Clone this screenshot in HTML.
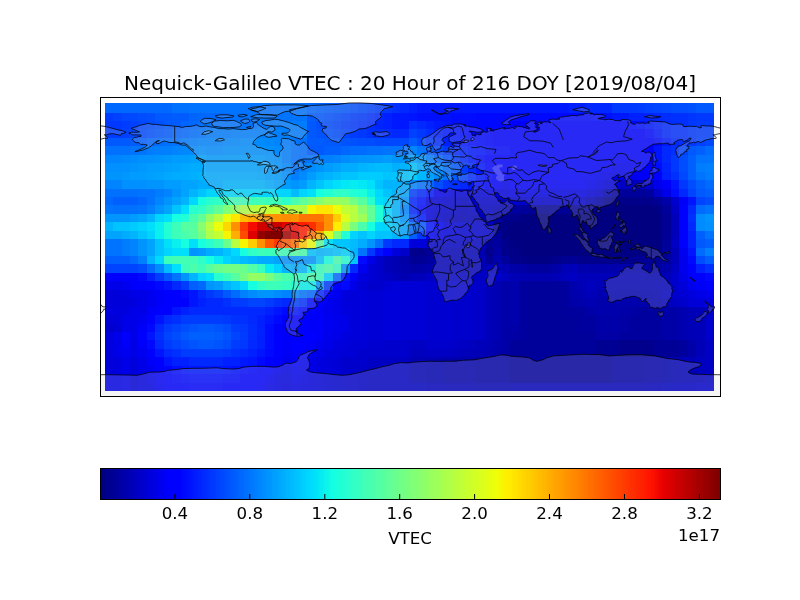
<!DOCTYPE html>
<html><head><meta charset="utf-8"><title>Nequick-Galileo VTEC</title><style>html,body{margin:0;padding:0;background:#fff;}body{width:800px;height:600px;position:relative;overflow:hidden;}</style></head><body>
<svg width="800" height="600" viewBox="0 0 800 600" style="position:absolute;left:0;top:0;will-change:transform">
<defs><clipPath id="ax"><rect x="100" y="97" width="620" height="299"/></clipPath></defs>
<g shape-rendering="crispEdges"><rect x="104.60" y="103.00" width="67.60" height="9.54" fill="#0068ff"/><rect x="172.20" y="103.00" width="16.90" height="9.54" fill="#0070ff"/><rect x="189.10" y="103.00" width="118.30" height="9.54" fill="#0074ff"/><rect x="307.40" y="103.00" width="8.45" height="9.54" fill="#0068ff"/><rect x="315.85" y="103.00" width="8.45" height="9.54" fill="#0064ff"/><rect x="324.30" y="103.00" width="8.45" height="9.54" fill="#0060ff"/><rect x="332.75" y="103.00" width="8.45" height="9.54" fill="#005cff"/><rect x="341.20" y="103.00" width="8.45" height="9.54" fill="#0058ff"/><rect x="349.65" y="103.00" width="8.45" height="9.54" fill="#0050ff"/><rect x="358.10" y="103.00" width="8.45" height="9.54" fill="#004cff"/><rect x="366.55" y="103.00" width="8.45" height="9.54" fill="#0044ff"/><rect x="375.00" y="103.00" width="8.45" height="9.54" fill="#003cff"/><rect x="383.45" y="103.00" width="8.45" height="9.54" fill="#0038ff"/><rect x="391.90" y="103.00" width="8.45" height="9.54" fill="#0030ff"/><rect x="400.35" y="103.00" width="8.45" height="9.54" fill="#0028ff"/><rect x="408.80" y="103.00" width="8.45" height="9.54" fill="#0020ff"/><rect x="417.25" y="103.00" width="152.10" height="9.54" fill="#0018ff"/><rect x="569.35" y="103.00" width="16.90" height="9.54" fill="#0020ff"/><rect x="586.25" y="103.00" width="25.35" height="9.54" fill="#0028ff"/><rect x="611.60" y="103.00" width="25.35" height="9.54" fill="#0038ff"/><rect x="636.95" y="103.00" width="8.45" height="9.54" fill="#003cff"/><rect x="645.40" y="103.00" width="8.45" height="9.54" fill="#0040ff"/><rect x="653.85" y="103.00" width="8.45" height="9.54" fill="#0044ff"/><rect x="662.30" y="103.00" width="8.45" height="9.54" fill="#0048ff"/><rect x="670.75" y="103.00" width="16.90" height="9.54" fill="#004cff"/><rect x="687.65" y="103.00" width="8.45" height="9.54" fill="#0050ff"/><rect x="696.10" y="103.00" width="17.90" height="9.54" fill="#0058ff"/><rect x="104.60" y="112.54" width="8.45" height="8.44" fill="#003cff"/><rect x="113.05" y="112.54" width="8.45" height="8.44" fill="#0040ff"/><rect x="121.50" y="112.54" width="16.90" height="8.44" fill="#0048ff"/><rect x="138.40" y="112.54" width="8.45" height="8.44" fill="#004cff"/><rect x="146.85" y="112.54" width="8.45" height="8.44" fill="#0050ff"/><rect x="155.30" y="112.54" width="16.90" height="8.44" fill="#0058ff"/><rect x="172.20" y="112.54" width="16.90" height="8.44" fill="#005cff"/><rect x="189.10" y="112.54" width="8.45" height="8.44" fill="#0064ff"/><rect x="197.55" y="112.54" width="25.35" height="8.44" fill="#0068ff"/><rect x="222.90" y="112.54" width="8.45" height="8.44" fill="#006cff"/><rect x="231.35" y="112.54" width="16.90" height="8.44" fill="#0070ff"/><rect x="248.25" y="112.54" width="59.15" height="8.44" fill="#0074ff"/><rect x="307.40" y="112.54" width="8.45" height="8.44" fill="#005cff"/><rect x="315.85" y="112.54" width="8.45" height="8.44" fill="#0058ff"/><rect x="324.30" y="112.54" width="8.45" height="8.44" fill="#0050ff"/><rect x="332.75" y="112.54" width="8.45" height="8.44" fill="#004cff"/><rect x="341.20" y="112.54" width="8.45" height="8.44" fill="#0044ff"/><rect x="349.65" y="112.54" width="8.45" height="8.44" fill="#003cff"/><rect x="358.10" y="112.54" width="8.45" height="8.44" fill="#0038ff"/><rect x="366.55" y="112.54" width="8.45" height="8.44" fill="#0030ff"/><rect x="375.00" y="112.54" width="8.45" height="8.44" fill="#0028ff"/><rect x="383.45" y="112.54" width="8.45" height="8.44" fill="#0020ff"/><rect x="391.90" y="112.54" width="16.90" height="8.44" fill="#0018ff"/><rect x="408.80" y="112.54" width="8.45" height="8.44" fill="#0014ff"/><rect x="417.25" y="112.54" width="33.80" height="8.44" fill="#0010ff"/><rect x="451.05" y="112.54" width="25.35" height="8.44" fill="#000cff"/><rect x="476.40" y="112.54" width="118.30" height="8.44" fill="#0008ff"/><rect x="594.70" y="112.54" width="8.45" height="8.44" fill="#000cff"/><rect x="603.15" y="112.54" width="8.45" height="8.44" fill="#0010ff"/><rect x="611.60" y="112.54" width="16.90" height="8.44" fill="#0018ff"/><rect x="628.50" y="112.54" width="16.90" height="8.44" fill="#0020ff"/><rect x="645.40" y="112.54" width="8.45" height="8.44" fill="#0024ff"/><rect x="653.85" y="112.54" width="8.45" height="8.44" fill="#0028ff"/><rect x="662.30" y="112.54" width="8.45" height="8.44" fill="#002cff"/><rect x="670.75" y="112.54" width="16.90" height="8.44" fill="#0030ff"/><rect x="687.65" y="112.54" width="8.45" height="8.44" fill="#0034ff"/><rect x="696.10" y="112.54" width="17.90" height="8.44" fill="#0038ff"/><rect x="104.60" y="120.98" width="16.90" height="8.44" fill="#0038ff"/><rect x="121.50" y="120.98" width="8.45" height="8.44" fill="#003cff"/><rect x="129.95" y="120.98" width="8.45" height="8.44" fill="#0040ff"/><rect x="138.40" y="120.98" width="8.45" height="8.44" fill="#0048ff"/><rect x="146.85" y="120.98" width="8.45" height="8.44" fill="#004cff"/><rect x="155.30" y="120.98" width="8.45" height="8.44" fill="#0050ff"/><rect x="163.75" y="120.98" width="8.45" height="8.44" fill="#0058ff"/><rect x="172.20" y="120.98" width="8.45" height="8.44" fill="#005cff"/><rect x="180.65" y="120.98" width="8.45" height="8.44" fill="#0064ff"/><rect x="189.10" y="120.98" width="8.45" height="8.44" fill="#0068ff"/><rect x="197.55" y="120.98" width="8.45" height="8.44" fill="#0070ff"/><rect x="206.00" y="120.98" width="50.70" height="8.44" fill="#0074ff"/><rect x="256.70" y="120.98" width="16.90" height="8.44" fill="#0078ff"/><rect x="273.60" y="120.98" width="33.80" height="8.44" fill="#007cff"/><rect x="307.40" y="120.98" width="8.45" height="8.44" fill="#0058ff"/><rect x="315.85" y="120.98" width="8.45" height="8.44" fill="#0050ff"/><rect x="324.30" y="120.98" width="8.45" height="8.44" fill="#004cff"/><rect x="332.75" y="120.98" width="8.45" height="8.44" fill="#0044ff"/><rect x="341.20" y="120.98" width="8.45" height="8.44" fill="#003cff"/><rect x="349.65" y="120.98" width="8.45" height="8.44" fill="#0038ff"/><rect x="358.10" y="120.98" width="8.45" height="8.44" fill="#0030ff"/><rect x="366.55" y="120.98" width="8.45" height="8.44" fill="#002cff"/><rect x="375.00" y="120.98" width="8.45" height="8.44" fill="#0024ff"/><rect x="383.45" y="120.98" width="8.45" height="8.44" fill="#0020ff"/><rect x="391.90" y="120.98" width="16.90" height="8.44" fill="#0018ff"/><rect x="408.80" y="120.98" width="8.45" height="8.44" fill="#0030ff"/><rect x="417.25" y="120.98" width="8.45" height="8.44" fill="#0028ff"/><rect x="425.70" y="120.98" width="8.45" height="8.44" fill="#0020ff"/><rect x="434.15" y="120.98" width="8.45" height="8.44" fill="#0018ff"/><rect x="442.60" y="120.98" width="8.45" height="8.44" fill="#0014ff"/><rect x="451.05" y="120.98" width="8.45" height="8.44" fill="#0010ff"/><rect x="459.50" y="120.98" width="8.45" height="8.44" fill="#000cff"/><rect x="467.95" y="120.98" width="42.25" height="8.44" fill="#0008ff"/><rect x="510.20" y="120.98" width="109.85" height="8.44" fill="#0000ff"/><rect x="620.05" y="120.98" width="8.45" height="8.44" fill="#0004ff"/><rect x="628.50" y="120.98" width="8.45" height="8.44" fill="#0008ff"/><rect x="636.95" y="120.98" width="8.45" height="8.44" fill="#0010ff"/><rect x="645.40" y="120.98" width="8.45" height="8.44" fill="#0018ff"/><rect x="653.85" y="120.98" width="8.45" height="8.44" fill="#0020ff"/><rect x="662.30" y="120.98" width="8.45" height="8.44" fill="#0028ff"/><rect x="670.75" y="120.98" width="16.90" height="8.44" fill="#0030ff"/><rect x="687.65" y="120.98" width="8.45" height="8.44" fill="#0038ff"/><rect x="696.10" y="120.98" width="17.90" height="8.44" fill="#003cff"/><rect x="104.60" y="129.42" width="16.90" height="8.44" fill="#003cff"/><rect x="121.50" y="129.42" width="8.45" height="8.44" fill="#0040ff"/><rect x="129.95" y="129.42" width="8.45" height="8.44" fill="#0048ff"/><rect x="138.40" y="129.42" width="8.45" height="8.44" fill="#004cff"/><rect x="146.85" y="129.42" width="8.45" height="8.44" fill="#0050ff"/><rect x="155.30" y="129.42" width="8.45" height="8.44" fill="#0058ff"/><rect x="163.75" y="129.42" width="8.45" height="8.44" fill="#005cff"/><rect x="172.20" y="129.42" width="8.45" height="8.44" fill="#0064ff"/><rect x="180.65" y="129.42" width="8.45" height="8.44" fill="#0068ff"/><rect x="189.10" y="129.42" width="8.45" height="8.44" fill="#0070ff"/><rect x="197.55" y="129.42" width="8.45" height="8.44" fill="#0074ff"/><rect x="206.00" y="129.42" width="25.35" height="8.44" fill="#007cff"/><rect x="231.35" y="129.42" width="59.15" height="8.44" fill="#0080ff"/><rect x="290.50" y="129.42" width="16.90" height="8.44" fill="#007cff"/><rect x="307.40" y="129.42" width="8.45" height="8.44" fill="#0058ff"/><rect x="315.85" y="129.42" width="8.45" height="8.44" fill="#0054ff"/><rect x="324.30" y="129.42" width="8.45" height="8.44" fill="#0050ff"/><rect x="332.75" y="129.42" width="8.45" height="8.44" fill="#004cff"/><rect x="341.20" y="129.42" width="8.45" height="8.44" fill="#0044ff"/><rect x="349.65" y="129.42" width="8.45" height="8.44" fill="#003cff"/><rect x="358.10" y="129.42" width="8.45" height="8.44" fill="#0038ff"/><rect x="366.55" y="129.42" width="16.90" height="8.44" fill="#0030ff"/><rect x="383.45" y="129.42" width="8.45" height="8.44" fill="#002cff"/><rect x="391.90" y="129.42" width="16.90" height="8.44" fill="#0028ff"/><rect x="408.80" y="129.42" width="8.45" height="8.44" fill="#0040ff"/><rect x="417.25" y="129.42" width="8.45" height="8.44" fill="#0038ff"/><rect x="425.70" y="129.42" width="8.45" height="8.44" fill="#002cff"/><rect x="434.15" y="129.42" width="8.45" height="8.44" fill="#0020ff"/><rect x="442.60" y="129.42" width="8.45" height="8.44" fill="#0018ff"/><rect x="451.05" y="129.42" width="8.45" height="8.44" fill="#0014ff"/><rect x="459.50" y="129.42" width="8.45" height="8.44" fill="#000cff"/><rect x="467.95" y="129.42" width="16.90" height="8.44" fill="#0008ff"/><rect x="484.85" y="129.42" width="8.45" height="8.44" fill="#0004ff"/><rect x="493.30" y="129.42" width="152.10" height="8.44" fill="#0000ff"/><rect x="645.40" y="129.42" width="8.45" height="8.44" fill="#0008ff"/><rect x="653.85" y="129.42" width="8.45" height="8.44" fill="#0018ff"/><rect x="662.30" y="129.42" width="8.45" height="8.44" fill="#0028ff"/><rect x="670.75" y="129.42" width="16.90" height="8.44" fill="#0030ff"/><rect x="687.65" y="129.42" width="8.45" height="8.44" fill="#0038ff"/><rect x="696.10" y="129.42" width="17.90" height="8.44" fill="#003cff"/><rect x="104.60" y="137.86" width="25.35" height="8.44" fill="#0058ff"/><rect x="129.95" y="137.86" width="8.45" height="8.44" fill="#005cff"/><rect x="138.40" y="137.86" width="8.45" height="8.44" fill="#0060ff"/><rect x="146.85" y="137.86" width="8.45" height="8.44" fill="#0068ff"/><rect x="155.30" y="137.86" width="8.45" height="8.44" fill="#006cff"/><rect x="163.75" y="137.86" width="8.45" height="8.44" fill="#0070ff"/><rect x="172.20" y="137.86" width="8.45" height="8.44" fill="#0074ff"/><rect x="180.65" y="137.86" width="8.45" height="8.44" fill="#007cff"/><rect x="189.10" y="137.86" width="8.45" height="8.44" fill="#0080ff"/><rect x="197.55" y="137.86" width="25.35" height="8.44" fill="#0084ff"/><rect x="222.90" y="137.86" width="16.90" height="8.44" fill="#0088ff"/><rect x="239.80" y="137.86" width="25.35" height="8.44" fill="#008cff"/><rect x="265.15" y="137.86" width="8.45" height="8.44" fill="#0088ff"/><rect x="273.60" y="137.86" width="8.45" height="8.44" fill="#0084ff"/><rect x="282.05" y="137.86" width="8.45" height="8.44" fill="#007cff"/><rect x="290.50" y="137.86" width="8.45" height="8.44" fill="#0074ff"/><rect x="298.95" y="137.86" width="8.45" height="8.44" fill="#0070ff"/><rect x="307.40" y="137.86" width="16.90" height="8.44" fill="#005cff"/><rect x="324.30" y="137.86" width="16.90" height="8.44" fill="#0058ff"/><rect x="341.20" y="137.86" width="8.45" height="8.44" fill="#0054ff"/><rect x="349.65" y="137.86" width="8.45" height="8.44" fill="#0050ff"/><rect x="358.10" y="137.86" width="16.90" height="8.44" fill="#004cff"/><rect x="375.00" y="137.86" width="33.80" height="8.44" fill="#0048ff"/><rect x="408.80" y="137.86" width="8.45" height="8.44" fill="#0058ff"/><rect x="417.25" y="137.86" width="8.45" height="8.44" fill="#0048ff"/><rect x="425.70" y="137.86" width="8.45" height="8.44" fill="#0038ff"/><rect x="434.15" y="137.86" width="8.45" height="8.44" fill="#002cff"/><rect x="442.60" y="137.86" width="8.45" height="8.44" fill="#0020ff"/><rect x="451.05" y="137.86" width="8.45" height="8.44" fill="#0018ff"/><rect x="459.50" y="137.86" width="8.45" height="8.44" fill="#0014ff"/><rect x="467.95" y="137.86" width="8.45" height="8.44" fill="#000cff"/><rect x="476.40" y="137.86" width="8.45" height="8.44" fill="#0008ff"/><rect x="484.85" y="137.86" width="8.45" height="8.44" fill="#0004ff"/><rect x="493.30" y="137.86" width="160.55" height="8.44" fill="#0000ff"/><rect x="653.85" y="137.86" width="8.45" height="8.44" fill="#0008ff"/><rect x="662.30" y="137.86" width="8.45" height="8.44" fill="#0018ff"/><rect x="670.75" y="137.86" width="8.45" height="8.44" fill="#0028ff"/><rect x="679.20" y="137.86" width="8.45" height="8.44" fill="#0030ff"/><rect x="687.65" y="137.86" width="8.45" height="8.44" fill="#0038ff"/><rect x="696.10" y="137.86" width="8.45" height="8.44" fill="#0040ff"/><rect x="704.55" y="137.86" width="9.45" height="8.44" fill="#0048ff"/><rect x="104.60" y="146.30" width="25.35" height="8.44" fill="#0070ff"/><rect x="129.95" y="146.30" width="16.90" height="8.44" fill="#0074ff"/><rect x="146.85" y="146.30" width="8.45" height="8.44" fill="#007cff"/><rect x="155.30" y="146.30" width="16.90" height="8.44" fill="#0080ff"/><rect x="172.20" y="146.30" width="8.45" height="8.44" fill="#0084ff"/><rect x="180.65" y="146.30" width="8.45" height="8.44" fill="#0088ff"/><rect x="189.10" y="146.30" width="8.45" height="8.44" fill="#008cff"/><rect x="197.55" y="146.30" width="8.45" height="8.44" fill="#0090ff"/><rect x="206.00" y="146.30" width="16.90" height="8.44" fill="#008cff"/><rect x="222.90" y="146.30" width="50.70" height="8.44" fill="#0090ff"/><rect x="273.60" y="146.30" width="8.45" height="8.44" fill="#008cff"/><rect x="282.05" y="146.30" width="8.45" height="8.44" fill="#0080ff"/><rect x="290.50" y="146.30" width="8.45" height="8.44" fill="#0074ff"/><rect x="298.95" y="146.30" width="8.45" height="8.44" fill="#0070ff"/><rect x="307.40" y="146.30" width="16.90" height="8.44" fill="#0058ff"/><rect x="324.30" y="146.30" width="16.90" height="8.44" fill="#0060ff"/><rect x="341.20" y="146.30" width="8.45" height="8.44" fill="#0068ff"/><rect x="349.65" y="146.30" width="16.90" height="8.44" fill="#006cff"/><rect x="366.55" y="146.30" width="16.90" height="8.44" fill="#0070ff"/><rect x="383.45" y="146.30" width="25.35" height="8.44" fill="#0074ff"/><rect x="408.80" y="146.30" width="8.45" height="8.44" fill="#0084ff"/><rect x="417.25" y="146.30" width="8.45" height="8.44" fill="#0074ff"/><rect x="425.70" y="146.30" width="8.45" height="8.44" fill="#005cff"/><rect x="434.15" y="146.30" width="8.45" height="8.44" fill="#0048ff"/><rect x="442.60" y="146.30" width="8.45" height="8.44" fill="#0038ff"/><rect x="451.05" y="146.30" width="8.45" height="8.44" fill="#0028ff"/><rect x="459.50" y="146.30" width="8.45" height="8.44" fill="#0020ff"/><rect x="467.95" y="146.30" width="8.45" height="8.44" fill="#0018ff"/><rect x="476.40" y="146.30" width="8.45" height="8.44" fill="#0014ff"/><rect x="484.85" y="146.30" width="8.45" height="8.44" fill="#000cff"/><rect x="493.30" y="146.30" width="16.90" height="8.44" fill="#0008ff"/><rect x="510.20" y="146.30" width="143.65" height="8.44" fill="#0000ff"/><rect x="653.85" y="146.30" width="8.45" height="8.44" fill="#0014ff"/><rect x="662.30" y="146.30" width="8.45" height="8.44" fill="#0028ff"/><rect x="670.75" y="146.30" width="8.45" height="8.44" fill="#0030ff"/><rect x="679.20" y="146.30" width="8.45" height="8.44" fill="#0044ff"/><rect x="687.65" y="146.30" width="8.45" height="8.44" fill="#0058ff"/><rect x="696.10" y="146.30" width="8.45" height="8.44" fill="#0060ff"/><rect x="704.55" y="146.30" width="9.45" height="8.44" fill="#006cff"/><rect x="104.60" y="154.74" width="16.90" height="8.44" fill="#0084ff"/><rect x="121.50" y="154.74" width="8.45" height="8.44" fill="#0088ff"/><rect x="129.95" y="154.74" width="8.45" height="8.44" fill="#008cff"/><rect x="138.40" y="154.74" width="16.90" height="8.44" fill="#0090ff"/><rect x="155.30" y="154.74" width="8.45" height="8.44" fill="#0094ff"/><rect x="163.75" y="154.74" width="8.45" height="8.44" fill="#0098ff"/><rect x="172.20" y="154.74" width="16.90" height="8.44" fill="#009cff"/><rect x="189.10" y="154.74" width="8.45" height="8.44" fill="#00a0ff"/><rect x="197.55" y="154.74" width="8.45" height="8.44" fill="#00a4ff"/><rect x="206.00" y="154.74" width="59.15" height="8.44" fill="#009cff"/><rect x="265.15" y="154.74" width="8.45" height="8.44" fill="#0094ff"/><rect x="273.60" y="154.74" width="8.45" height="8.44" fill="#0090ff"/><rect x="282.05" y="154.74" width="8.45" height="8.44" fill="#0080ff"/><rect x="290.50" y="154.74" width="8.45" height="8.44" fill="#0074ff"/><rect x="298.95" y="154.74" width="8.45" height="8.44" fill="#0070ff"/><rect x="307.40" y="154.74" width="8.45" height="8.44" fill="#0074ff"/><rect x="315.85" y="154.74" width="8.45" height="8.44" fill="#007cff"/><rect x="324.30" y="154.74" width="8.45" height="8.44" fill="#0080ff"/><rect x="332.75" y="154.74" width="8.45" height="8.44" fill="#0084ff"/><rect x="341.20" y="154.74" width="8.45" height="8.44" fill="#008cff"/><rect x="349.65" y="154.74" width="8.45" height="8.44" fill="#0090ff"/><rect x="358.10" y="154.74" width="16.90" height="8.44" fill="#0094ff"/><rect x="375.00" y="154.74" width="8.45" height="8.44" fill="#0098ff"/><rect x="383.45" y="154.74" width="8.45" height="8.44" fill="#009cff"/><rect x="391.90" y="154.74" width="16.90" height="8.44" fill="#0094ff"/><rect x="408.80" y="154.74" width="8.45" height="8.44" fill="#00a4ff"/><rect x="417.25" y="154.74" width="8.45" height="8.44" fill="#0094ff"/><rect x="425.70" y="154.74" width="8.45" height="8.44" fill="#007cff"/><rect x="434.15" y="154.74" width="8.45" height="8.44" fill="#0064ff"/><rect x="442.60" y="154.74" width="8.45" height="8.44" fill="#0050ff"/><rect x="451.05" y="154.74" width="8.45" height="8.44" fill="#003cff"/><rect x="459.50" y="154.74" width="8.45" height="8.44" fill="#0028ff"/><rect x="467.95" y="154.74" width="8.45" height="8.44" fill="#0018ff"/><rect x="476.40" y="154.74" width="8.45" height="8.44" fill="#0008ff"/><rect x="484.85" y="154.74" width="126.75" height="8.44" fill="#0000ff"/><rect x="611.60" y="154.74" width="25.35" height="8.44" fill="#0000fa"/><rect x="636.95" y="154.74" width="16.90" height="8.44" fill="#0000ff"/><rect x="653.85" y="154.74" width="8.45" height="8.44" fill="#0014ff"/><rect x="662.30" y="154.74" width="8.45" height="8.44" fill="#0028ff"/><rect x="670.75" y="154.74" width="8.45" height="8.44" fill="#0038ff"/><rect x="679.20" y="154.74" width="8.45" height="8.44" fill="#004cff"/><rect x="687.65" y="154.74" width="8.45" height="8.44" fill="#0060ff"/><rect x="696.10" y="154.74" width="17.90" height="8.44" fill="#0074ff"/><rect x="104.60" y="163.18" width="25.35" height="8.44" fill="#0090ff"/><rect x="129.95" y="163.18" width="8.45" height="8.44" fill="#0094ff"/><rect x="138.40" y="163.18" width="8.45" height="8.44" fill="#0098ff"/><rect x="146.85" y="163.18" width="16.90" height="8.44" fill="#009cff"/><rect x="163.75" y="163.18" width="8.45" height="8.44" fill="#00a0ff"/><rect x="172.20" y="163.18" width="8.45" height="8.44" fill="#00a4ff"/><rect x="180.65" y="163.18" width="8.45" height="8.44" fill="#00a8ff"/><rect x="189.10" y="163.18" width="16.90" height="8.44" fill="#00acff"/><rect x="206.00" y="163.18" width="50.70" height="8.44" fill="#00a4ff"/><rect x="256.70" y="163.18" width="8.45" height="8.44" fill="#00a0ff"/><rect x="265.15" y="163.18" width="8.45" height="8.44" fill="#009cff"/><rect x="273.60" y="163.18" width="8.45" height="8.44" fill="#0094ff"/><rect x="282.05" y="163.18" width="8.45" height="8.44" fill="#0088ff"/><rect x="290.50" y="163.18" width="8.45" height="8.44" fill="#0074ff"/><rect x="298.95" y="163.18" width="8.45" height="8.44" fill="#0080ff"/><rect x="307.40" y="163.18" width="8.45" height="8.44" fill="#008cff"/><rect x="315.85" y="163.18" width="8.45" height="8.44" fill="#0094ff"/><rect x="324.30" y="163.18" width="8.45" height="8.44" fill="#009cff"/><rect x="332.75" y="163.18" width="8.45" height="8.44" fill="#00a4ff"/><rect x="341.20" y="163.18" width="16.90" height="8.44" fill="#00acff"/><rect x="358.10" y="163.18" width="8.45" height="8.44" fill="#00b4ff"/><rect x="366.55" y="163.18" width="8.45" height="8.44" fill="#00b8ff"/><rect x="375.00" y="163.18" width="16.90" height="8.44" fill="#00bcff"/><rect x="391.90" y="163.18" width="8.45" height="8.44" fill="#00b0ff"/><rect x="400.35" y="163.18" width="8.45" height="8.44" fill="#00b4ff"/><rect x="408.80" y="163.18" width="8.45" height="8.44" fill="#00c4ff"/><rect x="417.25" y="163.18" width="8.45" height="8.44" fill="#00acff"/><rect x="425.70" y="163.18" width="8.45" height="8.44" fill="#0094ff"/><rect x="434.15" y="163.18" width="8.45" height="8.44" fill="#0084ff"/><rect x="442.60" y="163.18" width="8.45" height="8.44" fill="#0070ff"/><rect x="451.05" y="163.18" width="8.45" height="8.44" fill="#0058ff"/><rect x="459.50" y="163.18" width="8.45" height="8.44" fill="#003cff"/><rect x="467.95" y="163.18" width="8.45" height="8.44" fill="#0028ff"/><rect x="476.40" y="163.18" width="8.45" height="8.44" fill="#0014ff"/><rect x="484.85" y="163.18" width="8.45" height="8.44" fill="#0004ff"/><rect x="493.30" y="163.18" width="101.40" height="8.44" fill="#0000ff"/><rect x="594.70" y="163.18" width="16.90" height="8.44" fill="#0000fa"/><rect x="611.60" y="163.18" width="16.90" height="8.44" fill="#0000f1"/><rect x="628.50" y="163.18" width="8.45" height="8.44" fill="#0000f6"/><rect x="636.95" y="163.18" width="8.45" height="8.44" fill="#0000fa"/><rect x="645.40" y="163.18" width="8.45" height="8.44" fill="#0000ff"/><rect x="653.85" y="163.18" width="8.45" height="8.44" fill="#000cff"/><rect x="662.30" y="163.18" width="8.45" height="8.44" fill="#0024ff"/><rect x="670.75" y="163.18" width="8.45" height="8.44" fill="#0038ff"/><rect x="679.20" y="163.18" width="8.45" height="8.44" fill="#004cff"/><rect x="687.65" y="163.18" width="8.45" height="8.44" fill="#0060ff"/><rect x="696.10" y="163.18" width="8.45" height="8.44" fill="#007cff"/><rect x="704.55" y="163.18" width="9.45" height="8.44" fill="#0080ff"/><rect x="104.60" y="171.62" width="16.90" height="8.44" fill="#0094ff"/><rect x="121.50" y="171.62" width="8.45" height="8.44" fill="#0098ff"/><rect x="129.95" y="171.62" width="16.90" height="8.44" fill="#009cff"/><rect x="146.85" y="171.62" width="8.45" height="8.44" fill="#00a0ff"/><rect x="155.30" y="171.62" width="8.45" height="8.44" fill="#00a4ff"/><rect x="163.75" y="171.62" width="8.45" height="8.44" fill="#00a8ff"/><rect x="172.20" y="171.62" width="16.90" height="8.44" fill="#00acff"/><rect x="189.10" y="171.62" width="8.45" height="8.44" fill="#00b0ff"/><rect x="197.55" y="171.62" width="8.45" height="8.44" fill="#00b4ff"/><rect x="206.00" y="171.62" width="50.70" height="8.44" fill="#00acff"/><rect x="256.70" y="171.62" width="8.45" height="8.44" fill="#00a8ff"/><rect x="265.15" y="171.62" width="8.45" height="8.44" fill="#00a0ff"/><rect x="273.60" y="171.62" width="8.45" height="8.44" fill="#009cff"/><rect x="282.05" y="171.62" width="8.45" height="8.44" fill="#0090ff"/><rect x="290.50" y="171.62" width="8.45" height="8.44" fill="#0080ff"/><rect x="298.95" y="171.62" width="8.45" height="8.44" fill="#008cff"/><rect x="307.40" y="171.62" width="8.45" height="8.44" fill="#009cff"/><rect x="315.85" y="171.62" width="8.45" height="8.44" fill="#00acff"/><rect x="324.30" y="171.62" width="8.45" height="8.44" fill="#00b4ff"/><rect x="332.75" y="171.62" width="8.45" height="8.44" fill="#00bcff"/><rect x="341.20" y="171.62" width="16.90" height="8.44" fill="#00c4ff"/><rect x="358.10" y="171.62" width="25.35" height="8.44" fill="#00ccff"/><rect x="383.45" y="171.62" width="25.35" height="8.44" fill="#00c4ff"/><rect x="408.80" y="171.62" width="8.45" height="8.44" fill="#00ccff"/><rect x="417.25" y="171.62" width="8.45" height="8.44" fill="#00b8ff"/><rect x="425.70" y="171.62" width="8.45" height="8.44" fill="#00a4ff"/><rect x="434.15" y="171.62" width="8.45" height="8.44" fill="#0090ff"/><rect x="442.60" y="171.62" width="8.45" height="8.44" fill="#0074ff"/><rect x="451.05" y="171.62" width="8.45" height="8.44" fill="#005cff"/><rect x="459.50" y="171.62" width="8.45" height="8.44" fill="#0044ff"/><rect x="467.95" y="171.62" width="8.45" height="8.44" fill="#002cff"/><rect x="476.40" y="171.62" width="8.45" height="8.44" fill="#0018ff"/><rect x="484.85" y="171.62" width="8.45" height="8.44" fill="#0008ff"/><rect x="493.30" y="171.62" width="84.50" height="8.44" fill="#0000ff"/><rect x="577.80" y="171.62" width="16.90" height="8.44" fill="#0000fa"/><rect x="594.70" y="171.62" width="8.45" height="8.44" fill="#0000f1"/><rect x="603.15" y="171.62" width="8.45" height="8.44" fill="#0000ed"/><rect x="611.60" y="171.62" width="16.90" height="8.44" fill="#0000e8"/><rect x="628.50" y="171.62" width="8.45" height="8.44" fill="#0000ed"/><rect x="636.95" y="171.62" width="8.45" height="8.44" fill="#0000f6"/><rect x="645.40" y="171.62" width="8.45" height="8.44" fill="#0000fa"/><rect x="653.85" y="171.62" width="8.45" height="8.44" fill="#0000ff"/><rect x="662.30" y="171.62" width="8.45" height="8.44" fill="#0020ff"/><rect x="670.75" y="171.62" width="8.45" height="8.44" fill="#0030ff"/><rect x="679.20" y="171.62" width="8.45" height="8.44" fill="#0048ff"/><rect x="687.65" y="171.62" width="8.45" height="8.44" fill="#0060ff"/><rect x="696.10" y="171.62" width="8.45" height="8.44" fill="#0074ff"/><rect x="704.55" y="171.62" width="9.45" height="8.44" fill="#007cff"/><rect x="104.60" y="180.06" width="16.90" height="8.44" fill="#0084ff"/><rect x="121.50" y="180.06" width="25.35" height="8.44" fill="#0090ff"/><rect x="146.85" y="180.06" width="16.90" height="8.44" fill="#0094ff"/><rect x="163.75" y="180.06" width="16.90" height="8.44" fill="#009cff"/><rect x="180.65" y="180.06" width="16.90" height="8.44" fill="#00a4ff"/><rect x="197.55" y="180.06" width="25.35" height="8.44" fill="#00acff"/><rect x="222.90" y="180.06" width="42.25" height="8.44" fill="#00b4ff"/><rect x="265.15" y="180.06" width="8.45" height="8.44" fill="#00acff"/><rect x="273.60" y="180.06" width="8.45" height="8.44" fill="#00a4ff"/><rect x="282.05" y="180.06" width="8.45" height="8.44" fill="#009cff"/><rect x="290.50" y="180.06" width="8.45" height="8.44" fill="#0094ff"/><rect x="298.95" y="180.06" width="8.45" height="8.44" fill="#009cff"/><rect x="307.40" y="180.06" width="8.45" height="8.44" fill="#00b4ff"/><rect x="315.85" y="180.06" width="8.45" height="8.44" fill="#00c4ff"/><rect x="324.30" y="180.06" width="8.45" height="8.44" fill="#00d4ff"/><rect x="332.75" y="180.06" width="8.45" height="8.44" fill="#00e0fb"/><rect x="341.20" y="180.06" width="8.45" height="8.44" fill="#02e8f4"/><rect x="349.65" y="180.06" width="8.45" height="8.44" fill="#06ecf1"/><rect x="358.10" y="180.06" width="8.45" height="8.44" fill="#02e8f4"/><rect x="366.55" y="180.06" width="8.45" height="8.44" fill="#00e0fb"/><rect x="375.00" y="180.06" width="8.45" height="8.44" fill="#00c4ff"/><rect x="383.45" y="180.06" width="16.90" height="8.44" fill="#00b4ff"/><rect x="400.35" y="180.06" width="8.45" height="8.44" fill="#00acff"/><rect x="408.80" y="180.06" width="8.45" height="8.44" fill="#0084ff"/><rect x="417.25" y="180.06" width="8.45" height="8.44" fill="#0074ff"/><rect x="425.70" y="180.06" width="8.45" height="8.44" fill="#0068ff"/><rect x="434.15" y="180.06" width="8.45" height="8.44" fill="#004cff"/><rect x="442.60" y="180.06" width="8.45" height="8.44" fill="#0038ff"/><rect x="451.05" y="180.06" width="8.45" height="8.44" fill="#0030ff"/><rect x="459.50" y="180.06" width="8.45" height="8.44" fill="#0028ff"/><rect x="467.95" y="180.06" width="8.45" height="8.44" fill="#0018ff"/><rect x="476.40" y="180.06" width="8.45" height="8.44" fill="#0008ff"/><rect x="484.85" y="180.06" width="8.45" height="8.44" fill="#0000ff"/><rect x="493.30" y="180.06" width="8.45" height="8.44" fill="#0000fa"/><rect x="501.75" y="180.06" width="8.45" height="8.44" fill="#0000ed"/><rect x="510.20" y="180.06" width="76.05" height="8.44" fill="#0000fa"/><rect x="586.25" y="180.06" width="8.45" height="8.44" fill="#0000f1"/><rect x="594.70" y="180.06" width="8.45" height="8.44" fill="#0000e8"/><rect x="603.15" y="180.06" width="8.45" height="8.44" fill="#0000da"/><rect x="611.60" y="180.06" width="8.45" height="8.44" fill="#0000d6"/><rect x="620.05" y="180.06" width="25.35" height="8.44" fill="#0000c4"/><rect x="645.40" y="180.06" width="8.45" height="8.44" fill="#0000cd"/><rect x="653.85" y="180.06" width="8.45" height="8.44" fill="#0000e8"/><rect x="662.30" y="180.06" width="8.45" height="8.44" fill="#0000fa"/><rect x="670.75" y="180.06" width="8.45" height="8.44" fill="#0014ff"/><rect x="679.20" y="180.06" width="8.45" height="8.44" fill="#0038ff"/><rect x="687.65" y="180.06" width="8.45" height="8.44" fill="#004cff"/><rect x="696.10" y="180.06" width="8.45" height="8.44" fill="#0060ff"/><rect x="704.55" y="180.06" width="9.45" height="8.44" fill="#006cff"/><rect x="104.60" y="188.50" width="33.80" height="8.44" fill="#0070ff"/><rect x="138.40" y="188.50" width="16.90" height="8.44" fill="#0074ff"/><rect x="155.30" y="188.50" width="8.45" height="8.44" fill="#007cff"/><rect x="163.75" y="188.50" width="8.45" height="8.44" fill="#0084ff"/><rect x="172.20" y="188.50" width="8.45" height="8.44" fill="#0094ff"/><rect x="180.65" y="188.50" width="8.45" height="8.44" fill="#00a4ff"/><rect x="189.10" y="188.50" width="8.45" height="8.44" fill="#00b4ff"/><rect x="197.55" y="188.50" width="8.45" height="8.44" fill="#00c4ff"/><rect x="206.00" y="188.50" width="16.90" height="8.44" fill="#00d4ff"/><rect x="222.90" y="188.50" width="16.90" height="8.44" fill="#00d8ff"/><rect x="239.80" y="188.50" width="50.70" height="8.44" fill="#00d4ff"/><rect x="290.50" y="188.50" width="8.45" height="8.44" fill="#00bcff"/><rect x="298.95" y="188.50" width="8.45" height="8.44" fill="#00d4ff"/><rect x="307.40" y="188.50" width="8.45" height="8.44" fill="#00e0fb"/><rect x="315.85" y="188.50" width="8.45" height="8.44" fill="#16ffe1"/><rect x="324.30" y="188.50" width="8.45" height="8.44" fill="#23ffd4"/><rect x="332.75" y="188.50" width="16.90" height="8.44" fill="#30ffc7"/><rect x="349.65" y="188.50" width="8.45" height="8.44" fill="#23ffd4"/><rect x="358.10" y="188.50" width="8.45" height="8.44" fill="#1cffdb"/><rect x="366.55" y="188.50" width="8.45" height="8.44" fill="#09f0ee"/><rect x="375.00" y="188.50" width="8.45" height="8.44" fill="#00d8ff"/><rect x="383.45" y="188.50" width="8.45" height="8.44" fill="#00c4ff"/><rect x="391.90" y="188.50" width="8.45" height="8.44" fill="#00b4ff"/><rect x="400.35" y="188.50" width="8.45" height="8.44" fill="#00a4ff"/><rect x="408.80" y="188.50" width="8.45" height="8.44" fill="#003cff"/><rect x="417.25" y="188.50" width="8.45" height="8.44" fill="#0028ff"/><rect x="425.70" y="188.50" width="8.45" height="8.44" fill="#0018ff"/><rect x="434.15" y="188.50" width="8.45" height="8.44" fill="#0000ed"/><rect x="442.60" y="188.50" width="8.45" height="8.44" fill="#0000e8"/><rect x="451.05" y="188.50" width="8.45" height="8.44" fill="#0000df"/><rect x="459.50" y="188.50" width="25.35" height="8.44" fill="#0000da"/><rect x="484.85" y="188.50" width="25.35" height="8.44" fill="#0000df"/><rect x="510.20" y="188.50" width="76.05" height="8.44" fill="#0000e8"/><rect x="586.25" y="188.50" width="8.45" height="8.44" fill="#0000da"/><rect x="594.70" y="188.50" width="8.45" height="8.44" fill="#0000cd"/><rect x="603.15" y="188.50" width="8.45" height="8.44" fill="#0000b2"/><rect x="611.60" y="188.50" width="8.45" height="8.44" fill="#00009f"/><rect x="620.05" y="188.50" width="25.35" height="8.44" fill="#00009b"/><rect x="645.40" y="188.50" width="8.45" height="8.44" fill="#00009f"/><rect x="653.85" y="188.50" width="8.45" height="8.44" fill="#0000c8"/><rect x="662.30" y="188.50" width="8.45" height="8.44" fill="#0000e8"/><rect x="670.75" y="188.50" width="8.45" height="8.44" fill="#000cff"/><rect x="679.20" y="188.50" width="8.45" height="8.44" fill="#0028ff"/><rect x="687.65" y="188.50" width="8.45" height="8.44" fill="#0044ff"/><rect x="696.10" y="188.50" width="8.45" height="8.44" fill="#0058ff"/><rect x="704.55" y="188.50" width="9.45" height="8.44" fill="#0060ff"/><rect x="104.60" y="196.94" width="8.45" height="8.44" fill="#0068ff"/><rect x="113.05" y="196.94" width="25.35" height="8.44" fill="#0060ff"/><rect x="138.40" y="196.94" width="8.45" height="8.44" fill="#0068ff"/><rect x="146.85" y="196.94" width="8.45" height="8.44" fill="#0074ff"/><rect x="155.30" y="196.94" width="8.45" height="8.44" fill="#0084ff"/><rect x="163.75" y="196.94" width="8.45" height="8.44" fill="#0094ff"/><rect x="172.20" y="196.94" width="8.45" height="8.44" fill="#00a4ff"/><rect x="180.65" y="196.94" width="8.45" height="8.44" fill="#00b4ff"/><rect x="189.10" y="196.94" width="8.45" height="8.44" fill="#00d8ff"/><rect x="197.55" y="196.94" width="8.45" height="8.44" fill="#16ffe1"/><rect x="206.00" y="196.94" width="8.45" height="8.44" fill="#29ffce"/><rect x="214.45" y="196.94" width="8.45" height="8.44" fill="#30ffc7"/><rect x="222.90" y="196.94" width="8.45" height="8.44" fill="#3cffba"/><rect x="231.35" y="196.94" width="33.80" height="8.44" fill="#40ffb7"/><rect x="265.15" y="196.94" width="16.90" height="8.44" fill="#3cffba"/><rect x="282.05" y="196.94" width="8.45" height="8.44" fill="#30ffc7"/><rect x="290.50" y="196.94" width="8.45" height="8.44" fill="#49ffad"/><rect x="298.95" y="196.94" width="8.45" height="8.44" fill="#60ff97"/><rect x="307.40" y="196.94" width="8.45" height="8.44" fill="#73ff83"/><rect x="315.85" y="196.94" width="8.45" height="8.44" fill="#87ff70"/><rect x="324.30" y="196.94" width="16.90" height="8.44" fill="#9aff5d"/><rect x="341.20" y="196.94" width="8.45" height="8.44" fill="#94ff63"/><rect x="349.65" y="196.94" width="8.45" height="8.44" fill="#73ff83"/><rect x="358.10" y="196.94" width="8.45" height="8.44" fill="#56ffa0"/><rect x="366.55" y="196.94" width="8.45" height="8.44" fill="#29ffce"/><rect x="375.00" y="196.94" width="8.45" height="8.44" fill="#00e0fb"/><rect x="383.45" y="196.94" width="8.45" height="8.44" fill="#00d4ff"/><rect x="391.90" y="196.94" width="8.45" height="8.44" fill="#00b4ff"/><rect x="400.35" y="196.94" width="8.45" height="8.44" fill="#0094ff"/><rect x="408.80" y="196.94" width="8.45" height="8.44" fill="#0024ff"/><rect x="417.25" y="196.94" width="8.45" height="8.44" fill="#0010ff"/><rect x="425.70" y="196.94" width="8.45" height="8.44" fill="#0000df"/><rect x="434.15" y="196.94" width="8.45" height="8.44" fill="#0000da"/><rect x="442.60" y="196.94" width="8.45" height="8.44" fill="#0000d1"/><rect x="451.05" y="196.94" width="8.45" height="8.44" fill="#0000cd"/><rect x="459.50" y="196.94" width="8.45" height="8.44" fill="#0000c4"/><rect x="467.95" y="196.94" width="33.80" height="8.44" fill="#0000cd"/><rect x="501.75" y="196.94" width="8.45" height="8.44" fill="#0000c4"/><rect x="510.20" y="196.94" width="76.05" height="8.44" fill="#0000cd"/><rect x="586.25" y="196.94" width="8.45" height="8.44" fill="#0000bb"/><rect x="594.70" y="196.94" width="8.45" height="8.44" fill="#0000a8"/><rect x="603.15" y="196.94" width="8.45" height="8.44" fill="#000092"/><rect x="611.60" y="196.94" width="25.35" height="8.44" fill="#000089"/><rect x="636.95" y="196.94" width="16.90" height="8.44" fill="#00008d"/><rect x="653.85" y="196.94" width="8.45" height="8.44" fill="#000096"/><rect x="662.30" y="196.94" width="8.45" height="8.44" fill="#0000a8"/><rect x="670.75" y="196.94" width="8.45" height="8.44" fill="#0000cd"/><rect x="679.20" y="196.94" width="8.45" height="8.44" fill="#0000fa"/><rect x="687.65" y="196.94" width="8.45" height="8.44" fill="#0014ff"/><rect x="696.10" y="196.94" width="8.45" height="8.44" fill="#0044ff"/><rect x="704.55" y="196.94" width="9.45" height="8.44" fill="#004cff"/><rect x="104.60" y="205.38" width="8.45" height="8.44" fill="#0074ff"/><rect x="113.05" y="205.38" width="25.35" height="8.44" fill="#0070ff"/><rect x="138.40" y="205.38" width="8.45" height="8.44" fill="#0074ff"/><rect x="146.85" y="205.38" width="8.45" height="8.44" fill="#0080ff"/><rect x="155.30" y="205.38" width="8.45" height="8.44" fill="#0094ff"/><rect x="163.75" y="205.38" width="8.45" height="8.44" fill="#00a4ff"/><rect x="172.20" y="205.38" width="8.45" height="8.44" fill="#00c4ff"/><rect x="180.65" y="205.38" width="8.45" height="8.44" fill="#00e0fb"/><rect x="189.10" y="205.38" width="8.45" height="8.44" fill="#29ffce"/><rect x="197.55" y="205.38" width="8.45" height="8.44" fill="#30ffc7"/><rect x="206.00" y="205.38" width="8.45" height="8.44" fill="#49ffad"/><rect x="214.45" y="205.38" width="8.45" height="8.44" fill="#60ff97"/><rect x="222.90" y="205.38" width="8.45" height="8.44" fill="#80ff77"/><rect x="231.35" y="205.38" width="8.45" height="8.44" fill="#94ff63"/><rect x="239.80" y="205.38" width="8.45" height="8.44" fill="#adff49"/><rect x="248.25" y="205.38" width="8.45" height="8.44" fill="#b7ff40"/><rect x="256.70" y="205.38" width="25.35" height="8.44" fill="#c4ff33"/><rect x="282.05" y="205.38" width="16.90" height="8.44" fill="#b7ff40"/><rect x="298.95" y="205.38" width="8.45" height="8.44" fill="#adff49"/><rect x="307.40" y="205.38" width="8.45" height="8.44" fill="#f8f500"/><rect x="315.85" y="205.38" width="16.90" height="8.44" fill="#ffe600"/><rect x="332.75" y="205.38" width="8.45" height="8.44" fill="#ebff0c"/><rect x="341.20" y="205.38" width="8.45" height="8.44" fill="#c4ff33"/><rect x="349.65" y="205.38" width="8.45" height="8.44" fill="#b7ff40"/><rect x="358.10" y="205.38" width="8.45" height="8.44" fill="#87ff70"/><rect x="366.55" y="205.38" width="8.45" height="8.44" fill="#60ff97"/><rect x="375.00" y="205.38" width="8.45" height="8.44" fill="#23ffd4"/><rect x="383.45" y="205.38" width="8.45" height="8.44" fill="#00d8ff"/><rect x="391.90" y="205.38" width="8.45" height="8.44" fill="#00b4ff"/><rect x="400.35" y="205.38" width="8.45" height="8.44" fill="#0084ff"/><rect x="408.80" y="205.38" width="8.45" height="8.44" fill="#0024ff"/><rect x="417.25" y="205.38" width="8.45" height="8.44" fill="#0008ff"/><rect x="425.70" y="205.38" width="8.45" height="8.44" fill="#0000df"/><rect x="434.15" y="205.38" width="8.45" height="8.44" fill="#0000d1"/><rect x="442.60" y="205.38" width="8.45" height="8.44" fill="#0000cd"/><rect x="451.05" y="205.38" width="8.45" height="8.44" fill="#0000c4"/><rect x="459.50" y="205.38" width="8.45" height="8.44" fill="#0000bf"/><rect x="467.95" y="205.38" width="25.35" height="8.44" fill="#0000c4"/><rect x="493.30" y="205.38" width="8.45" height="8.44" fill="#0000bb"/><rect x="501.75" y="205.38" width="8.45" height="8.44" fill="#0000b2"/><rect x="510.20" y="205.38" width="8.45" height="8.44" fill="#00009f"/><rect x="518.65" y="205.38" width="8.45" height="8.44" fill="#00009b"/><rect x="527.10" y="205.38" width="59.15" height="8.44" fill="#000096"/><rect x="586.25" y="205.38" width="8.45" height="8.44" fill="#00008d"/><rect x="594.70" y="205.38" width="8.45" height="8.44" fill="#000089"/><rect x="603.15" y="205.38" width="8.45" height="8.44" fill="#000084"/><rect x="611.60" y="205.38" width="42.25" height="8.44" fill="#000080"/><rect x="653.85" y="205.38" width="8.45" height="8.44" fill="#000084"/><rect x="662.30" y="205.38" width="8.45" height="8.44" fill="#00009b"/><rect x="670.75" y="205.38" width="8.45" height="8.44" fill="#0000c4"/><rect x="679.20" y="205.38" width="8.45" height="8.44" fill="#0000ff"/><rect x="687.65" y="205.38" width="8.45" height="8.44" fill="#0028ff"/><rect x="696.10" y="205.38" width="8.45" height="8.44" fill="#006cff"/><rect x="704.55" y="205.38" width="9.45" height="8.44" fill="#0074ff"/><rect x="104.60" y="213.82" width="25.35" height="8.44" fill="#0094ff"/><rect x="129.95" y="213.82" width="8.45" height="8.44" fill="#009cff"/><rect x="138.40" y="213.82" width="8.45" height="8.44" fill="#00a4ff"/><rect x="146.85" y="213.82" width="8.45" height="8.44" fill="#00b4ff"/><rect x="155.30" y="213.82" width="8.45" height="8.44" fill="#00d4ff"/><rect x="163.75" y="213.82" width="8.45" height="8.44" fill="#00e0fb"/><rect x="172.20" y="213.82" width="8.45" height="8.44" fill="#16ffe1"/><rect x="180.65" y="213.82" width="8.45" height="8.44" fill="#23ffd4"/><rect x="189.10" y="213.82" width="8.45" height="8.44" fill="#49ffad"/><rect x="197.55" y="213.82" width="8.45" height="8.44" fill="#60ff97"/><rect x="206.00" y="213.82" width="8.45" height="8.44" fill="#94ff63"/><rect x="214.45" y="213.82" width="8.45" height="8.44" fill="#b7ff40"/><rect x="222.90" y="213.82" width="8.45" height="8.44" fill="#ebff0c"/><rect x="231.35" y="213.82" width="8.45" height="8.44" fill="#ffe600"/><rect x="239.80" y="213.82" width="8.45" height="8.44" fill="#ffbd00"/><rect x="248.25" y="213.82" width="8.45" height="8.44" fill="#ffae00"/><rect x="256.70" y="213.82" width="8.45" height="8.44" fill="#ff9f00"/><rect x="265.15" y="213.82" width="16.90" height="8.44" fill="#ff9100"/><rect x="282.05" y="213.82" width="8.45" height="8.44" fill="#ff8d00"/><rect x="290.50" y="213.82" width="8.45" height="8.44" fill="#ff9100"/><rect x="298.95" y="213.82" width="25.35" height="8.44" fill="#ff7300"/><rect x="324.30" y="213.82" width="8.45" height="8.44" fill="#ff9100"/><rect x="332.75" y="213.82" width="8.45" height="8.44" fill="#ffcc00"/><rect x="341.20" y="213.82" width="8.45" height="8.44" fill="#deff19"/><rect x="349.65" y="213.82" width="8.45" height="8.44" fill="#b7ff40"/><rect x="358.10" y="213.82" width="8.45" height="8.44" fill="#a0ff56"/><rect x="366.55" y="213.82" width="8.45" height="8.44" fill="#60ff97"/><rect x="375.00" y="213.82" width="8.45" height="8.44" fill="#23ffd4"/><rect x="383.45" y="213.82" width="8.45" height="8.44" fill="#00d8ff"/><rect x="391.90" y="213.82" width="8.45" height="8.44" fill="#00b4ff"/><rect x="400.35" y="213.82" width="8.45" height="8.44" fill="#0094ff"/><rect x="408.80" y="213.82" width="8.45" height="8.44" fill="#003cff"/><rect x="417.25" y="213.82" width="8.45" height="8.44" fill="#0018ff"/><rect x="425.70" y="213.82" width="8.45" height="8.44" fill="#0000df"/><rect x="434.15" y="213.82" width="8.45" height="8.44" fill="#0000d1"/><rect x="442.60" y="213.82" width="8.45" height="8.44" fill="#0000c4"/><rect x="451.05" y="213.82" width="8.45" height="8.44" fill="#0000bf"/><rect x="459.50" y="213.82" width="25.35" height="8.44" fill="#0000bb"/><rect x="484.85" y="213.82" width="8.45" height="8.44" fill="#0000b2"/><rect x="493.30" y="213.82" width="8.45" height="8.44" fill="#00009f"/><rect x="501.75" y="213.82" width="16.90" height="8.44" fill="#00008d"/><rect x="518.65" y="213.82" width="8.45" height="8.44" fill="#000084"/><rect x="527.10" y="213.82" width="135.20" height="8.44" fill="#000080"/><rect x="662.30" y="213.82" width="8.45" height="8.44" fill="#000096"/><rect x="670.75" y="213.82" width="8.45" height="8.44" fill="#0000bb"/><rect x="679.20" y="213.82" width="8.45" height="8.44" fill="#0000ff"/><rect x="687.65" y="213.82" width="8.45" height="8.44" fill="#0030ff"/><rect x="696.10" y="213.82" width="8.45" height="8.44" fill="#008cff"/><rect x="704.55" y="213.82" width="9.45" height="8.44" fill="#0094ff"/><rect x="104.60" y="222.26" width="8.45" height="8.44" fill="#00b4ff"/><rect x="113.05" y="222.26" width="16.90" height="8.44" fill="#00c4ff"/><rect x="129.95" y="222.26" width="8.45" height="8.44" fill="#00ccff"/><rect x="138.40" y="222.26" width="8.45" height="8.44" fill="#00d4ff"/><rect x="146.85" y="222.26" width="8.45" height="8.44" fill="#00e0fb"/><rect x="155.30" y="222.26" width="8.45" height="8.44" fill="#09f0ee"/><rect x="163.75" y="222.26" width="8.45" height="8.44" fill="#23ffd4"/><rect x="172.20" y="222.26" width="8.45" height="8.44" fill="#3cffba"/><rect x="180.65" y="222.26" width="16.90" height="8.44" fill="#56ffa0"/><rect x="197.55" y="222.26" width="8.45" height="8.44" fill="#87ff70"/><rect x="206.00" y="222.26" width="8.45" height="8.44" fill="#b7ff40"/><rect x="214.45" y="222.26" width="8.45" height="8.44" fill="#ebff0c"/><rect x="222.90" y="222.26" width="8.45" height="8.44" fill="#ffd700"/><rect x="231.35" y="222.26" width="8.45" height="8.44" fill="#ff9100"/><rect x="239.80" y="222.26" width="8.45" height="8.44" fill="#ff3b00"/><rect x="248.25" y="222.26" width="8.45" height="8.44" fill="#f60b00"/><rect x="256.70" y="222.26" width="8.45" height="8.44" fill="#d10000"/><rect x="265.15" y="222.26" width="16.90" height="8.44" fill="#c80000"/><rect x="282.05" y="222.26" width="8.45" height="8.44" fill="#e40000"/><rect x="290.50" y="222.26" width="8.45" height="8.44" fill="#fa0f00"/><rect x="298.95" y="222.26" width="8.45" height="8.44" fill="#ff1e00"/><rect x="307.40" y="222.26" width="8.45" height="8.44" fill="#ff2d00"/><rect x="315.85" y="222.26" width="8.45" height="8.44" fill="#ff5900"/><rect x="324.30" y="222.26" width="8.45" height="8.44" fill="#ff9100"/><rect x="332.75" y="222.26" width="8.45" height="8.44" fill="#feed00"/><rect x="341.20" y="222.26" width="8.45" height="8.44" fill="#b7ff40"/><rect x="349.65" y="222.26" width="8.45" height="8.44" fill="#7aff7d"/><rect x="358.10" y="222.26" width="8.45" height="8.44" fill="#49ffad"/><rect x="366.55" y="222.26" width="8.45" height="8.44" fill="#16ffe1"/><rect x="375.00" y="222.26" width="8.45" height="8.44" fill="#00d8ff"/><rect x="383.45" y="222.26" width="8.45" height="8.44" fill="#00d4ff"/><rect x="391.90" y="222.26" width="8.45" height="8.44" fill="#00c4ff"/><rect x="400.35" y="222.26" width="8.45" height="8.44" fill="#00a4ff"/><rect x="408.80" y="222.26" width="8.45" height="8.44" fill="#006cff"/><rect x="417.25" y="222.26" width="8.45" height="8.44" fill="#0058ff"/><rect x="425.70" y="222.26" width="8.45" height="8.44" fill="#0014ff"/><rect x="434.15" y="222.26" width="8.45" height="8.44" fill="#0000ff"/><rect x="442.60" y="222.26" width="8.45" height="8.44" fill="#0000df"/><rect x="451.05" y="222.26" width="8.45" height="8.44" fill="#0000da"/><rect x="459.50" y="222.26" width="8.45" height="8.44" fill="#0000d6"/><rect x="467.95" y="222.26" width="8.45" height="8.44" fill="#0000d1"/><rect x="476.40" y="222.26" width="16.90" height="8.44" fill="#0000cd"/><rect x="493.30" y="222.26" width="8.45" height="8.44" fill="#00008d"/><rect x="501.75" y="222.26" width="8.45" height="8.44" fill="#000084"/><rect x="510.20" y="222.26" width="152.10" height="8.44" fill="#000080"/><rect x="662.30" y="222.26" width="8.45" height="8.44" fill="#000096"/><rect x="670.75" y="222.26" width="8.45" height="8.44" fill="#0000bb"/><rect x="679.20" y="222.26" width="8.45" height="8.44" fill="#0000ff"/><rect x="687.65" y="222.26" width="8.45" height="8.44" fill="#0028ff"/><rect x="696.10" y="222.26" width="8.45" height="8.44" fill="#008cff"/><rect x="704.55" y="222.26" width="9.45" height="8.44" fill="#0090ff"/><rect x="104.60" y="230.70" width="16.90" height="8.44" fill="#00a4ff"/><rect x="121.50" y="230.70" width="8.45" height="8.44" fill="#00acff"/><rect x="129.95" y="230.70" width="8.45" height="8.44" fill="#00b4ff"/><rect x="138.40" y="230.70" width="8.45" height="8.44" fill="#00c4ff"/><rect x="146.85" y="230.70" width="8.45" height="8.44" fill="#00d4ff"/><rect x="155.30" y="230.70" width="8.45" height="8.44" fill="#09f0ee"/><rect x="163.75" y="230.70" width="8.45" height="8.44" fill="#23ffd4"/><rect x="172.20" y="230.70" width="8.45" height="8.44" fill="#3cffba"/><rect x="180.65" y="230.70" width="8.45" height="8.44" fill="#49ffad"/><rect x="189.10" y="230.70" width="8.45" height="8.44" fill="#56ffa0"/><rect x="197.55" y="230.70" width="8.45" height="8.44" fill="#73ff83"/><rect x="206.00" y="230.70" width="8.45" height="8.44" fill="#adff49"/><rect x="214.45" y="230.70" width="8.45" height="8.44" fill="#c4ff33"/><rect x="222.90" y="230.70" width="8.45" height="8.44" fill="#f8f500"/><rect x="231.35" y="230.70" width="8.45" height="8.44" fill="#ffae00"/><rect x="239.80" y="230.70" width="8.45" height="8.44" fill="#ff4a00"/><rect x="248.25" y="230.70" width="8.45" height="8.44" fill="#df0000"/><rect x="256.70" y="230.70" width="8.45" height="8.44" fill="#920000"/><rect x="265.15" y="230.70" width="16.90" height="8.44" fill="#800000"/><rect x="282.05" y="230.70" width="8.45" height="8.44" fill="#a40000"/><rect x="290.50" y="230.70" width="8.45" height="8.44" fill="#da0000"/><rect x="298.95" y="230.70" width="8.45" height="8.44" fill="#ff1e00"/><rect x="307.40" y="230.70" width="8.45" height="8.44" fill="#ff7300"/><rect x="315.85" y="230.70" width="8.45" height="8.44" fill="#ffae00"/><rect x="324.30" y="230.70" width="8.45" height="8.44" fill="#deff19"/><rect x="332.75" y="230.70" width="8.45" height="8.44" fill="#7aff7d"/><rect x="341.20" y="230.70" width="8.45" height="8.44" fill="#23ffd4"/><rect x="349.65" y="230.70" width="8.45" height="8.44" fill="#00d4ff"/><rect x="358.10" y="230.70" width="8.45" height="8.44" fill="#00c4ff"/><rect x="366.55" y="230.70" width="8.45" height="8.44" fill="#00d4ff"/><rect x="375.00" y="230.70" width="16.90" height="8.44" fill="#00c4ff"/><rect x="391.90" y="230.70" width="8.45" height="8.44" fill="#00b4ff"/><rect x="400.35" y="230.70" width="8.45" height="8.44" fill="#00a4ff"/><rect x="408.80" y="230.70" width="8.45" height="8.44" fill="#0060ff"/><rect x="417.25" y="230.70" width="8.45" height="8.44" fill="#0038ff"/><rect x="425.70" y="230.70" width="8.45" height="8.44" fill="#0000ff"/><rect x="434.15" y="230.70" width="8.45" height="8.44" fill="#0000e8"/><rect x="442.60" y="230.70" width="8.45" height="8.44" fill="#0000df"/><rect x="451.05" y="230.70" width="8.45" height="8.44" fill="#0000da"/><rect x="459.50" y="230.70" width="16.90" height="8.44" fill="#0000d6"/><rect x="476.40" y="230.70" width="8.45" height="8.44" fill="#0000d1"/><rect x="484.85" y="230.70" width="8.45" height="8.44" fill="#0000cd"/><rect x="493.30" y="230.70" width="8.45" height="8.44" fill="#000096"/><rect x="501.75" y="230.70" width="8.45" height="8.44" fill="#000084"/><rect x="510.20" y="230.70" width="152.10" height="8.44" fill="#000080"/><rect x="662.30" y="230.70" width="8.45" height="8.44" fill="#000096"/><rect x="670.75" y="230.70" width="8.45" height="8.44" fill="#0000bb"/><rect x="679.20" y="230.70" width="8.45" height="8.44" fill="#0000ff"/><rect x="687.65" y="230.70" width="8.45" height="8.44" fill="#0020ff"/><rect x="696.10" y="230.70" width="8.45" height="8.44" fill="#0060ff"/><rect x="704.55" y="230.70" width="9.45" height="8.44" fill="#0074ff"/><rect x="104.60" y="239.14" width="16.90" height="8.44" fill="#0074ff"/><rect x="121.50" y="239.14" width="8.45" height="8.44" fill="#007cff"/><rect x="129.95" y="239.14" width="8.45" height="8.44" fill="#0084ff"/><rect x="138.40" y="239.14" width="8.45" height="8.44" fill="#0094ff"/><rect x="146.85" y="239.14" width="8.45" height="8.44" fill="#00a4ff"/><rect x="155.30" y="239.14" width="8.45" height="8.44" fill="#00c4ff"/><rect x="163.75" y="239.14" width="8.45" height="8.44" fill="#00e0fb"/><rect x="172.20" y="239.14" width="8.45" height="8.44" fill="#09f0ee"/><rect x="180.65" y="239.14" width="8.45" height="8.44" fill="#16ffe1"/><rect x="189.10" y="239.14" width="8.45" height="8.44" fill="#00e0fb"/><rect x="197.55" y="239.14" width="8.45" height="8.44" fill="#16ffe1"/><rect x="206.00" y="239.14" width="8.45" height="8.44" fill="#29ffce"/><rect x="214.45" y="239.14" width="8.45" height="8.44" fill="#3cffba"/><rect x="222.90" y="239.14" width="8.45" height="8.44" fill="#6aff8d"/><rect x="231.35" y="239.14" width="8.45" height="8.44" fill="#b7ff40"/><rect x="239.80" y="239.14" width="8.45" height="8.44" fill="#f8f500"/><rect x="248.25" y="239.14" width="8.45" height="8.44" fill="#ffcc00"/><rect x="256.70" y="239.14" width="8.45" height="8.44" fill="#ff9100"/><rect x="265.15" y="239.14" width="8.45" height="8.44" fill="#ff5900"/><rect x="273.60" y="239.14" width="8.45" height="8.44" fill="#ff3b00"/><rect x="282.05" y="239.14" width="8.45" height="8.44" fill="#ff5900"/><rect x="290.50" y="239.14" width="8.45" height="8.44" fill="#ff7300"/><rect x="298.95" y="239.14" width="8.45" height="8.44" fill="#ffcc00"/><rect x="307.40" y="239.14" width="8.45" height="8.44" fill="#ebff0c"/><rect x="315.85" y="239.14" width="8.45" height="8.44" fill="#60ff97"/><rect x="324.30" y="239.14" width="8.45" height="8.44" fill="#00e0fb"/><rect x="332.75" y="239.14" width="16.90" height="8.44" fill="#00c4ff"/><rect x="349.65" y="239.14" width="8.45" height="8.44" fill="#00bcff"/><rect x="358.10" y="239.14" width="8.45" height="8.44" fill="#00acff"/><rect x="366.55" y="239.14" width="8.45" height="8.44" fill="#0094ff"/><rect x="375.00" y="239.14" width="8.45" height="8.44" fill="#0070ff"/><rect x="383.45" y="239.14" width="8.45" height="8.44" fill="#0038ff"/><rect x="391.90" y="239.14" width="16.90" height="8.44" fill="#0028ff"/><rect x="408.80" y="239.14" width="16.90" height="8.44" fill="#0000da"/><rect x="425.70" y="239.14" width="8.45" height="8.44" fill="#0000cd"/><rect x="434.15" y="239.14" width="50.70" height="8.44" fill="#0000c4"/><rect x="484.85" y="239.14" width="8.45" height="8.44" fill="#000096"/><rect x="493.30" y="239.14" width="8.45" height="8.44" fill="#00009f"/><rect x="501.75" y="239.14" width="8.45" height="8.44" fill="#00008d"/><rect x="510.20" y="239.14" width="8.45" height="8.44" fill="#000084"/><rect x="518.65" y="239.14" width="143.65" height="8.44" fill="#000080"/><rect x="662.30" y="239.14" width="8.45" height="8.44" fill="#00009b"/><rect x="670.75" y="239.14" width="8.45" height="8.44" fill="#0000c4"/><rect x="679.20" y="239.14" width="8.45" height="8.44" fill="#0000ff"/><rect x="687.65" y="239.14" width="8.45" height="8.44" fill="#0020ff"/><rect x="696.10" y="239.14" width="8.45" height="8.44" fill="#0058ff"/><rect x="704.55" y="239.14" width="9.45" height="8.44" fill="#0060ff"/><rect x="104.60" y="247.58" width="16.90" height="8.44" fill="#0074ff"/><rect x="121.50" y="247.58" width="8.45" height="8.44" fill="#007cff"/><rect x="129.95" y="247.58" width="8.45" height="8.44" fill="#0084ff"/><rect x="138.40" y="247.58" width="8.45" height="8.44" fill="#0094ff"/><rect x="146.85" y="247.58" width="8.45" height="8.44" fill="#00a4ff"/><rect x="155.30" y="247.58" width="8.45" height="8.44" fill="#00c4ff"/><rect x="163.75" y="247.58" width="8.45" height="8.44" fill="#00d4ff"/><rect x="172.20" y="247.58" width="16.90" height="8.44" fill="#00e0fb"/><rect x="189.10" y="247.58" width="8.45" height="8.44" fill="#0094ff"/><rect x="197.55" y="247.58" width="8.45" height="8.44" fill="#009cff"/><rect x="206.00" y="247.58" width="8.45" height="8.44" fill="#00acff"/><rect x="214.45" y="247.58" width="8.45" height="8.44" fill="#00b4ff"/><rect x="222.90" y="247.58" width="8.45" height="8.44" fill="#00c4ff"/><rect x="231.35" y="247.58" width="8.45" height="8.44" fill="#00d8ff"/><rect x="239.80" y="247.58" width="8.45" height="8.44" fill="#16ffe1"/><rect x="248.25" y="247.58" width="8.45" height="8.44" fill="#30ffc7"/><rect x="256.70" y="247.58" width="16.90" height="8.44" fill="#3cffba"/><rect x="273.60" y="247.58" width="8.45" height="8.44" fill="#40ffb7"/><rect x="282.05" y="247.58" width="8.45" height="8.44" fill="#3cffba"/><rect x="290.50" y="247.58" width="8.45" height="8.44" fill="#56ffa0"/><rect x="298.95" y="247.58" width="8.45" height="8.44" fill="#49ffad"/><rect x="307.40" y="247.58" width="8.45" height="8.44" fill="#00c4ff"/><rect x="315.85" y="247.58" width="8.45" height="8.44" fill="#00b4ff"/><rect x="324.30" y="247.58" width="8.45" height="8.44" fill="#00bcff"/><rect x="332.75" y="247.58" width="8.45" height="8.44" fill="#00c4ff"/><rect x="341.20" y="247.58" width="8.45" height="8.44" fill="#00d4ff"/><rect x="349.65" y="247.58" width="8.45" height="8.44" fill="#00b4ff"/><rect x="358.10" y="247.58" width="8.45" height="8.44" fill="#0074ff"/><rect x="366.55" y="247.58" width="8.45" height="8.44" fill="#0038ff"/><rect x="375.00" y="247.58" width="8.45" height="8.44" fill="#0010ff"/><rect x="383.45" y="247.58" width="8.45" height="8.44" fill="#0000ff"/><rect x="391.90" y="247.58" width="8.45" height="8.44" fill="#0000df"/><rect x="400.35" y="247.58" width="8.45" height="8.44" fill="#0000cd"/><rect x="408.80" y="247.58" width="16.90" height="8.44" fill="#00008d"/><rect x="425.70" y="247.58" width="8.45" height="8.44" fill="#000096"/><rect x="434.15" y="247.58" width="42.25" height="8.44" fill="#0000bb"/><rect x="476.40" y="247.58" width="8.45" height="8.44" fill="#0000b2"/><rect x="484.85" y="247.58" width="8.45" height="8.44" fill="#00008d"/><rect x="493.30" y="247.58" width="8.45" height="8.44" fill="#0000a4"/><rect x="501.75" y="247.58" width="8.45" height="8.44" fill="#00008d"/><rect x="510.20" y="247.58" width="8.45" height="8.44" fill="#000089"/><rect x="518.65" y="247.58" width="92.95" height="8.44" fill="#000080"/><rect x="611.60" y="247.58" width="50.70" height="8.44" fill="#000084"/><rect x="662.30" y="247.58" width="8.45" height="8.44" fill="#00009f"/><rect x="670.75" y="247.58" width="8.45" height="8.44" fill="#0000bb"/><rect x="679.20" y="247.58" width="8.45" height="8.44" fill="#0000f1"/><rect x="687.65" y="247.58" width="8.45" height="8.44" fill="#0014ff"/><rect x="696.10" y="247.58" width="8.45" height="8.44" fill="#006cff"/><rect x="704.55" y="247.58" width="9.45" height="8.44" fill="#0080ff"/><rect x="104.60" y="256.02" width="25.35" height="8.44" fill="#0060ff"/><rect x="129.95" y="256.02" width="8.45" height="8.44" fill="#006cff"/><rect x="138.40" y="256.02" width="8.45" height="8.44" fill="#0080ff"/><rect x="146.85" y="256.02" width="8.45" height="8.44" fill="#00b4ff"/><rect x="155.30" y="256.02" width="8.45" height="8.44" fill="#00d8ff"/><rect x="163.75" y="256.02" width="8.45" height="8.44" fill="#3cffba"/><rect x="172.20" y="256.02" width="16.90" height="8.44" fill="#43ffb4"/><rect x="189.10" y="256.02" width="8.45" height="8.44" fill="#40ffb7"/><rect x="197.55" y="256.02" width="8.45" height="8.44" fill="#30ffc7"/><rect x="206.00" y="256.02" width="8.45" height="8.44" fill="#16ffe1"/><rect x="214.45" y="256.02" width="8.45" height="8.44" fill="#06ecf1"/><rect x="222.90" y="256.02" width="8.45" height="8.44" fill="#00d4ff"/><rect x="231.35" y="256.02" width="8.45" height="8.44" fill="#00c8ff"/><rect x="239.80" y="256.02" width="8.45" height="8.44" fill="#00bcff"/><rect x="248.25" y="256.02" width="8.45" height="8.44" fill="#00b4ff"/><rect x="256.70" y="256.02" width="16.90" height="8.44" fill="#00acff"/><rect x="273.60" y="256.02" width="8.45" height="8.44" fill="#00a4ff"/><rect x="282.05" y="256.02" width="8.45" height="8.44" fill="#0094ff"/><rect x="290.50" y="256.02" width="8.45" height="8.44" fill="#0090ff"/><rect x="298.95" y="256.02" width="16.90" height="8.44" fill="#0094ff"/><rect x="315.85" y="256.02" width="8.45" height="8.44" fill="#00c4ff"/><rect x="324.30" y="256.02" width="8.45" height="8.44" fill="#16ffe1"/><rect x="332.75" y="256.02" width="8.45" height="8.44" fill="#49ffad"/><rect x="341.20" y="256.02" width="8.45" height="8.44" fill="#23ffd4"/><rect x="349.65" y="256.02" width="8.45" height="8.44" fill="#00c4ff"/><rect x="358.10" y="256.02" width="8.45" height="8.44" fill="#0008ff"/><rect x="366.55" y="256.02" width="8.45" height="8.44" fill="#0000e8"/><rect x="375.00" y="256.02" width="8.45" height="8.44" fill="#0000cd"/><rect x="383.45" y="256.02" width="8.45" height="8.44" fill="#0000bb"/><rect x="391.90" y="256.02" width="8.45" height="8.44" fill="#0000b2"/><rect x="400.35" y="256.02" width="8.45" height="8.44" fill="#0000a8"/><rect x="408.80" y="256.02" width="16.90" height="8.44" fill="#000096"/><rect x="425.70" y="256.02" width="8.45" height="8.44" fill="#00009f"/><rect x="434.15" y="256.02" width="50.70" height="8.44" fill="#0000bb"/><rect x="484.85" y="256.02" width="8.45" height="8.44" fill="#000096"/><rect x="493.30" y="256.02" width="8.45" height="8.44" fill="#0000ad"/><rect x="501.75" y="256.02" width="8.45" height="8.44" fill="#00009b"/><rect x="510.20" y="256.02" width="8.45" height="8.44" fill="#00008d"/><rect x="518.65" y="256.02" width="8.45" height="8.44" fill="#000089"/><rect x="527.10" y="256.02" width="25.35" height="8.44" fill="#000084"/><rect x="552.45" y="256.02" width="8.45" height="8.44" fill="#00008d"/><rect x="560.90" y="256.02" width="8.45" height="8.44" fill="#000092"/><rect x="569.35" y="256.02" width="8.45" height="8.44" fill="#000096"/><rect x="577.80" y="256.02" width="59.15" height="8.44" fill="#00008d"/><rect x="636.95" y="256.02" width="25.35" height="8.44" fill="#000096"/><rect x="662.30" y="256.02" width="8.45" height="8.44" fill="#00009f"/><rect x="670.75" y="256.02" width="8.45" height="8.44" fill="#0000bb"/><rect x="679.20" y="256.02" width="8.45" height="8.44" fill="#0000ed"/><rect x="687.65" y="256.02" width="8.45" height="8.44" fill="#0008ff"/><rect x="696.10" y="256.02" width="8.45" height="8.44" fill="#004cff"/><rect x="704.55" y="256.02" width="9.45" height="8.44" fill="#0060ff"/><rect x="104.60" y="264.46" width="33.80" height="8.44" fill="#0044ff"/><rect x="138.40" y="264.46" width="8.45" height="8.44" fill="#004cff"/><rect x="146.85" y="264.46" width="8.45" height="8.44" fill="#006cff"/><rect x="155.30" y="264.46" width="8.45" height="8.44" fill="#008cff"/><rect x="163.75" y="264.46" width="8.45" height="8.44" fill="#00bcff"/><rect x="172.20" y="264.46" width="8.45" height="8.44" fill="#00e0fb"/><rect x="180.65" y="264.46" width="8.45" height="8.44" fill="#3cffba"/><rect x="189.10" y="264.46" width="8.45" height="8.44" fill="#49ffad"/><rect x="197.55" y="264.46" width="8.45" height="8.44" fill="#3cffba"/><rect x="206.00" y="264.46" width="8.45" height="8.44" fill="#56ffa0"/><rect x="214.45" y="264.46" width="8.45" height="8.44" fill="#6aff8d"/><rect x="222.90" y="264.46" width="16.90" height="8.44" fill="#73ff83"/><rect x="239.80" y="264.46" width="8.45" height="8.44" fill="#6aff8d"/><rect x="248.25" y="264.46" width="8.45" height="8.44" fill="#50ffa7"/><rect x="256.70" y="264.46" width="8.45" height="8.44" fill="#36ffc1"/><rect x="265.15" y="264.46" width="8.45" height="8.44" fill="#06ecf1"/><rect x="273.60" y="264.46" width="8.45" height="8.44" fill="#00d4ff"/><rect x="282.05" y="264.46" width="8.45" height="8.44" fill="#00b4ff"/><rect x="290.50" y="264.46" width="8.45" height="8.44" fill="#00acff"/><rect x="298.95" y="264.46" width="8.45" height="8.44" fill="#00b4ff"/><rect x="307.40" y="264.46" width="8.45" height="8.44" fill="#09f0ee"/><rect x="315.85" y="264.46" width="8.45" height="8.44" fill="#36ffc1"/><rect x="324.30" y="264.46" width="8.45" height="8.44" fill="#49ffad"/><rect x="332.75" y="264.46" width="8.45" height="8.44" fill="#30ffc7"/><rect x="341.20" y="264.46" width="8.45" height="8.44" fill="#0094ff"/><rect x="349.65" y="264.46" width="8.45" height="8.44" fill="#0028ff"/><rect x="358.10" y="264.46" width="8.45" height="8.44" fill="#0000f1"/><rect x="366.55" y="264.46" width="8.45" height="8.44" fill="#0000d6"/><rect x="375.00" y="264.46" width="8.45" height="8.44" fill="#0000cd"/><rect x="383.45" y="264.46" width="8.45" height="8.44" fill="#0000bb"/><rect x="391.90" y="264.46" width="8.45" height="8.44" fill="#0000b2"/><rect x="400.35" y="264.46" width="8.45" height="8.44" fill="#0000ad"/><rect x="408.80" y="264.46" width="8.45" height="8.44" fill="#0000a4"/><rect x="417.25" y="264.46" width="8.45" height="8.44" fill="#0000a8"/><rect x="425.70" y="264.46" width="8.45" height="8.44" fill="#0000ad"/><rect x="434.15" y="264.46" width="59.15" height="8.44" fill="#0000bb"/><rect x="493.30" y="264.46" width="8.45" height="8.44" fill="#0000bf"/><rect x="501.75" y="264.46" width="8.45" height="8.44" fill="#0000b2"/><rect x="510.20" y="264.46" width="8.45" height="8.44" fill="#0000a8"/><rect x="518.65" y="264.46" width="8.45" height="8.44" fill="#0000a4"/><rect x="527.10" y="264.46" width="25.35" height="8.44" fill="#00009f"/><rect x="552.45" y="264.46" width="8.45" height="8.44" fill="#0000a8"/><rect x="560.90" y="264.46" width="8.45" height="8.44" fill="#0000b6"/><rect x="569.35" y="264.46" width="8.45" height="8.44" fill="#0000bb"/><rect x="577.80" y="264.46" width="59.15" height="8.44" fill="#0000ad"/><rect x="636.95" y="264.46" width="8.45" height="8.44" fill="#0000b2"/><rect x="645.40" y="264.46" width="8.45" height="8.44" fill="#00009f"/><rect x="653.85" y="264.46" width="8.45" height="8.44" fill="#0000a4"/><rect x="662.30" y="264.46" width="8.45" height="8.44" fill="#0000ad"/><rect x="670.75" y="264.46" width="8.45" height="8.44" fill="#0000c4"/><rect x="679.20" y="264.46" width="8.45" height="8.44" fill="#0000ed"/><rect x="687.65" y="264.46" width="8.45" height="8.44" fill="#0000ff"/><rect x="696.10" y="264.46" width="8.45" height="8.44" fill="#0020ff"/><rect x="704.55" y="264.46" width="9.45" height="8.44" fill="#0030ff"/><rect x="104.60" y="272.90" width="33.80" height="8.44" fill="#0000ff"/><rect x="138.40" y="272.90" width="8.45" height="8.44" fill="#0008ff"/><rect x="146.85" y="272.90" width="8.45" height="8.44" fill="#0020ff"/><rect x="155.30" y="272.90" width="8.45" height="8.44" fill="#003cff"/><rect x="163.75" y="272.90" width="8.45" height="8.44" fill="#0058ff"/><rect x="172.20" y="272.90" width="8.45" height="8.44" fill="#0074ff"/><rect x="180.65" y="272.90" width="8.45" height="8.44" fill="#0094ff"/><rect x="189.10" y="272.90" width="8.45" height="8.44" fill="#00b4ff"/><rect x="197.55" y="272.90" width="8.45" height="8.44" fill="#00d4ff"/><rect x="206.00" y="272.90" width="8.45" height="8.44" fill="#00e0fb"/><rect x="214.45" y="272.90" width="8.45" height="8.44" fill="#29ffce"/><rect x="222.90" y="272.90" width="8.45" height="8.44" fill="#3cffba"/><rect x="231.35" y="272.90" width="8.45" height="8.44" fill="#56ffa0"/><rect x="239.80" y="272.90" width="8.45" height="8.44" fill="#73ff83"/><rect x="248.25" y="272.90" width="16.90" height="8.44" fill="#94ff63"/><rect x="265.15" y="272.90" width="8.45" height="8.44" fill="#7aff7d"/><rect x="273.60" y="272.90" width="8.45" height="8.44" fill="#5aff9d"/><rect x="282.05" y="272.90" width="8.45" height="8.44" fill="#49ffad"/><rect x="290.50" y="272.90" width="8.45" height="8.44" fill="#3cffba"/><rect x="298.95" y="272.90" width="8.45" height="8.44" fill="#30ffc7"/><rect x="307.40" y="272.90" width="8.45" height="8.44" fill="#49ffad"/><rect x="315.85" y="272.90" width="8.45" height="8.44" fill="#3cffba"/><rect x="324.30" y="272.90" width="8.45" height="8.44" fill="#00d4ff"/><rect x="332.75" y="272.90" width="8.45" height="8.44" fill="#0068ff"/><rect x="341.20" y="272.90" width="8.45" height="8.44" fill="#0014ff"/><rect x="349.65" y="272.90" width="8.45" height="8.44" fill="#0000fa"/><rect x="358.10" y="272.90" width="8.45" height="8.44" fill="#0000df"/><rect x="366.55" y="272.90" width="8.45" height="8.44" fill="#0000d6"/><rect x="375.00" y="272.90" width="8.45" height="8.44" fill="#0000cd"/><rect x="383.45" y="272.90" width="8.45" height="8.44" fill="#0000c4"/><rect x="391.90" y="272.90" width="8.45" height="8.44" fill="#0000bb"/><rect x="400.35" y="272.90" width="8.45" height="8.44" fill="#0000b2"/><rect x="408.80" y="272.90" width="16.90" height="8.44" fill="#0000bb"/><rect x="425.70" y="272.90" width="59.15" height="8.44" fill="#0000c4"/><rect x="484.85" y="272.90" width="16.90" height="8.44" fill="#0000cd"/><rect x="501.75" y="272.90" width="8.45" height="8.44" fill="#0000bf"/><rect x="510.20" y="272.90" width="8.45" height="8.44" fill="#0000b6"/><rect x="518.65" y="272.90" width="33.80" height="8.44" fill="#0000b2"/><rect x="552.45" y="272.90" width="8.45" height="8.44" fill="#0000b6"/><rect x="560.90" y="272.90" width="8.45" height="8.44" fill="#0000bf"/><rect x="569.35" y="272.90" width="8.45" height="8.44" fill="#0000c4"/><rect x="577.80" y="272.90" width="67.60" height="8.44" fill="#0000bb"/><rect x="645.40" y="272.90" width="16.90" height="8.44" fill="#0000b2"/><rect x="662.30" y="272.90" width="8.45" height="8.44" fill="#0000bb"/><rect x="670.75" y="272.90" width="8.45" height="8.44" fill="#0000cd"/><rect x="679.20" y="272.90" width="8.45" height="8.44" fill="#0000e8"/><rect x="687.65" y="272.90" width="16.90" height="8.44" fill="#0000ff"/><rect x="704.55" y="272.90" width="9.45" height="8.44" fill="#0008ff"/><rect x="104.60" y="281.34" width="16.90" height="8.44" fill="#0000e8"/><rect x="121.50" y="281.34" width="8.45" height="8.44" fill="#0000f1"/><rect x="129.95" y="281.34" width="8.45" height="8.44" fill="#0000fa"/><rect x="138.40" y="281.34" width="16.90" height="8.44" fill="#0000ff"/><rect x="155.30" y="281.34" width="8.45" height="8.44" fill="#0008ff"/><rect x="163.75" y="281.34" width="8.45" height="8.44" fill="#0014ff"/><rect x="172.20" y="281.34" width="8.45" height="8.44" fill="#0028ff"/><rect x="180.65" y="281.34" width="8.45" height="8.44" fill="#003cff"/><rect x="189.10" y="281.34" width="8.45" height="8.44" fill="#0060ff"/><rect x="197.55" y="281.34" width="8.45" height="8.44" fill="#0068ff"/><rect x="206.00" y="281.34" width="8.45" height="8.44" fill="#0094ff"/><rect x="214.45" y="281.34" width="8.45" height="8.44" fill="#009cff"/><rect x="222.90" y="281.34" width="8.45" height="8.44" fill="#00b4ff"/><rect x="231.35" y="281.34" width="8.45" height="8.44" fill="#00c4ff"/><rect x="239.80" y="281.34" width="8.45" height="8.44" fill="#00d8ff"/><rect x="248.25" y="281.34" width="8.45" height="8.44" fill="#16ffe1"/><rect x="256.70" y="281.34" width="8.45" height="8.44" fill="#30ffc7"/><rect x="265.15" y="281.34" width="16.90" height="8.44" fill="#3cffba"/><rect x="282.05" y="281.34" width="8.45" height="8.44" fill="#36ffc1"/><rect x="290.50" y="281.34" width="8.45" height="8.44" fill="#23ffd4"/><rect x="298.95" y="281.34" width="16.90" height="8.44" fill="#09f0ee"/><rect x="315.85" y="281.34" width="8.45" height="8.44" fill="#0094ff"/><rect x="324.30" y="281.34" width="8.45" height="8.44" fill="#0038ff"/><rect x="332.75" y="281.34" width="8.45" height="8.44" fill="#0000ff"/><rect x="341.20" y="281.34" width="8.45" height="8.44" fill="#0008ff"/><rect x="349.65" y="281.34" width="8.45" height="8.44" fill="#0000e8"/><rect x="358.10" y="281.34" width="8.45" height="8.44" fill="#0000d6"/><rect x="366.55" y="281.34" width="16.90" height="8.44" fill="#0000cd"/><rect x="383.45" y="281.34" width="8.45" height="8.44" fill="#0000d6"/><rect x="391.90" y="281.34" width="8.45" height="8.44" fill="#0000da"/><rect x="400.35" y="281.34" width="25.35" height="8.44" fill="#0000d6"/><rect x="425.70" y="281.34" width="25.35" height="8.44" fill="#0000d1"/><rect x="451.05" y="281.34" width="25.35" height="8.44" fill="#0000cd"/><rect x="476.40" y="281.34" width="8.45" height="8.44" fill="#0000c8"/><rect x="484.85" y="281.34" width="8.45" height="8.44" fill="#0000bb"/><rect x="493.30" y="281.34" width="8.45" height="8.44" fill="#0000b2"/><rect x="501.75" y="281.34" width="8.45" height="8.44" fill="#0000a8"/><rect x="510.20" y="281.34" width="8.45" height="8.44" fill="#0000ad"/><rect x="518.65" y="281.34" width="8.45" height="8.44" fill="#00009f"/><rect x="527.10" y="281.34" width="33.80" height="8.44" fill="#00009b"/><rect x="560.90" y="281.34" width="8.45" height="8.44" fill="#00009f"/><rect x="569.35" y="281.34" width="8.45" height="8.44" fill="#0000ad"/><rect x="577.80" y="281.34" width="8.45" height="8.44" fill="#0000b6"/><rect x="586.25" y="281.34" width="8.45" height="8.44" fill="#0000bf"/><rect x="594.70" y="281.34" width="59.15" height="8.44" fill="#0000b6"/><rect x="653.85" y="281.34" width="16.90" height="8.44" fill="#0000bb"/><rect x="670.75" y="281.34" width="8.45" height="8.44" fill="#0000cd"/><rect x="679.20" y="281.34" width="8.45" height="8.44" fill="#0000da"/><rect x="687.65" y="281.34" width="8.45" height="8.44" fill="#0000ed"/><rect x="696.10" y="281.34" width="8.45" height="8.44" fill="#0000f6"/><rect x="704.55" y="281.34" width="9.45" height="8.44" fill="#0000ff"/><rect x="104.60" y="289.78" width="16.90" height="8.44" fill="#0000da"/><rect x="121.50" y="289.78" width="8.45" height="8.44" fill="#0000df"/><rect x="129.95" y="289.78" width="16.90" height="8.44" fill="#0000e8"/><rect x="146.85" y="289.78" width="8.45" height="8.44" fill="#0000f1"/><rect x="155.30" y="289.78" width="8.45" height="8.44" fill="#0000fa"/><rect x="163.75" y="289.78" width="16.90" height="8.44" fill="#0000ff"/><rect x="180.65" y="289.78" width="8.45" height="8.44" fill="#0008ff"/><rect x="189.10" y="289.78" width="8.45" height="8.44" fill="#0014ff"/><rect x="197.55" y="289.78" width="8.45" height="8.44" fill="#0028ff"/><rect x="206.00" y="289.78" width="8.45" height="8.44" fill="#0038ff"/><rect x="214.45" y="289.78" width="8.45" height="8.44" fill="#0044ff"/><rect x="222.90" y="289.78" width="8.45" height="8.44" fill="#0058ff"/><rect x="231.35" y="289.78" width="8.45" height="8.44" fill="#006cff"/><rect x="239.80" y="289.78" width="8.45" height="8.44" fill="#0080ff"/><rect x="248.25" y="289.78" width="8.45" height="8.44" fill="#008cff"/><rect x="256.70" y="289.78" width="16.90" height="8.44" fill="#0094ff"/><rect x="273.60" y="289.78" width="8.45" height="8.44" fill="#008cff"/><rect x="282.05" y="289.78" width="16.90" height="8.44" fill="#0084ff"/><rect x="298.95" y="289.78" width="8.45" height="8.44" fill="#0074ff"/><rect x="307.40" y="289.78" width="8.45" height="8.44" fill="#0068ff"/><rect x="315.85" y="289.78" width="8.45" height="8.44" fill="#0028ff"/><rect x="324.30" y="289.78" width="8.45" height="8.44" fill="#0000ff"/><rect x="332.75" y="289.78" width="8.45" height="8.44" fill="#0000f1"/><rect x="341.20" y="289.78" width="8.45" height="8.44" fill="#0000df"/><rect x="349.65" y="289.78" width="16.90" height="8.44" fill="#0000da"/><rect x="366.55" y="289.78" width="16.90" height="8.44" fill="#0000d6"/><rect x="383.45" y="289.78" width="16.90" height="8.44" fill="#0000da"/><rect x="400.35" y="289.78" width="25.35" height="8.44" fill="#0000d6"/><rect x="425.70" y="289.78" width="25.35" height="8.44" fill="#0000d1"/><rect x="451.05" y="289.78" width="25.35" height="8.44" fill="#0000cd"/><rect x="476.40" y="289.78" width="8.45" height="8.44" fill="#0000c8"/><rect x="484.85" y="289.78" width="8.45" height="8.44" fill="#0000bb"/><rect x="493.30" y="289.78" width="8.45" height="8.44" fill="#0000b2"/><rect x="501.75" y="289.78" width="8.45" height="8.44" fill="#0000a8"/><rect x="510.20" y="289.78" width="8.45" height="8.44" fill="#0000ad"/><rect x="518.65" y="289.78" width="8.45" height="8.44" fill="#00009f"/><rect x="527.10" y="289.78" width="33.80" height="8.44" fill="#00009b"/><rect x="560.90" y="289.78" width="8.45" height="8.44" fill="#00009f"/><rect x="569.35" y="289.78" width="8.45" height="8.44" fill="#0000ad"/><rect x="577.80" y="289.78" width="8.45" height="8.44" fill="#0000b2"/><rect x="586.25" y="289.78" width="8.45" height="8.44" fill="#0000bb"/><rect x="594.70" y="289.78" width="59.15" height="8.44" fill="#0000b2"/><rect x="653.85" y="289.78" width="8.45" height="8.44" fill="#0000b6"/><rect x="662.30" y="289.78" width="8.45" height="8.44" fill="#0000c4"/><rect x="670.75" y="289.78" width="8.45" height="8.44" fill="#0000cd"/><rect x="679.20" y="289.78" width="8.45" height="8.44" fill="#0000d6"/><rect x="687.65" y="289.78" width="8.45" height="8.44" fill="#0000df"/><rect x="696.10" y="289.78" width="8.45" height="8.44" fill="#0000e8"/><rect x="704.55" y="289.78" width="9.45" height="8.44" fill="#0000ed"/><rect x="104.60" y="298.22" width="25.35" height="8.44" fill="#0000da"/><rect x="129.95" y="298.22" width="8.45" height="8.44" fill="#0000df"/><rect x="138.40" y="298.22" width="8.45" height="8.44" fill="#0000e8"/><rect x="146.85" y="298.22" width="8.45" height="8.44" fill="#0000f1"/><rect x="155.30" y="298.22" width="8.45" height="8.44" fill="#0000fa"/><rect x="163.75" y="298.22" width="25.35" height="8.44" fill="#0000ff"/><rect x="189.10" y="298.22" width="8.45" height="8.44" fill="#0014ff"/><rect x="197.55" y="298.22" width="8.45" height="8.44" fill="#0020ff"/><rect x="206.00" y="298.22" width="16.90" height="8.44" fill="#0028ff"/><rect x="222.90" y="298.22" width="8.45" height="8.44" fill="#0030ff"/><rect x="231.35" y="298.22" width="16.90" height="8.44" fill="#003cff"/><rect x="248.25" y="298.22" width="16.90" height="8.44" fill="#0044ff"/><rect x="265.15" y="298.22" width="8.45" height="8.44" fill="#003cff"/><rect x="273.60" y="298.22" width="8.45" height="8.44" fill="#0030ff"/><rect x="282.05" y="298.22" width="8.45" height="8.44" fill="#0028ff"/><rect x="290.50" y="298.22" width="8.45" height="8.44" fill="#003cff"/><rect x="298.95" y="298.22" width="8.45" height="8.44" fill="#0030ff"/><rect x="307.40" y="298.22" width="8.45" height="8.44" fill="#0008ff"/><rect x="315.85" y="298.22" width="8.45" height="8.44" fill="#0000ff"/><rect x="324.30" y="298.22" width="8.45" height="8.44" fill="#0000f1"/><rect x="332.75" y="298.22" width="8.45" height="8.44" fill="#0000e8"/><rect x="341.20" y="298.22" width="25.35" height="8.44" fill="#0000da"/><rect x="366.55" y="298.22" width="16.90" height="8.44" fill="#0000d6"/><rect x="383.45" y="298.22" width="16.90" height="8.44" fill="#0000da"/><rect x="400.35" y="298.22" width="25.35" height="8.44" fill="#0000d6"/><rect x="425.70" y="298.22" width="25.35" height="8.44" fill="#0000d1"/><rect x="451.05" y="298.22" width="25.35" height="8.44" fill="#0000cd"/><rect x="476.40" y="298.22" width="8.45" height="8.44" fill="#0000c8"/><rect x="484.85" y="298.22" width="8.45" height="8.44" fill="#0000bb"/><rect x="493.30" y="298.22" width="8.45" height="8.44" fill="#0000b2"/><rect x="501.75" y="298.22" width="8.45" height="8.44" fill="#0000a8"/><rect x="510.20" y="298.22" width="8.45" height="8.44" fill="#0000ad"/><rect x="518.65" y="298.22" width="8.45" height="8.44" fill="#00009f"/><rect x="527.10" y="298.22" width="33.80" height="8.44" fill="#00009b"/><rect x="560.90" y="298.22" width="8.45" height="8.44" fill="#00009f"/><rect x="569.35" y="298.22" width="8.45" height="8.44" fill="#0000a8"/><rect x="577.80" y="298.22" width="8.45" height="8.44" fill="#0000ad"/><rect x="586.25" y="298.22" width="8.45" height="8.44" fill="#0000b2"/><rect x="594.70" y="298.22" width="59.15" height="8.44" fill="#0000ad"/><rect x="653.85" y="298.22" width="8.45" height="8.44" fill="#0000b2"/><rect x="662.30" y="298.22" width="8.45" height="8.44" fill="#0000bb"/><rect x="670.75" y="298.22" width="8.45" height="8.44" fill="#0000c4"/><rect x="679.20" y="298.22" width="8.45" height="8.44" fill="#0000cd"/><rect x="687.65" y="298.22" width="8.45" height="8.44" fill="#0000d6"/><rect x="696.10" y="298.22" width="8.45" height="8.44" fill="#0000da"/><rect x="704.55" y="298.22" width="9.45" height="8.44" fill="#0000df"/><rect x="104.60" y="306.66" width="25.35" height="8.44" fill="#0000df"/><rect x="129.95" y="306.66" width="16.90" height="8.44" fill="#0000e8"/><rect x="146.85" y="306.66" width="8.45" height="8.44" fill="#0000fa"/><rect x="155.30" y="306.66" width="16.90" height="8.44" fill="#0000ff"/><rect x="172.20" y="306.66" width="8.45" height="8.44" fill="#0014ff"/><rect x="180.65" y="306.66" width="8.45" height="8.44" fill="#0020ff"/><rect x="189.10" y="306.66" width="76.05" height="8.44" fill="#0028ff"/><rect x="265.15" y="306.66" width="8.45" height="8.44" fill="#0020ff"/><rect x="273.60" y="306.66" width="8.45" height="8.44" fill="#0014ff"/><rect x="282.05" y="306.66" width="8.45" height="8.44" fill="#0008ff"/><rect x="290.50" y="306.66" width="8.45" height="8.44" fill="#0014ff"/><rect x="298.95" y="306.66" width="8.45" height="8.44" fill="#0008ff"/><rect x="307.40" y="306.66" width="8.45" height="8.44" fill="#0000ff"/><rect x="315.85" y="306.66" width="8.45" height="8.44" fill="#0000fa"/><rect x="324.30" y="306.66" width="8.45" height="8.44" fill="#0000ed"/><rect x="332.75" y="306.66" width="8.45" height="8.44" fill="#0000e8"/><rect x="341.20" y="306.66" width="8.45" height="8.44" fill="#0000df"/><rect x="349.65" y="306.66" width="16.90" height="8.44" fill="#0000da"/><rect x="366.55" y="306.66" width="16.90" height="8.44" fill="#0000d6"/><rect x="383.45" y="306.66" width="16.90" height="8.44" fill="#0000da"/><rect x="400.35" y="306.66" width="25.35" height="8.44" fill="#0000d6"/><rect x="425.70" y="306.66" width="25.35" height="8.44" fill="#0000d1"/><rect x="451.05" y="306.66" width="25.35" height="8.44" fill="#0000cd"/><rect x="476.40" y="306.66" width="8.45" height="8.44" fill="#0000c8"/><rect x="484.85" y="306.66" width="8.45" height="8.44" fill="#0000bb"/><rect x="493.30" y="306.66" width="8.45" height="8.44" fill="#0000b2"/><rect x="501.75" y="306.66" width="8.45" height="8.44" fill="#0000a8"/><rect x="510.20" y="306.66" width="8.45" height="8.44" fill="#0000ad"/><rect x="518.65" y="306.66" width="8.45" height="8.44" fill="#00009f"/><rect x="527.10" y="306.66" width="42.25" height="8.44" fill="#00009b"/><rect x="569.35" y="306.66" width="16.90" height="8.44" fill="#00009f"/><rect x="586.25" y="306.66" width="8.45" height="8.44" fill="#0000a8"/><rect x="594.70" y="306.66" width="25.35" height="8.44" fill="#0000ad"/><rect x="620.05" y="306.66" width="8.45" height="8.44" fill="#0000a8"/><rect x="628.50" y="306.66" width="8.45" height="8.44" fill="#0000a4"/><rect x="636.95" y="306.66" width="25.35" height="8.44" fill="#00009f"/><rect x="662.30" y="306.66" width="16.90" height="8.44" fill="#0000a8"/><rect x="679.20" y="306.66" width="8.45" height="8.44" fill="#0000b2"/><rect x="687.65" y="306.66" width="8.45" height="8.44" fill="#0000b6"/><rect x="696.10" y="306.66" width="8.45" height="8.44" fill="#0000bb"/><rect x="704.55" y="306.66" width="9.45" height="8.44" fill="#0000cd"/><rect x="104.60" y="315.10" width="8.45" height="8.44" fill="#0000d6"/><rect x="113.05" y="315.10" width="8.45" height="8.44" fill="#0000da"/><rect x="121.50" y="315.10" width="16.90" height="8.44" fill="#0000e8"/><rect x="138.40" y="315.10" width="8.45" height="8.44" fill="#0000f1"/><rect x="146.85" y="315.10" width="8.45" height="8.44" fill="#0000ff"/><rect x="155.30" y="315.10" width="8.45" height="8.44" fill="#0014ff"/><rect x="163.75" y="315.10" width="8.45" height="8.44" fill="#0028ff"/><rect x="172.20" y="315.10" width="8.45" height="8.44" fill="#0030ff"/><rect x="180.65" y="315.10" width="42.25" height="8.44" fill="#003cff"/><rect x="222.90" y="315.10" width="8.45" height="8.44" fill="#0038ff"/><rect x="231.35" y="315.10" width="16.90" height="8.44" fill="#0030ff"/><rect x="248.25" y="315.10" width="8.45" height="8.44" fill="#0028ff"/><rect x="256.70" y="315.10" width="8.45" height="8.44" fill="#0020ff"/><rect x="265.15" y="315.10" width="8.45" height="8.44" fill="#0014ff"/><rect x="273.60" y="315.10" width="8.45" height="8.44" fill="#0008ff"/><rect x="282.05" y="315.10" width="25.35" height="8.44" fill="#0000ff"/><rect x="307.40" y="315.10" width="16.90" height="8.44" fill="#0000fa"/><rect x="324.30" y="315.10" width="8.45" height="8.44" fill="#0000f1"/><rect x="332.75" y="315.10" width="8.45" height="8.44" fill="#0000ed"/><rect x="341.20" y="315.10" width="8.45" height="8.44" fill="#0000e8"/><rect x="349.65" y="315.10" width="16.90" height="8.44" fill="#0000da"/><rect x="366.55" y="315.10" width="16.90" height="8.44" fill="#0000d6"/><rect x="383.45" y="315.10" width="16.90" height="8.44" fill="#0000da"/><rect x="400.35" y="315.10" width="25.35" height="8.44" fill="#0000d6"/><rect x="425.70" y="315.10" width="25.35" height="8.44" fill="#0000d1"/><rect x="451.05" y="315.10" width="25.35" height="8.44" fill="#0000cd"/><rect x="476.40" y="315.10" width="8.45" height="8.44" fill="#0000c8"/><rect x="484.85" y="315.10" width="8.45" height="8.44" fill="#0000bb"/><rect x="493.30" y="315.10" width="8.45" height="8.44" fill="#0000b2"/><rect x="501.75" y="315.10" width="8.45" height="8.44" fill="#0000a8"/><rect x="510.20" y="315.10" width="8.45" height="8.44" fill="#0000ad"/><rect x="518.65" y="315.10" width="8.45" height="8.44" fill="#00009f"/><rect x="527.10" y="315.10" width="50.70" height="8.44" fill="#00009b"/><rect x="577.80" y="315.10" width="16.90" height="8.44" fill="#00009f"/><rect x="594.70" y="315.10" width="25.35" height="8.44" fill="#0000a8"/><rect x="620.05" y="315.10" width="8.45" height="8.44" fill="#0000a4"/><rect x="628.50" y="315.10" width="33.80" height="8.44" fill="#00009f"/><rect x="662.30" y="315.10" width="16.90" height="8.44" fill="#0000a8"/><rect x="679.20" y="315.10" width="8.45" height="8.44" fill="#0000b2"/><rect x="687.65" y="315.10" width="8.45" height="8.44" fill="#0000b6"/><rect x="696.10" y="315.10" width="8.45" height="8.44" fill="#0000bb"/><rect x="704.55" y="315.10" width="9.45" height="8.44" fill="#0000cd"/><rect x="104.60" y="323.54" width="8.45" height="8.44" fill="#0000cd"/><rect x="113.05" y="323.54" width="8.45" height="8.44" fill="#0000d6"/><rect x="121.50" y="323.54" width="16.90" height="8.44" fill="#0000e8"/><rect x="138.40" y="323.54" width="8.45" height="8.44" fill="#0000fa"/><rect x="146.85" y="323.54" width="8.45" height="8.44" fill="#0008ff"/><rect x="155.30" y="323.54" width="8.45" height="8.44" fill="#0028ff"/><rect x="163.75" y="323.54" width="8.45" height="8.44" fill="#003cff"/><rect x="172.20" y="323.54" width="8.45" height="8.44" fill="#0044ff"/><rect x="180.65" y="323.54" width="8.45" height="8.44" fill="#004cff"/><rect x="189.10" y="323.54" width="8.45" height="8.44" fill="#0054ff"/><rect x="197.55" y="323.54" width="16.90" height="8.44" fill="#0058ff"/><rect x="214.45" y="323.54" width="8.45" height="8.44" fill="#0054ff"/><rect x="222.90" y="323.54" width="8.45" height="8.44" fill="#004cff"/><rect x="231.35" y="323.54" width="8.45" height="8.44" fill="#003cff"/><rect x="239.80" y="323.54" width="8.45" height="8.44" fill="#0038ff"/><rect x="248.25" y="323.54" width="8.45" height="8.44" fill="#002cff"/><rect x="256.70" y="323.54" width="8.45" height="8.44" fill="#0020ff"/><rect x="265.15" y="323.54" width="8.45" height="8.44" fill="#000cff"/><rect x="273.60" y="323.54" width="8.45" height="8.44" fill="#0000ff"/><rect x="282.05" y="323.54" width="8.45" height="8.44" fill="#0000fa"/><rect x="290.50" y="323.54" width="16.90" height="8.44" fill="#0000ff"/><rect x="307.40" y="323.54" width="16.90" height="8.44" fill="#0000fa"/><rect x="324.30" y="323.54" width="8.45" height="8.44" fill="#0000f1"/><rect x="332.75" y="323.54" width="8.45" height="8.44" fill="#0000ed"/><rect x="341.20" y="323.54" width="8.45" height="8.44" fill="#0000e8"/><rect x="349.65" y="323.54" width="16.90" height="8.44" fill="#0000da"/><rect x="366.55" y="323.54" width="16.90" height="8.44" fill="#0000d6"/><rect x="383.45" y="323.54" width="16.90" height="8.44" fill="#0000da"/><rect x="400.35" y="323.54" width="25.35" height="8.44" fill="#0000d6"/><rect x="425.70" y="323.54" width="25.35" height="8.44" fill="#0000d1"/><rect x="451.05" y="323.54" width="25.35" height="8.44" fill="#0000cd"/><rect x="476.40" y="323.54" width="8.45" height="8.44" fill="#0000c8"/><rect x="484.85" y="323.54" width="8.45" height="8.44" fill="#0000bb"/><rect x="493.30" y="323.54" width="8.45" height="8.44" fill="#0000b2"/><rect x="501.75" y="323.54" width="16.90" height="8.44" fill="#0000a8"/><rect x="518.65" y="323.54" width="8.45" height="8.44" fill="#00009f"/><rect x="527.10" y="323.54" width="50.70" height="8.44" fill="#00009b"/><rect x="577.80" y="323.54" width="16.90" height="8.44" fill="#00009f"/><rect x="594.70" y="323.54" width="25.35" height="8.44" fill="#0000a8"/><rect x="620.05" y="323.54" width="8.45" height="8.44" fill="#0000a4"/><rect x="628.50" y="323.54" width="33.80" height="8.44" fill="#00009f"/><rect x="662.30" y="323.54" width="16.90" height="8.44" fill="#0000a8"/><rect x="679.20" y="323.54" width="8.45" height="8.44" fill="#0000b2"/><rect x="687.65" y="323.54" width="8.45" height="8.44" fill="#0000b6"/><rect x="696.10" y="323.54" width="8.45" height="8.44" fill="#0000bb"/><rect x="704.55" y="323.54" width="9.45" height="8.44" fill="#0000cd"/><rect x="104.60" y="331.98" width="8.45" height="8.44" fill="#0000df"/><rect x="113.05" y="331.98" width="8.45" height="8.44" fill="#0000ed"/><rect x="121.50" y="331.98" width="8.45" height="8.44" fill="#0000ff"/><rect x="129.95" y="331.98" width="8.45" height="8.44" fill="#0000e8"/><rect x="138.40" y="331.98" width="8.45" height="8.44" fill="#0000ff"/><rect x="146.85" y="331.98" width="8.45" height="8.44" fill="#0014ff"/><rect x="155.30" y="331.98" width="8.45" height="8.44" fill="#0030ff"/><rect x="163.75" y="331.98" width="8.45" height="8.44" fill="#0044ff"/><rect x="172.20" y="331.98" width="8.45" height="8.44" fill="#004cff"/><rect x="180.65" y="331.98" width="8.45" height="8.44" fill="#0058ff"/><rect x="189.10" y="331.98" width="25.35" height="8.44" fill="#0060ff"/><rect x="214.45" y="331.98" width="8.45" height="8.44" fill="#005cff"/><rect x="222.90" y="331.98" width="8.45" height="8.44" fill="#0054ff"/><rect x="231.35" y="331.98" width="8.45" height="8.44" fill="#0044ff"/><rect x="239.80" y="331.98" width="8.45" height="8.44" fill="#003cff"/><rect x="248.25" y="331.98" width="8.45" height="8.44" fill="#002cff"/><rect x="256.70" y="331.98" width="8.45" height="8.44" fill="#0020ff"/><rect x="265.15" y="331.98" width="8.45" height="8.44" fill="#000cff"/><rect x="273.60" y="331.98" width="8.45" height="8.44" fill="#0000ff"/><rect x="282.05" y="331.98" width="8.45" height="8.44" fill="#0000fa"/><rect x="290.50" y="331.98" width="25.35" height="8.44" fill="#0000ff"/><rect x="315.85" y="331.98" width="8.45" height="8.44" fill="#0000fa"/><rect x="324.30" y="331.98" width="8.45" height="8.44" fill="#0000ed"/><rect x="332.75" y="331.98" width="8.45" height="8.44" fill="#0000e8"/><rect x="341.20" y="331.98" width="8.45" height="8.44" fill="#0000df"/><rect x="349.65" y="331.98" width="16.90" height="8.44" fill="#0000da"/><rect x="366.55" y="331.98" width="16.90" height="8.44" fill="#0000d6"/><rect x="383.45" y="331.98" width="16.90" height="8.44" fill="#0000da"/><rect x="400.35" y="331.98" width="25.35" height="8.44" fill="#0000d6"/><rect x="425.70" y="331.98" width="25.35" height="8.44" fill="#0000d1"/><rect x="451.05" y="331.98" width="25.35" height="8.44" fill="#0000cd"/><rect x="476.40" y="331.98" width="8.45" height="8.44" fill="#0000c8"/><rect x="484.85" y="331.98" width="8.45" height="8.44" fill="#0000bb"/><rect x="493.30" y="331.98" width="8.45" height="8.44" fill="#0000b2"/><rect x="501.75" y="331.98" width="8.45" height="8.44" fill="#0000a8"/><rect x="510.20" y="331.98" width="8.45" height="8.44" fill="#0000a4"/><rect x="518.65" y="331.98" width="8.45" height="8.44" fill="#00009f"/><rect x="527.10" y="331.98" width="67.60" height="8.44" fill="#00009b"/><rect x="594.70" y="331.98" width="25.35" height="8.44" fill="#0000a4"/><rect x="620.05" y="331.98" width="42.25" height="8.44" fill="#00009f"/><rect x="662.30" y="331.98" width="16.90" height="8.44" fill="#0000a8"/><rect x="679.20" y="331.98" width="8.45" height="8.44" fill="#0000b2"/><rect x="687.65" y="331.98" width="8.45" height="8.44" fill="#0000b6"/><rect x="696.10" y="331.98" width="8.45" height="8.44" fill="#0000bb"/><rect x="704.55" y="331.98" width="9.45" height="8.44" fill="#0000cd"/><rect x="104.60" y="340.42" width="8.45" height="8.44" fill="#0000df"/><rect x="113.05" y="340.42" width="8.45" height="8.44" fill="#0000e8"/><rect x="121.50" y="340.42" width="8.45" height="8.44" fill="#0000fa"/><rect x="129.95" y="340.42" width="8.45" height="8.44" fill="#0000e8"/><rect x="138.40" y="340.42" width="8.45" height="8.44" fill="#0000fa"/><rect x="146.85" y="340.42" width="8.45" height="8.44" fill="#0008ff"/><rect x="155.30" y="340.42" width="8.45" height="8.44" fill="#0028ff"/><rect x="163.75" y="340.42" width="8.45" height="8.44" fill="#003cff"/><rect x="172.20" y="340.42" width="8.45" height="8.44" fill="#0044ff"/><rect x="180.65" y="340.42" width="8.45" height="8.44" fill="#004cff"/><rect x="189.10" y="340.42" width="8.45" height="8.44" fill="#0054ff"/><rect x="197.55" y="340.42" width="16.90" height="8.44" fill="#0058ff"/><rect x="214.45" y="340.42" width="8.45" height="8.44" fill="#0054ff"/><rect x="222.90" y="340.42" width="8.45" height="8.44" fill="#004cff"/><rect x="231.35" y="340.42" width="8.45" height="8.44" fill="#003cff"/><rect x="239.80" y="340.42" width="8.45" height="8.44" fill="#0038ff"/><rect x="248.25" y="340.42" width="8.45" height="8.44" fill="#0028ff"/><rect x="256.70" y="340.42" width="8.45" height="8.44" fill="#0020ff"/><rect x="265.15" y="340.42" width="8.45" height="8.44" fill="#000cff"/><rect x="273.60" y="340.42" width="8.45" height="8.44" fill="#0000ff"/><rect x="282.05" y="340.42" width="8.45" height="8.44" fill="#0000fa"/><rect x="290.50" y="340.42" width="16.90" height="8.44" fill="#0000ff"/><rect x="307.40" y="340.42" width="8.45" height="8.44" fill="#0000fa"/><rect x="315.85" y="340.42" width="8.45" height="8.44" fill="#0000f1"/><rect x="324.30" y="340.42" width="8.45" height="8.44" fill="#0000e8"/><rect x="332.75" y="340.42" width="8.45" height="8.44" fill="#0000df"/><rect x="341.20" y="340.42" width="8.45" height="8.44" fill="#0000da"/><rect x="349.65" y="340.42" width="16.90" height="8.44" fill="#0000d6"/><rect x="366.55" y="340.42" width="16.90" height="8.44" fill="#0000d1"/><rect x="383.45" y="340.42" width="25.35" height="8.44" fill="#0000cd"/><rect x="408.80" y="340.42" width="16.90" height="8.44" fill="#0000c4"/><rect x="425.70" y="340.42" width="25.35" height="8.44" fill="#0000cd"/><rect x="451.05" y="340.42" width="8.45" height="8.44" fill="#0000c8"/><rect x="459.50" y="340.42" width="8.45" height="8.44" fill="#0000c4"/><rect x="467.95" y="340.42" width="8.45" height="8.44" fill="#0000bf"/><rect x="476.40" y="340.42" width="8.45" height="8.44" fill="#0000bb"/><rect x="484.85" y="340.42" width="8.45" height="8.44" fill="#0000b6"/><rect x="493.30" y="340.42" width="8.45" height="8.44" fill="#0000ad"/><rect x="501.75" y="340.42" width="8.45" height="8.44" fill="#0000a8"/><rect x="510.20" y="340.42" width="84.50" height="8.44" fill="#00009b"/><rect x="594.70" y="340.42" width="25.35" height="8.44" fill="#000092"/><rect x="620.05" y="340.42" width="33.80" height="8.44" fill="#00008d"/><rect x="653.85" y="340.42" width="25.35" height="8.44" fill="#000096"/><rect x="679.20" y="340.42" width="8.45" height="8.44" fill="#00009f"/><rect x="687.65" y="340.42" width="8.45" height="8.44" fill="#0000a8"/><rect x="696.10" y="340.42" width="8.45" height="8.44" fill="#0000b6"/><rect x="704.55" y="340.42" width="9.45" height="8.44" fill="#0000c4"/><rect x="104.60" y="348.86" width="8.45" height="8.44" fill="#0000da"/><rect x="113.05" y="348.86" width="8.45" height="8.44" fill="#0000e8"/><rect x="121.50" y="348.86" width="8.45" height="8.44" fill="#0000f1"/><rect x="129.95" y="348.86" width="8.45" height="8.44" fill="#0000e8"/><rect x="138.40" y="348.86" width="8.45" height="8.44" fill="#0000f1"/><rect x="146.85" y="348.86" width="8.45" height="8.44" fill="#0000ff"/><rect x="155.30" y="348.86" width="8.45" height="8.44" fill="#0014ff"/><rect x="163.75" y="348.86" width="8.45" height="8.44" fill="#0028ff"/><rect x="172.20" y="348.86" width="8.45" height="8.44" fill="#0030ff"/><rect x="180.65" y="348.86" width="42.25" height="8.44" fill="#003cff"/><rect x="222.90" y="348.86" width="8.45" height="8.44" fill="#0038ff"/><rect x="231.35" y="348.86" width="8.45" height="8.44" fill="#0030ff"/><rect x="239.80" y="348.86" width="8.45" height="8.44" fill="#0028ff"/><rect x="248.25" y="348.86" width="8.45" height="8.44" fill="#0020ff"/><rect x="256.70" y="348.86" width="8.45" height="8.44" fill="#0014ff"/><rect x="265.15" y="348.86" width="8.45" height="8.44" fill="#0008ff"/><rect x="273.60" y="348.86" width="8.45" height="8.44" fill="#0000ff"/><rect x="282.05" y="348.86" width="8.45" height="8.44" fill="#0000f6"/><rect x="290.50" y="348.86" width="8.45" height="8.44" fill="#0000ff"/><rect x="298.95" y="348.86" width="8.45" height="8.44" fill="#0000fa"/><rect x="307.40" y="348.86" width="8.45" height="8.44" fill="#0000f1"/><rect x="315.85" y="348.86" width="8.45" height="8.44" fill="#0000e8"/><rect x="324.30" y="348.86" width="8.45" height="8.44" fill="#0000df"/><rect x="332.75" y="348.86" width="8.45" height="8.44" fill="#0000da"/><rect x="341.20" y="348.86" width="16.90" height="8.44" fill="#0000d6"/><rect x="358.10" y="348.86" width="50.70" height="8.44" fill="#0000cd"/><rect x="408.80" y="348.86" width="16.90" height="8.44" fill="#0000bf"/><rect x="425.70" y="348.86" width="25.35" height="8.44" fill="#0000c4"/><rect x="451.05" y="348.86" width="8.45" height="8.44" fill="#0000bf"/><rect x="459.50" y="348.86" width="16.90" height="8.44" fill="#0000bb"/><rect x="476.40" y="348.86" width="8.45" height="8.44" fill="#0000b6"/><rect x="484.85" y="348.86" width="8.45" height="8.44" fill="#0000b2"/><rect x="493.30" y="348.86" width="8.45" height="8.44" fill="#0000ad"/><rect x="501.75" y="348.86" width="8.45" height="8.44" fill="#0000a4"/><rect x="510.20" y="348.86" width="84.50" height="8.44" fill="#00009b"/><rect x="594.70" y="348.86" width="25.35" height="8.44" fill="#000092"/><rect x="620.05" y="348.86" width="33.80" height="8.44" fill="#00008d"/><rect x="653.85" y="348.86" width="25.35" height="8.44" fill="#000096"/><rect x="679.20" y="348.86" width="8.45" height="8.44" fill="#00009f"/><rect x="687.65" y="348.86" width="8.45" height="8.44" fill="#0000a8"/><rect x="696.10" y="348.86" width="8.45" height="8.44" fill="#0000b6"/><rect x="704.55" y="348.86" width="9.45" height="8.44" fill="#0000c4"/><rect x="104.60" y="357.30" width="8.45" height="8.44" fill="#0000da"/><rect x="113.05" y="357.30" width="8.45" height="8.44" fill="#0000df"/><rect x="121.50" y="357.30" width="8.45" height="8.44" fill="#0000e8"/><rect x="129.95" y="357.30" width="8.45" height="8.44" fill="#0000df"/><rect x="138.40" y="357.30" width="8.45" height="8.44" fill="#0000e8"/><rect x="146.85" y="357.30" width="8.45" height="8.44" fill="#0000fa"/><rect x="155.30" y="357.30" width="8.45" height="8.44" fill="#0000ff"/><rect x="163.75" y="357.30" width="8.45" height="8.44" fill="#0014ff"/><rect x="172.20" y="357.30" width="16.90" height="8.44" fill="#0020ff"/><rect x="189.10" y="357.30" width="33.80" height="8.44" fill="#0028ff"/><rect x="222.90" y="357.30" width="16.90" height="8.44" fill="#0020ff"/><rect x="239.80" y="357.30" width="8.45" height="8.44" fill="#0018ff"/><rect x="248.25" y="357.30" width="8.45" height="8.44" fill="#0014ff"/><rect x="256.70" y="357.30" width="8.45" height="8.44" fill="#0008ff"/><rect x="265.15" y="357.30" width="8.45" height="8.44" fill="#0000ff"/><rect x="273.60" y="357.30" width="8.45" height="8.44" fill="#0000fa"/><rect x="282.05" y="357.30" width="8.45" height="8.44" fill="#0000f1"/><rect x="290.50" y="357.30" width="8.45" height="8.44" fill="#0000fa"/><rect x="298.95" y="357.30" width="8.45" height="8.44" fill="#0000f1"/><rect x="307.40" y="357.30" width="8.45" height="8.44" fill="#0000e8"/><rect x="315.85" y="357.30" width="8.45" height="8.44" fill="#0000df"/><rect x="324.30" y="357.30" width="8.45" height="8.44" fill="#0000da"/><rect x="332.75" y="357.30" width="8.45" height="8.44" fill="#0000d6"/><rect x="341.20" y="357.30" width="25.35" height="8.44" fill="#0000cd"/><rect x="366.55" y="357.30" width="42.25" height="8.44" fill="#0000c4"/><rect x="408.80" y="357.30" width="16.90" height="8.44" fill="#0000b6"/><rect x="425.70" y="357.30" width="16.90" height="8.44" fill="#0000b2"/><rect x="442.60" y="357.30" width="33.80" height="8.44" fill="#0000ad"/><rect x="476.40" y="357.30" width="33.80" height="8.44" fill="#0000a8"/><rect x="510.20" y="357.30" width="101.40" height="8.44" fill="#00009f"/><rect x="611.60" y="357.30" width="33.80" height="8.44" fill="#0000a8"/><rect x="645.40" y="357.30" width="16.90" height="8.44" fill="#0000ad"/><rect x="662.30" y="357.30" width="8.45" height="8.44" fill="#0000b2"/><rect x="670.75" y="357.30" width="8.45" height="8.44" fill="#0000b6"/><rect x="679.20" y="357.30" width="16.90" height="8.44" fill="#0000bb"/><rect x="696.10" y="357.30" width="8.45" height="8.44" fill="#0000bf"/><rect x="704.55" y="357.30" width="9.45" height="8.44" fill="#0000c4"/><rect x="104.60" y="365.74" width="8.45" height="8.44" fill="#0000da"/><rect x="113.05" y="365.74" width="8.45" height="8.44" fill="#0000df"/><rect x="121.50" y="365.74" width="8.45" height="8.44" fill="#0000e8"/><rect x="129.95" y="365.74" width="8.45" height="8.44" fill="#0000da"/><rect x="138.40" y="365.74" width="8.45" height="8.44" fill="#0000e8"/><rect x="146.85" y="365.74" width="8.45" height="8.44" fill="#0000f1"/><rect x="155.30" y="365.74" width="8.45" height="8.44" fill="#0000ff"/><rect x="163.75" y="365.74" width="8.45" height="8.44" fill="#0004ff"/><rect x="172.20" y="365.74" width="8.45" height="8.44" fill="#000cff"/><rect x="180.65" y="365.74" width="8.45" height="8.44" fill="#0014ff"/><rect x="189.10" y="365.74" width="33.80" height="8.44" fill="#0018ff"/><rect x="222.90" y="365.74" width="8.45" height="8.44" fill="#0014ff"/><rect x="231.35" y="365.74" width="8.45" height="8.44" fill="#0010ff"/><rect x="239.80" y="365.74" width="8.45" height="8.44" fill="#0008ff"/><rect x="248.25" y="365.74" width="8.45" height="8.44" fill="#0004ff"/><rect x="256.70" y="365.74" width="16.90" height="8.44" fill="#0000ff"/><rect x="273.60" y="365.74" width="8.45" height="8.44" fill="#0000f1"/><rect x="282.05" y="365.74" width="8.45" height="8.44" fill="#0000e8"/><rect x="290.50" y="365.74" width="8.45" height="8.44" fill="#0000f1"/><rect x="298.95" y="365.74" width="8.45" height="8.44" fill="#0000ed"/><rect x="307.40" y="365.74" width="8.45" height="8.44" fill="#0000e8"/><rect x="315.85" y="365.74" width="8.45" height="8.44" fill="#0000df"/><rect x="324.30" y="365.74" width="8.45" height="8.44" fill="#0000da"/><rect x="332.75" y="365.74" width="8.45" height="8.44" fill="#0000d6"/><rect x="341.20" y="365.74" width="16.90" height="8.44" fill="#0000cd"/><rect x="358.10" y="365.74" width="8.45" height="8.44" fill="#0000c8"/><rect x="366.55" y="365.74" width="42.25" height="8.44" fill="#0000c4"/><rect x="408.80" y="365.74" width="16.90" height="8.44" fill="#0000b6"/><rect x="425.70" y="365.74" width="16.90" height="8.44" fill="#0000b2"/><rect x="442.60" y="365.74" width="33.80" height="8.44" fill="#0000ad"/><rect x="476.40" y="365.74" width="33.80" height="8.44" fill="#0000a8"/><rect x="510.20" y="365.74" width="101.40" height="8.44" fill="#00009f"/><rect x="611.60" y="365.74" width="33.80" height="8.44" fill="#0000a8"/><rect x="645.40" y="365.74" width="16.90" height="8.44" fill="#0000ad"/><rect x="662.30" y="365.74" width="8.45" height="8.44" fill="#0000b2"/><rect x="670.75" y="365.74" width="8.45" height="8.44" fill="#0000b6"/><rect x="679.20" y="365.74" width="16.90" height="8.44" fill="#0000bb"/><rect x="696.10" y="365.74" width="8.45" height="8.44" fill="#0000bf"/><rect x="704.55" y="365.74" width="9.45" height="8.44" fill="#0000c4"/><rect x="104.60" y="374.18" width="16.90" height="8.44" fill="#0000e8"/><rect x="121.50" y="374.18" width="8.45" height="8.44" fill="#0000ed"/><rect x="129.95" y="374.18" width="8.45" height="8.44" fill="#0000da"/><rect x="138.40" y="374.18" width="8.45" height="8.44" fill="#0000e3"/><rect x="146.85" y="374.18" width="8.45" height="8.44" fill="#0000ed"/><rect x="155.30" y="374.18" width="8.45" height="8.44" fill="#0000fa"/><rect x="163.75" y="374.18" width="8.45" height="8.44" fill="#0000ff"/><rect x="172.20" y="374.18" width="8.45" height="8.44" fill="#0004ff"/><rect x="180.65" y="374.18" width="8.45" height="8.44" fill="#0008ff"/><rect x="189.10" y="374.18" width="33.80" height="8.44" fill="#000cff"/><rect x="222.90" y="374.18" width="16.90" height="8.44" fill="#0008ff"/><rect x="239.80" y="374.18" width="25.35" height="8.44" fill="#0000ff"/><rect x="265.15" y="374.18" width="8.45" height="8.44" fill="#0000f6"/><rect x="273.60" y="374.18" width="8.45" height="8.44" fill="#0000e8"/><rect x="282.05" y="374.18" width="8.45" height="8.44" fill="#0000e3"/><rect x="290.50" y="374.18" width="8.45" height="8.44" fill="#0000ed"/><rect x="298.95" y="374.18" width="8.45" height="8.44" fill="#0000e8"/><rect x="307.40" y="374.18" width="8.45" height="8.44" fill="#0000df"/><rect x="315.85" y="374.18" width="8.45" height="8.44" fill="#0000da"/><rect x="324.30" y="374.18" width="8.45" height="8.44" fill="#0000d6"/><rect x="332.75" y="374.18" width="8.45" height="8.44" fill="#0000d1"/><rect x="341.20" y="374.18" width="16.90" height="8.44" fill="#0000cd"/><rect x="358.10" y="374.18" width="8.45" height="8.44" fill="#0000c8"/><rect x="366.55" y="374.18" width="42.25" height="8.44" fill="#0000c4"/><rect x="408.80" y="374.18" width="16.90" height="8.44" fill="#0000b6"/><rect x="425.70" y="374.18" width="16.90" height="8.44" fill="#0000b2"/><rect x="442.60" y="374.18" width="33.80" height="8.44" fill="#0000ad"/><rect x="476.40" y="374.18" width="33.80" height="8.44" fill="#0000a8"/><rect x="510.20" y="374.18" width="101.40" height="8.44" fill="#00009f"/><rect x="611.60" y="374.18" width="33.80" height="8.44" fill="#0000a8"/><rect x="645.40" y="374.18" width="16.90" height="8.44" fill="#0000ad"/><rect x="662.30" y="374.18" width="8.45" height="8.44" fill="#0000b2"/><rect x="670.75" y="374.18" width="8.45" height="8.44" fill="#0000b6"/><rect x="679.20" y="374.18" width="16.90" height="8.44" fill="#0000bb"/><rect x="696.10" y="374.18" width="8.45" height="8.44" fill="#0000bf"/><rect x="704.55" y="374.18" width="9.45" height="8.44" fill="#0000c4"/><rect x="104.60" y="382.62" width="16.90" height="8.38" fill="#0000e8"/><rect x="121.50" y="382.62" width="8.45" height="8.38" fill="#0000ed"/><rect x="129.95" y="382.62" width="8.45" height="8.38" fill="#0000da"/><rect x="138.40" y="382.62" width="8.45" height="8.38" fill="#0000e3"/><rect x="146.85" y="382.62" width="8.45" height="8.38" fill="#0000e8"/><rect x="155.30" y="382.62" width="8.45" height="8.38" fill="#0000f6"/><rect x="163.75" y="382.62" width="25.35" height="8.38" fill="#0000ff"/><rect x="189.10" y="382.62" width="33.80" height="8.38" fill="#0004ff"/><rect x="222.90" y="382.62" width="33.80" height="8.38" fill="#0000ff"/><rect x="256.70" y="382.62" width="8.45" height="8.38" fill="#0000fa"/><rect x="265.15" y="382.62" width="8.45" height="8.38" fill="#0000ed"/><rect x="273.60" y="382.62" width="8.45" height="8.38" fill="#0000e8"/><rect x="282.05" y="382.62" width="8.45" height="8.38" fill="#0000df"/><rect x="290.50" y="382.62" width="8.45" height="8.38" fill="#0000e8"/><rect x="298.95" y="382.62" width="16.90" height="8.38" fill="#0000df"/><rect x="315.85" y="382.62" width="8.45" height="8.38" fill="#0000da"/><rect x="324.30" y="382.62" width="8.45" height="8.38" fill="#0000d6"/><rect x="332.75" y="382.62" width="8.45" height="8.38" fill="#0000d1"/><rect x="341.20" y="382.62" width="16.90" height="8.38" fill="#0000cd"/><rect x="358.10" y="382.62" width="8.45" height="8.38" fill="#0000c8"/><rect x="366.55" y="382.62" width="59.15" height="8.38" fill="#0000c4"/><rect x="425.70" y="382.62" width="16.90" height="8.38" fill="#0000bf"/><rect x="442.60" y="382.62" width="33.80" height="8.38" fill="#0000bb"/><rect x="476.40" y="382.62" width="33.80" height="8.38" fill="#0000b6"/><rect x="510.20" y="382.62" width="135.20" height="8.38" fill="#0000bb"/><rect x="645.40" y="382.62" width="16.90" height="8.38" fill="#0000bf"/><rect x="662.30" y="382.62" width="16.90" height="8.38" fill="#0000c4"/><rect x="679.20" y="382.62" width="16.90" height="8.38" fill="#0000c8"/><rect x="696.10" y="382.62" width="17.90" height="8.38" fill="#0000cd"/></g>
<g clip-path="url(#ax)">
<path d="M128.8 133.1L131.5 132.1L136.1 132.3L139.5 131.9L136.5 130.6L134.4 129.6L131.0 128.6L133.2 127.5L137.1 126.5L140.0 125.2L144.2 124.4L147.9 123.3L151.8 124.2L156.1 124.4L159.4 124.9L162.3 125.2L167.9 125.5L173.0 126.0L178.0 126.5L182.3 127.4L185.6 126.5L189.9 126.4L194.1 125.7L196.6 124.9L199.2 126.4L202.5 126.7L205.9 126.0L210.2 126.9L214.4 127.4L218.6 128.6L223.7 128.7L228.7 129.1L233.0 128.6L237.2 129.1L241.4 129.6L246.5 129.4L249.0 128.4L251.6 128.7L253.6 127.0L253.1 123.3L256.6 122.3L258.3 124.9L261.7 126.9L264.2 128.6L266.8 129.4L269.3 127.0L271.9 126.2L274.0 127.0L275.2 129.9L271.9 132.1L268.0 131.6L265.1 134.4L260.0 136.1L256.6 138.3L253.8 141.2L252.8 144.2L255.8 145.2L257.0 147.4L261.7 147.9L265.1 149.4L268.5 150.4L273.9 150.6L273.9 153.4L275.2 155.6L278.6 156.9L279.6 155.1L279.5 151.9L282.0 150.1L283.3 147.9L282.0 145.4L280.5 144.3L281.8 141.8L281.1 139.3L282.3 138.3L286.2 138.6L288.8 138.8L291.8 140.3L295.0 141.2L295.3 144.0L297.4 145.0L299.6 145.0L301.8 143.2L303.8 142.0L305.7 144.2L307.7 146.2L309.2 148.9L310.7 150.1L314.1 151.6L316.0 152.6L318.0 153.9L318.8 155.4L317.0 156.8L314.1 157.5L311.6 159.0L307.4 159.0L304.0 159.0L300.6 159.6L298.1 160.5L296.0 162.2L293.7 164.2L295.3 163.2L298.1 161.8L300.6 160.8L304.0 161.0L304.5 162.0L302.6 162.7L303.5 164.0L303.8 165.5L305.7 166.4L308.9 166.5L310.6 165.7L311.6 166.4L309.5 167.2L305.7 168.4L302.3 170.1L301.3 168.7L304.0 167.2L302.3 167.2L299.7 167.9L297.2 168.9L295.0 169.5L294.2 170.1L293.3 171.4L293.7 172.4L294.7 173.1L294.0 173.4L292.3 173.6L289.9 174.1L288.2 174.9L287.9 175.8L287.4 177.1L286.4 177.9L286.1 178.8L285.2 180.1L284.4 181.1L284.9 182.5L285.4 184.0L284.0 184.7L282.5 185.2L281.1 186.3L279.3 187.4L277.9 188.5L276.2 189.5L275.4 190.9L275.4 192.2L276.2 194.2L277.3 196.3L277.8 198.4L277.6 200.0L277.1 201.0L275.9 201.0L274.9 199.8L274.2 198.4L273.2 196.8L273.2 195.3L272.2 194.2L271.0 192.7L269.1 193.4L267.6 192.2L265.1 192.2L263.4 192.2L261.9 192.6L262.2 194.2L260.9 194.2L259.2 194.1L257.0 193.6L254.4 193.4L252.8 193.9L250.2 195.4L248.5 196.9L248.7 199.3L248.2 201.3L247.8 203.0L247.7 205.5L248.7 207.7L249.9 210.0L250.7 211.4L252.8 212.2L253.6 212.7L256.6 212.1L258.7 212.2L259.7 210.7L260.2 208.4L261.7 207.5L264.2 207.2L265.8 207.2L266.3 208.4L265.1 210.2L264.6 212.2L263.9 212.7L263.7 214.4L263.6 215.7L262.7 216.6L264.6 216.8L266.9 216.8L269.3 216.6L271.0 217.4L272.2 218.1L271.9 219.8L271.9 222.3L271.5 224.8L273.0 226.5L274.4 227.8L275.7 228.3L277.3 227.7L278.6 227.2L280.3 227.5L282.2 228.7L281.3 231.0L280.8 229.2L278.6 228.3L277.1 229.5L277.8 230.9L276.4 231.0L275.1 229.9L272.9 229.7L271.7 228.7L269.7 227.0L268.1 226.7L268.0 224.8L266.3 222.8L264.9 221.3L263.4 221.1L261.7 220.6L259.5 219.9L257.7 219.1L255.8 217.3L253.3 216.1L250.7 216.9L248.2 216.4L246.0 215.6L243.1 214.6L240.9 213.4L238.0 212.6L235.8 210.9L234.5 209.0L235.0 207.0L234.2 205.0L232.3 203.1L230.4 201.1L228.4 200.0L227.9 198.3L226.0 196.8L224.9 195.9L223.3 194.6L222.2 192.2L221.6 190.9L218.9 189.9L219.3 191.6L220.1 193.2L221.6 194.9L222.7 196.9L224.4 198.4L225.0 199.8L226.0 201.6L226.7 202.6L227.9 204.3L227.2 204.8L226.4 203.7L224.2 202.3L223.3 201.3L223.5 199.6L222.0 198.4L220.5 197.8L220.0 196.8L220.0 195.8L218.6 194.6L217.4 193.2L216.7 191.7L215.7 190.2L215.1 188.7L214.5 187.4L212.9 186.5L211.8 186.0L210.3 185.5L209.1 185.2L208.5 183.7L206.9 181.8L206.1 180.8L205.9 179.8L205.1 179.3L203.9 177.9L203.7 176.4L202.7 175.4L203.2 173.6L202.9 171.9L203.2 169.7L203.4 167.7L203.6 165.7L203.2 164.3L202.2 162.0L204.7 162.3L205.4 161.1L204.7 160.3L202.0 159.5L200.3 158.6L198.0 157.8L197.0 156.1L195.8 154.4L193.6 152.6L192.4 151.2L190.9 150.1L189.0 148.2L187.0 146.5L185.0 144.9L182.6 145.2L180.2 144.3L178.0 143.3L175.5 142.8L173.0 142.5L169.8 142.5L167.0 141.8L164.7 141.0L162.3 141.7L160.5 142.7L157.9 143.7L156.2 143.3L156.9 141.5L159.3 140.5L157.9 140.7L155.6 141.8L154.0 143.7L152.2 144.9L151.2 146.0L148.5 147.7L145.6 148.9L143.2 149.9L141.0 150.4L138.3 151.1L134.9 151.7L137.1 150.7L139.7 149.6L142.2 148.5L144.6 147.4L146.3 146.2L147.1 144.9L145.4 144.7L143.2 144.3L140.8 144.5L139.5 143.2L138.0 142.5L136.1 142.7L134.3 141.8L133.6 140.7L132.4 139.6L133.2 138.5L134.4 137.3L136.6 137.3L138.6 136.5L140.8 136.5L141.2 135.3L140.0 134.9L138.0 135.1L136.6 134.8L134.3 134.9L132.1 134.8L131.0 133.8L128.8 133.1ZM282.2 228.7L283.2 228.9L284.2 227.7L285.2 226.5L285.9 225.0L287.4 224.7L289.1 224.3L290.6 223.5L291.5 222.5L292.6 223.0L292.3 224.3L291.5 223.8L292.0 225.0L293.0 224.7L294.3 224.1L294.5 223.0L295.3 224.0L297.0 224.1L297.7 225.2L300.1 225.5L302.3 226.3L304.3 225.5L306.2 225.3L308.4 225.3L307.4 226.0L309.0 226.7L310.2 228.9L311.9 229.4L313.3 230.2L314.1 231.2L315.8 232.7L317.5 233.4L320.0 233.2L321.7 233.7L323.6 234.2L325.4 235.7L326.3 236.7L327.1 239.1L328.1 240.3L328.6 241.6L327.5 243.0L329.3 243.6L331.0 244.8L332.0 244.3L334.2 245.0L336.4 246.0L337.8 247.3L339.6 247.3L342.3 248.0L345.0 248.0L347.2 249.5L349.3 251.0L351.3 251.9L353.3 252.2L354.0 254.6L354.2 256.4L353.5 258.4L352.5 259.8L351.1 261.1L349.8 263.0L348.4 265.0L347.2 266.3L347.1 268.5L346.7 272.5L345.9 275.1L345.2 276.7L343.9 279.1L342.3 280.9L340.3 281.9L337.6 282.4L335.6 283.3L333.7 284.1L332.0 285.6L330.8 287.5L330.7 289.5L330.3 291.3L328.8 292.9L327.6 294.7L326.3 296.4L324.8 297.7L323.2 299.9L322.1 301.1L320.2 301.9L318.0 301.9L316.3 301.1L314.3 300.8L314.8 301.9L316.3 302.8L316.6 304.3L317.2 305.1L315.8 307.0L314.3 308.0L311.9 308.5L309.2 308.7L307.7 308.7L307.9 310.7L307.2 311.8L304.6 312.2L303.0 312.2L303.3 314.2L305.2 314.5L304.3 315.4L303.0 316.5L302.4 318.6L300.1 319.1L298.7 321.1L299.6 321.9L300.9 323.1L301.6 324.1L299.6 325.3L298.2 327.1L296.4 328.3L296.2 330.0L297.4 331.2L295.5 331.2L297.0 332.3L298.6 333.9L300.6 334.9L302.8 335.4L300.4 335.9L297.9 336.2L295.5 336.0L293.0 335.5L290.8 334.5L289.1 333.3L287.4 332.0L286.7 329.8L285.7 327.6L285.4 325.3L285.5 322.8L286.7 321.1L287.4 319.2L288.6 317.6L289.1 315.2L288.2 313.5L288.4 311.3L288.8 308.8L288.6 306.5L289.8 305.0L290.3 303.1L291.3 300.9L291.8 298.9L292.3 296.7L292.0 294.2L292.3 292.0L292.8 289.7L293.5 287.0L293.8 284.6L294.0 282.3L294.5 279.3L294.3 276.7L294.0 274.2L292.3 272.9L290.4 271.5L288.1 269.8L285.9 268.5L284.2 266.7L283.7 264.8L282.5 263.5L281.7 261.8L280.5 259.6L279.3 257.4L278.4 255.6L277.1 254.4L275.7 253.2L276.2 252.0L275.6 250.5L277.1 249.2L277.9 247.7L277.1 247.7L276.2 247.0L276.4 245.5L277.6 244.0L277.8 242.0L279.3 241.1L279.8 240.1L280.6 238.9L281.8 237.6L282.5 236.4L282.2 234.2L282.2 232.2L281.3 231.0ZM403.0 183.2L404.0 183.0L405.9 184.2L408.1 184.0L409.6 184.3L411.0 183.3L413.0 183.0L415.2 182.0L417.9 181.5L421.1 181.3L423.6 181.0L426.0 181.3L428.2 181.0L429.6 180.6L430.4 181.3L431.6 181.0L430.9 182.1L431.1 183.5L431.8 184.2L430.6 185.8L431.1 186.7L432.1 187.7L434.3 188.2L436.5 188.4L438.7 189.0L439.5 190.5L442.4 191.1L444.9 192.4L446.3 192.1L447.0 190.9L446.6 189.9L447.5 188.9L449.3 188.0L451.7 188.5L452.2 189.2L455.1 189.7L455.6 190.2L459.5 190.9L461.9 191.4L463.5 190.7L465.2 190.2L466.9 190.4L467.6 190.7L468.1 192.1L467.6 193.2L468.4 195.3L469.8 197.1L470.6 198.8L471.8 201.1L473.0 203.0L473.2 204.5L475.4 206.5L475.9 208.4L476.2 210.7L477.7 212.7L478.8 214.2L479.4 216.4L480.3 217.4L482.6 218.9L484.3 220.6L485.5 222.0L486.2 222.8L485.9 224.0L487.0 225.0L488.4 225.8L490.1 225.3L491.8 225.2L493.8 224.7L495.7 224.3L498.0 223.6L499.7 223.5L499.4 225.5L499.0 226.2L498.5 228.0L497.7 229.7L496.7 231.9L495.2 234.4L493.6 236.2L491.8 238.4L490.1 239.8L487.5 241.5L485.9 242.8L483.8 244.8L482.8 246.5L481.1 247.7L479.9 250.5L479.3 251.2L478.6 254.2L479.6 255.2L479.4 256.7L480.1 258.6L481.3 260.6L481.5 263.1L481.6 265.0L481.6 267.2L482.0 268.0L480.8 270.3L479.1 271.7L476.2 272.9L474.4 274.7L471.8 276.6L471.8 278.6L472.8 279.9L473.0 282.3L472.8 283.8L471.5 284.8L468.8 286.0L468.1 287.1L468.6 287.3L468.1 289.5L467.8 291.3L465.9 292.7L463.9 295.4L461.9 297.4L459.5 299.1L457.6 299.7L456.4 300.4L454.8 300.4L452.9 300.1L451.2 300.3L449.3 300.9L448.0 301.1L446.8 301.8L446.1 301.8L445.5 301.3L444.9 301.1L444.1 300.6L444.1 299.2L443.8 297.7L443.3 296.2L442.2 294.4L441.4 292.4L440.6 291.3L439.4 290.0L438.7 288.8L437.8 286.0L437.3 283.5L437.3 281.4L436.5 279.8L435.5 278.2L434.6 276.4L433.3 274.2L432.6 272.4L432.6 270.3L433.5 268.3L434.1 266.0L435.5 264.3L436.2 262.3L435.7 260.8L435.1 259.8L434.8 258.3L434.1 256.1L433.8 254.7L433.3 253.5L433.8 252.4L433.1 251.7L431.8 250.0L430.1 248.3L428.9 246.8L427.9 245.1L428.2 244.1L428.7 242.8L429.1 241.5L429.2 239.4L429.6 238.1L428.9 237.1L427.9 235.9L427.4 235.2L425.7 235.9L424.3 236.2L423.0 236.1L422.1 235.1L421.3 233.2L420.3 232.7L419.1 232.7L417.6 232.7L416.2 233.1L414.9 233.4L412.2 234.4L411.1 234.9L409.8 235.4L408.1 234.9L406.2 234.6L405.2 234.6L403.2 234.9L400.3 236.1L400.0 235.9L397.8 235.2L396.3 233.9L394.7 233.1L393.7 231.9L392.0 231.0L391.0 230.2L390.7 228.3L389.8 227.3L389.2 226.5L388.3 226.2L388.0 225.3L387.5 224.8L386.5 224.0L385.8 224.0L384.8 222.5L384.6 221.1L384.8 220.5L384.1 219.1L383.2 218.6L383.9 218.3L384.8 217.1L385.1 216.3L385.8 215.6L385.8 212.9L385.4 211.2L385.3 210.4L385.4 209.5L385.1 208.7L384.1 208.0L384.6 207.5L384.9 206.0L385.4 205.2L386.0 203.5L387.0 202.3L387.5 202.1L388.0 201.1L388.7 199.1L389.7 198.6L390.9 196.9L391.7 196.3L393.2 196.1L394.6 194.9L395.4 194.4L396.8 193.1L396.4 190.9L397.1 189.5L397.3 188.5L398.3 187.5L400.0 186.7L401.3 186.0L402.5 184.3L403.0 183.2ZM-140.9 190.7L-138.4 191.1L-137.6 190.9L-137.1 190.2L-136.4 188.2L-135.5 186.3L-134.9 185.2L-134.9 183.8L-135.0 182.3L-134.4 181.6L-135.4 181.8L-136.9 181.5L-138.1 182.5L-140.6 182.7L-142.0 181.8L-143.8 181.6L-144.2 182.3L-145.3 182.7L-147.0 181.6L-148.9 181.6L-149.4 180.5L-151.1 179.1L-150.2 177.8L-151.3 176.9L-151.3 175.9L-150.6 175.6L-149.4 175.4L-146.9 175.3L-146.2 174.1L-143.0 174.3L-140.9 173.2L-138.9 172.7L-136.0 172.7L-133.2 173.9L-130.8 174.6L-128.8 174.3L-127.3 174.4L-125.2 173.6L-125.1 171.7L-127.9 170.4L-130.1 168.9L-132.2 168.2L-131.0 165.7L-129.4 163.8L-132.3 164.3L-135.4 165.2L-136.5 166.2L-136.0 167.2L-133.8 166.9L-134.9 167.9L-136.5 168.0L-138.7 168.5L-140.6 167.2L-138.7 166.2L-140.6 165.9L-142.0 165.0L-143.6 165.2L-144.8 166.4L-145.5 167.2L-147.0 168.7L-147.2 169.9L-148.4 171.6L-148.2 172.7L-146.7 173.9L-147.5 174.4L-148.9 174.4L-150.9 174.8L-152.6 174.6L-154.3 174.6L-155.5 174.9L-156.7 175.6L-157.3 175.1L-157.0 176.6L-156.2 177.4L-156.7 178.8L-155.0 179.1L-156.7 180.1L-157.0 181.5L-157.5 182.1L-158.9 181.5L-159.5 180.1L-159.9 179.0L-160.6 178.1L-161.4 176.8L-162.2 175.3L-162.8 173.7L-162.6 172.9L-163.4 172.6L-164.3 171.9L-166.0 170.9L-167.8 170.2L-169.0 169.7L-169.8 168.9L-170.4 167.9L-171.4 167.4L-172.4 167.5L-172.6 166.5L-174.2 167.0L-174.8 167.4L-174.6 167.9L-174.8 169.0L-173.4 170.2L-172.4 170.7L-171.7 171.7L-170.0 172.7L-168.5 172.9L-168.5 173.7L-166.5 174.6L-165.1 175.1L-164.3 175.8L-164.8 176.4L-166.1 175.6L-167.0 175.4L-167.7 176.4L-166.5 177.1L-166.6 177.9L-167.5 178.1L-168.3 179.5L-169.2 179.1L-168.7 178.1L-168.3 176.8L-169.5 176.1L-170.4 175.6L-170.9 174.9L-171.7 174.8L-172.6 174.1L-173.7 173.9L-175.1 173.2L-176.6 172.1L-177.8 171.2L-178.3 169.5L-179.1 169.2L-180.5 168.7L-181.3 169.0L-182.2 169.7L-183.0 169.9L-184.6 170.9L-185.9 170.7L-187.8 170.4L-189.3 170.4L-190.3 170.9L-190.5 171.9L-190.1 172.9L-192.0 174.1L-194.2 174.4L-194.2 174.9L-195.4 175.9L-196.1 177.3L-195.4 178.3L-196.4 179.0L-196.7 180.1L-197.9 180.5L-199.1 181.6L-201.3 181.6L-203.0 181.6L-204.0 182.3L-204.7 183.0L-205.5 182.3L-206.0 182.1L-206.5 181.3L-208.2 181.0L-208.9 181.5L-209.7 181.0L-210.6 181.3L-210.3 180.0L-210.4 179.0L-211.3 178.8L-211.6 178.3L-211.4 177.1L-210.8 176.4L-210.4 174.8L-210.4 174.1L-210.6 172.9L-210.6 172.2L-211.3 171.2L-210.9 170.7L-209.1 169.9L-207.0 170.1L-204.7 170.1L-202.8 170.4L-201.5 170.2L-198.8 170.4L-197.9 169.4L-197.6 167.7L-197.6 165.7L-198.6 165.2L-199.3 164.2L-200.4 163.3L-203.2 162.8L-203.3 161.5L-201.1 161.1L-200.1 161.8L-198.2 161.7L-198.2 160.6L-198.8 159.6L-197.2 160.5L-195.4 160.3L-193.3 159.1L-192.8 157.8L-191.3 157.5L-190.0 157.1L-189.1 156.6L-188.3 156.1L-187.6 154.8L-187.3 153.9L-185.6 153.6L-183.5 153.1L-181.9 153.4L-180.7 152.6L-181.0 151.9L-181.2 150.6L-181.9 150.1L-181.9 148.4L-181.5 147.9L-181.2 147.4L-179.7 147.2L-178.6 146.5L-177.6 146.4L-177.8 147.2L-178.3 147.7L-178.0 148.9L-177.1 148.4L-177.5 149.1L-177.6 150.7L-178.8 150.9L-178.8 151.7L-177.1 151.9L-176.9 152.6L-175.4 152.2L-174.4 151.7L-172.6 152.4L-171.4 152.7L-168.8 152.2L-167.8 151.7L-165.8 151.2L-164.1 151.4L-163.9 151.9L-162.2 151.9L-160.9 151.1L-159.5 150.6L-159.9 149.6L-159.9 147.9L-159.0 146.9L-157.5 146.2L-156.2 147.5L-154.8 147.5L-154.3 146.0L-154.3 145.2L-156.0 144.9L-156.2 143.8L-154.0 143.3L-151.8 143.2L-149.9 143.3L-148.0 143.3L-146.4 142.5L-144.5 142.7L-148.0 141.7L-151.1 141.8L-154.1 142.3L-156.8 142.8L-157.8 141.8L-159.5 141.3L-159.2 139.6L-159.9 138.1L-159.2 137.1L-157.7 136.1L-153.8 134.3L-152.6 133.9L-152.8 133.3L-153.8 132.9L-158.0 132.9L-159.7 134.1L-159.4 135.1L-162.1 136.5L-165.5 138.0L-166.6 140.3L-165.5 141.5L-163.8 142.3L-165.3 144.3L-167.1 144.7L-167.8 147.5L-168.7 149.1L-170.7 148.9L-171.7 150.2L-173.7 150.2L-174.2 148.7L-175.6 146.9L-176.9 144.3L-178.0 143.3L-181.3 145.4L-183.7 145.7L-185.9 144.9L-186.6 143.0L-187.1 140.8L-185.6 138.1L-181.0 136.6L-177.8 134.9L-174.6 132.6L-170.5 129.4L-167.8 128.1L-163.1 126.0L-159.4 125.2L-156.7 125.4L-154.1 124.0L-150.9 124.0L-147.9 123.9L-142.6 124.9L-144.8 125.4L-143.0 126.4L-141.3 125.9L-138.4 126.9L-133.8 127.2L-127.4 129.2L-126.1 129.9L-126.1 131.1L-127.9 131.9L-130.6 132.4L-138.2 131.1L-139.4 131.4L-136.7 132.6L-136.5 135.1L-134.4 135.6L-133.0 136.1L-132.8 135.3L-133.8 134.4L-132.7 133.9L-128.6 134.9L-127.3 134.4L-128.3 133.3L-124.4 131.6L-121.3 132.3L-120.3 131.1L-121.7 130.1L-120.8 129.1L-122.0 128.1L-117.3 128.6L-116.4 129.6L-118.5 129.7L-118.5 130.7L-114.6 130.9L-114.2 129.9L-110.7 129.1L-104.8 127.5L-103.4 127.7L-105.1 128.7L-103.1 128.9L-101.9 128.4L-98.7 128.2L-96.1 127.5L-94.3 128.6L-92.3 127.5L-94.1 126.5L-93.1 125.9L-88.2 126.5L-85.8 127.0L-79.8 128.9L-78.6 128.1L-80.3 127.2L-80.4 126.7L-82.5 126.5L-81.8 125.7L-82.8 124.5L-82.8 124.0L-79.8 122.5L-78.6 121.0L-77.4 120.7L-72.8 121.0L-72.5 122.0L-74.2 123.3L-73.0 123.9L-72.5 125.0L-72.8 127.4L-71.0 128.4L-71.8 129.6L-75.0 131.9L-73.2 132.1L-72.5 131.6L-70.6 131.1L-70.1 130.2L-68.6 129.4L-69.6 128.6L-68.9 127.4L-70.8 127.2L-71.1 126.4L-69.8 124.7L-72.0 123.3L-68.9 122.2L-69.3 121.0L-68.4 120.8L-67.6 121.8L-68.3 123.5L-66.4 123.7L-67.2 122.5L-64.4 121.8L-60.8 121.8L-57.8 122.7L-59.3 121.3L-59.5 119.7L-56.4 119.1L-52.4 119.3L-48.8 119.1L-50.2 118.1L-48.1 117.1L-46.3 117.1L-42.9 116.3L-38.5 116.0L-38.0 115.6L-33.4 115.5L-32.1 115.8L-28.4 114.9L-25.2 114.9L-24.8 114.1L-23.1 113.4L-19.1 112.8L-16.2 113.3L-18.6 113.8L-16.2 113.9L-14.3 114.8L-12.6 114.4L-7.7 114.4L-4.0 115.3L-2.7 116.0L-3.0 116.8L-4.9 117.3L-9.3 118.1L-10.6 118.6L-8.6 119.0L-6.1 119.3L-4.5 119.0L-3.7 120.2L-2.8 119.7L-0.1 119.3L5.3 119.7L5.6 120.5L12.7 120.7L12.9 119.5L16.4 119.7L19.1 119.7L21.8 120.5L22.7 121.7L21.7 122.5L23.7 123.7L26.4 124.4L28.1 122.7L30.8 123.3L33.7 122.8L36.9 123.5L38.1 123.0L40.9 123.2L39.6 121.7L42.0 121.0L57.2 122.0L58.7 123.0L62.9 124.4L69.8 124.0L73.2 124.2L74.6 124.9L74.4 126.2L76.4 126.7L78.8 126.4L81.9 126.2L84.9 126.5L88.1 126.4L91.1 127.9L93.2 127.4L91.8 126.2L92.7 125.5L97.9 126.0L101.5 125.9L106.4 126.7L108.7 127.4L108.7 134.1L106.5 134.9L104.3 134.8L105.9 135.6L106.9 137.0L107.7 137.5L107.4 138.6L104.3 138.3L99.6 139.5L98.1 139.6L95.5 140.8L93.0 142.0L92.3 142.7L90.0 141.5L85.6 142.8L84.7 142.2L83.2 143.0L80.8 142.7L80.3 143.8L78.3 145.5L78.3 146.2L80.3 146.5L80.2 148.9L78.5 149.1L77.8 150.4L78.5 151.1L75.6 152.1L74.9 153.9L72.4 154.3L71.9 156.1L69.5 157.6L68.8 156.4L68.1 153.9L67.1 150.2L68.0 147.9L69.5 146.9L69.5 146.2L72.2 145.7L75.3 143.7L78.1 142.0L81.2 140.7L82.5 138.1L80.5 138.3L79.5 139.8L75.1 141.7L73.7 139.5L69.3 140.1L65.1 142.8L66.5 144.0L62.7 144.3L60.2 144.5L60.2 143.3L57.7 143.0L55.5 143.8L50.4 143.7L44.8 144.2L39.4 147.4L32.8 151.4L35.5 151.6L36.4 152.6L38.1 152.9L39.1 152.1L40.9 152.2L43.3 154.1L43.5 155.6L42.1 157.3L42.0 159.3L41.3 162.0L38.7 164.3L38.1 165.5L35.9 167.5L33.5 169.4L32.5 170.4L30.1 171.4L29.1 171.4L28.1 170.6L25.7 171.7L25.6 172.4L24.9 172.2L23.7 173.4L23.7 174.4L22.9 174.9L21.8 175.8L20.8 176.1L20.0 176.4L20.0 177.3L21.3 178.5L22.9 180.5L23.4 181.5L23.4 183.5L22.7 184.3L21.2 184.7L19.8 185.3L18.3 185.5L18.1 184.7L18.5 183.3L17.6 181.6L19.0 181.3L17.8 180.0L16.9 179.6L16.8 178.8L16.1 178.3L15.9 176.8L14.6 176.3L13.2 176.6L12.2 176.8L10.9 177.4L9.7 177.1L9.8 177.9L9.0 177.9L10.0 176.3L11.0 175.4L10.0 174.6L8.7 175.1L6.6 176.3L5.6 177.3L3.9 177.4L3.1 178.3L4.1 179.3L5.4 179.6L5.4 180.5L6.8 180.8L8.7 179.6L10.2 180.3L11.5 180.5L11.5 181.3L9.2 181.6L8.3 182.7L6.8 183.5L6.0 184.7L7.6 185.5L8.3 187.2L9.3 188.7L10.5 190.0L10.5 191.4L9.5 191.7L9.8 192.7L10.9 193.2L10.2 195.9L9.2 196.1L8.0 197.8L6.6 200.1L5.6 201.3L5.1 202.1L2.7 203.7L0.4 205.0L-1.5 205.2L-2.5 206.0L-3.2 205.5L-4.2 206.2L-6.6 207.0L-8.2 207.3L-8.9 209.2L-9.8 209.2L-10.3 208.0L-9.8 207.3L-12.1 206.8L-13.0 207.0L-15.2 208.5L-16.5 210.0L-16.9 211.2L-15.7 213.1L-14.0 215.2L-12.5 216.3L-11.5 217.6L-10.8 220.8L-11.0 223.6L-12.3 224.8L-14.3 225.8L-15.7 227.3L-17.7 228.9L-18.4 227.8L-17.9 226.7L-19.2 225.7L-20.6 225.5L-21.3 224.5L-22.1 222.8L-23.6 222.1L-25.2 222.1L-24.8 220.8L-26.3 220.8L-26.5 222.6L-27.9 224.9L-27.9 227.8L-26.7 227.8L-26.0 229.4L-25.7 230.9L-24.8 231.7L-23.8 232.0L-23.0 232.9L-22.4 233.2L-21.4 234.1L-20.8 235.1L-20.8 236.2L-20.9 237.1L-20.8 237.6L-20.6 238.6L-19.9 239.1L-19.4 240.6L-19.4 241.1L-20.6 241.3L-22.1 240.0L-24.1 238.6L-24.3 237.8L-25.3 236.7L-25.5 235.2L-26.2 234.4L-26.0 233.2L-26.3 232.4L-27.0 231.9L-27.3 231.0L-28.2 230.0L-29.0 229.2L-29.4 230.2L-29.5 229.2L-29.4 228.2L-28.9 226.7L-29.0 225.3L-28.5 224.1L-29.2 223.1L-29.0 221.3L-29.7 220.5L-30.2 218.4L-30.6 216.3L-31.2 214.9L-32.4 215.7L-34.3 216.9L-35.3 216.8L-36.3 216.4L-35.8 214.2L-36.1 212.7L-37.5 210.7L-37.2 210.2L-38.2 209.9L-39.4 208.5L-39.9 207.7L-40.0 206.8L-40.4 206.0L-41.0 205.0L-42.6 205.0L-42.4 205.7L-42.9 206.7L-43.7 206.3L-43.9 206.5L-44.4 206.4L-45.1 206.2L-45.3 206.8L-46.5 206.8L-48.5 207.2L-48.5 208.5L-49.3 209.4L-51.7 210.5L-53.6 212.6L-54.9 213.6L-56.6 214.7L-56.6 215.4L-57.4 215.9L-59.0 216.5L-59.8 216.6L-60.3 217.9L-60.0 220.1L-59.8 221.5L-60.5 223.0L-60.5 225.8L-61.5 226.0L-62.2 227.3L-61.7 227.8L-63.2 228.3L-63.9 229.4L-64.5 229.9L-66.1 228.3L-66.9 226.0L-67.6 224.3L-68.1 223.5L-68.9 222.0L-69.4 219.8L-69.8 218.8L-71.3 216.4L-72.0 213.2L-72.5 211.0L-72.5 209.0L-72.8 207.3L-75.2 208.4L-76.4 208.2L-78.6 206.2L-77.9 205.5L-78.4 205.0L-80.3 203.5L-81.6 203.1L-82.1 201.8L-83.3 200.6L-86.5 201.0L-89.2 201.0L-91.6 201.1L-94.8 200.6L-96.7 200.3L-98.5 200.1L-99.2 198.0L-100.0 197.8L-101.4 198.0L-103.1 198.8L-105.1 198.3L-106.8 196.9L-108.5 196.4L-109.5 194.9L-110.9 192.7L-111.7 192.9L-112.9 192.4L-113.4 193.1L-114.5 192.9L-114.1 193.7L-114.2 194.1L-113.7 195.3L-113.1 196.8L-112.2 197.1L-111.9 197.8L-110.7 198.4L-110.9 199.8L-110.2 200.8L-109.8 201.3L-109.7 201.6L-109.2 199.5L-108.3 200.0L-108.3 201.0L-108.7 202.0L-108.3 202.6L-107.6 203.0L-105.3 202.6L-104.3 202.8L-103.1 201.6L-101.9 200.6L-100.7 199.5L-100.2 198.9L-100.0 199.1L-100.2 199.8L-100.4 200.1L-100.2 201.5L-99.5 202.6L-98.5 203.1L-97.3 203.5L-96.3 203.7L-95.0 205.2L-94.5 205.5L-94.5 205.8L-95.3 207.3L-96.0 207.9L-96.7 209.0L-97.5 208.9L-97.8 209.4L-98.0 210.2L-97.8 211.2L-98.0 211.5L-98.9 211.5L-99.9 212.1L-100.0 212.9L-100.4 213.2L-101.4 213.2L-102.1 213.7L-102.1 214.4L-102.9 214.8L-103.9 214.7L-104.9 215.2L-105.8 215.2L-107.0 215.7L-107.3 216.6L-107.3 217.1L-109.0 217.8L-111.7 218.6L-113.2 219.8L-114.1 219.9L-114.6 219.8L-115.4 220.5L-116.6 220.8L-118.0 221.0L-118.5 221.0L-118.8 221.5L-119.3 221.5L-119.5 222.0L-120.3 222.0L-120.8 222.1L-122.0 222.1L-122.5 221.1L-122.3 220.1L-122.7 219.6L-123.0 218.4L-123.5 217.8L-123.2 217.6L-123.4 216.9L-123.2 216.6L-123.2 215.9L-123.5 215.1L-124.0 214.6L-124.0 213.9L-124.9 213.4L-125.9 211.9L-126.4 210.5L-127.6 209.4L-128.3 209.2L-129.4 207.5L-129.6 206.3L-129.8 205.0L-130.5 203.5L-131.3 202.8L-132.2 202.5L-132.7 201.5L-132.7 201.1L-133.2 200.3L-133.7 200.0L-134.4 198.6L-135.4 197.3L-136.2 196.1L-137.1 196.1L-136.7 195.3L-136.7 194.4L-136.5 193.7L-137.1 194.4L-137.4 195.8L-137.7 196.6L-138.2 196.9L-138.7 196.3L-139.6 195.6L-140.8 193.1L-140.9 190.7ZM467.6 190.7L470.1 191.1L471.0 190.9L471.5 190.2L472.2 188.2L473.0 186.3L473.7 185.2L473.7 183.8L473.5 182.3L474.2 181.6L473.2 181.8L471.7 181.5L470.5 182.5L467.9 182.7L466.6 181.8L464.7 181.6L464.4 182.3L463.2 182.7L461.5 181.6L459.7 181.6L459.1 180.5L457.5 179.1L458.3 177.8L457.3 176.9L457.3 175.9L458.0 175.6L459.1 175.4L461.7 175.3L462.4 174.1L465.6 174.3L467.6 173.2L469.6 172.7L472.5 172.7L475.4 173.9L477.7 174.6L479.8 174.3L481.3 174.4L483.3 173.6L483.5 171.7L480.6 170.4L478.4 168.9L476.4 168.2L477.6 165.7L479.1 163.8L476.2 164.3L473.2 165.2L472.0 166.2L472.5 167.2L474.7 166.9L473.7 167.9L472.0 168.0L469.8 168.5L467.9 167.2L469.8 166.2L467.9 165.9L466.6 165.0L464.9 165.2L463.7 166.4L463.0 167.2L461.5 168.7L461.3 169.9L460.2 171.6L460.3 172.7L461.9 173.9L461.0 174.4L459.7 174.4L457.6 174.8L455.9 174.6L454.2 174.6L453.1 174.9L451.9 175.6L451.2 175.1L451.5 176.6L452.4 177.4L451.9 178.8L453.6 179.1L451.9 180.1L451.5 181.5L451.0 182.1L449.7 181.5L449.0 180.1L448.7 179.0L448.0 178.1L447.1 176.8L446.3 175.3L445.8 173.7L446.0 172.9L445.1 172.6L444.3 171.9L442.6 170.9L440.7 170.2L439.5 169.7L438.7 168.9L438.2 167.9L437.2 167.4L436.2 167.5L436.0 166.5L434.3 167.0L433.8 167.4L434.0 167.9L433.8 169.0L435.1 170.2L436.2 170.7L436.8 171.7L438.5 172.7L440.0 172.9L440.0 173.7L442.1 174.6L443.4 175.1L444.3 175.8L443.8 176.4L442.4 175.6L441.6 175.4L440.9 176.4L442.1 177.1L441.9 177.9L441.1 178.1L440.2 179.5L439.4 179.1L439.9 178.1L440.2 176.8L439.0 176.1L438.2 175.6L437.7 174.9L436.8 174.8L436.0 174.1L434.8 173.9L433.5 173.2L431.9 172.1L430.7 171.2L430.2 169.5L429.4 169.2L428.0 168.7L427.2 169.0L426.4 169.7L425.5 169.9L424.0 170.9L422.6 170.7L420.8 170.4L419.3 170.4L418.2 170.9L418.1 171.9L418.4 172.9L416.5 174.1L414.4 174.4L414.4 174.9L413.2 175.9L412.5 177.3L413.2 178.3L412.2 179.0L411.8 180.1L410.6 180.5L409.5 181.6L407.3 181.6L405.6 181.6L404.5 182.3L403.9 183.0L403.0 182.3L402.5 182.1L402.0 181.3L400.3 181.0L399.6 181.5L398.8 181.0L398.0 181.3L398.3 180.0L398.1 179.0L397.3 178.8L396.9 178.3L397.1 177.1L397.8 176.4L398.1 174.8L398.1 174.1L398.0 172.9L398.0 172.2L397.3 171.2L397.6 170.7L399.5 169.9L401.5 170.1L403.9 170.1L405.7 170.4L407.1 170.2L409.8 170.4L410.6 169.4L411.0 167.7L411.0 165.7L410.0 165.2L409.3 164.2L408.1 163.3L405.4 162.8L405.2 161.5L407.4 161.1L408.4 161.8L410.3 161.7L410.3 160.6L409.8 159.6L411.3 160.5L413.2 160.3L415.2 159.1L415.7 157.8L417.2 157.5L418.6 157.1L419.4 156.6L420.3 156.1L420.9 154.8L421.3 153.9L423.0 153.6L425.0 153.1L426.7 153.4L427.9 152.6L427.5 151.9L427.4 150.6L426.7 150.1L426.7 148.4L427.0 147.9L427.4 147.4L428.9 147.2L429.9 146.5L430.9 146.4L430.7 147.2L430.2 147.7L430.6 148.9L431.4 148.4L431.1 149.1L430.9 150.7L429.7 150.9L429.7 151.7L431.4 151.9L431.6 152.6L433.1 152.2L434.1 151.7L436.0 152.4L437.2 152.7L439.7 152.2L440.7 151.7L442.8 151.2L444.4 151.4L444.6 151.9L446.3 151.9L447.7 151.1L449.0 150.6L448.7 149.6L448.7 147.9L449.5 146.9L451.0 146.2L452.4 147.5L453.7 147.5L454.2 146.0L454.2 145.2L452.6 144.9L452.4 143.8L454.6 143.3L456.8 143.2L458.6 143.3L460.5 143.3L462.2 142.5L464.1 142.7L460.5 141.7L457.5 141.8L454.4 142.3L451.7 142.8L450.7 141.8L449.0 141.3L449.3 139.6L448.7 138.1L449.3 137.1L450.9 136.1L454.8 134.3L455.9 133.9L455.8 133.3L454.8 132.9L450.5 132.9L448.8 134.1L449.2 135.1L446.5 136.5L443.1 138.0L441.9 140.3L443.1 141.5L444.8 142.3L443.3 144.3L441.4 144.7L440.7 147.5L439.9 149.1L437.8 148.9L436.8 150.2L434.8 150.2L434.3 148.7L432.9 146.9L431.6 144.3L430.6 143.3L427.2 145.4L424.8 145.7L422.6 144.9L422.0 143.0L421.5 140.8L423.0 138.1L427.5 136.6L430.7 134.9L434.0 132.6L438.0 129.4L440.7 128.1L445.5 126.0L449.2 125.2L451.9 125.4L454.4 124.0L457.6 124.0L460.7 123.9L465.9 124.9L463.7 125.4L465.6 126.4L467.3 125.9L470.1 126.9L474.7 127.2L481.1 129.2L482.5 129.9L482.5 131.1L480.6 131.9L477.9 132.4L470.3 131.1L469.1 131.4L471.8 132.6L472.0 135.1L474.2 135.6L475.5 136.1L475.7 135.3L474.7 134.4L475.9 133.9L479.9 134.9L481.3 134.4L480.3 133.3L484.2 131.6L487.2 132.3L488.2 131.1L486.9 130.1L487.7 129.1L486.5 128.1L491.3 128.6L492.1 129.6L490.1 129.7L490.1 130.7L494.0 130.9L494.3 129.9L497.9 129.1L503.8 127.5L505.1 127.7L503.4 128.7L505.5 128.9L506.6 128.4L509.9 128.2L512.4 127.5L514.3 128.6L516.3 127.5L514.4 126.5L515.4 125.9L520.3 126.5L522.7 127.0L528.8 128.9L530.0 128.1L528.3 127.2L528.1 126.7L526.1 126.5L526.8 125.7L525.7 124.5L525.7 124.0L528.8 122.5L530.0 121.0L531.2 120.7L535.7 121.0L536.1 122.0L534.4 123.3L535.6 123.9L536.1 125.0L535.7 127.4L537.6 128.4L536.7 129.6L533.5 131.9L535.4 132.1L536.1 131.6L537.9 131.1L538.4 130.2L539.9 129.4L538.9 128.6L539.6 127.4L537.8 127.2L537.4 126.4L538.8 124.7L536.6 123.3L539.6 122.2L539.3 121.0L540.1 120.8L541.0 121.8L540.3 123.5L542.1 123.7L541.3 122.5L544.2 121.8L547.7 121.8L550.8 122.7L549.2 121.3L549.1 119.7L552.1 119.1L556.2 119.3L559.7 119.1L558.4 118.1L560.4 117.1L562.3 117.1L565.6 116.3L570.0 116.0L570.5 115.6L575.1 115.5L576.5 115.8L580.2 114.9L583.4 114.9L583.7 114.1L585.4 113.4L589.5 112.8L592.4 113.3L590.0 113.8L592.4 113.9L594.2 114.8L595.9 114.4L600.8 114.4L604.5 115.3L605.9 116.0L605.5 116.8L603.7 117.3L599.3 118.1L597.9 118.6L600.0 119.0L602.5 119.3L604.0 119.0L604.9 120.2L605.7 119.7L608.4 119.3L613.8 119.7L614.2 120.5L621.3 120.7L621.4 119.5L625.0 119.7L627.7 119.7L630.4 120.5L631.2 121.7L630.2 122.5L632.2 123.7L634.9 124.4L636.6 122.7L639.3 123.3L642.2 122.8L645.4 123.5L646.6 123.0L649.5 123.2L648.1 121.7L650.5 121.0L665.7 122.0L667.2 123.0L671.5 124.4L678.4 124.0L681.8 124.2L683.1 124.9L683.0 126.2L685.0 126.7L687.4 126.4L690.4 126.2L693.4 126.5L696.6 126.4L699.7 127.9L701.7 127.4L700.4 126.2L701.2 125.5L706.5 126.0L710.0 125.9L714.9 126.7L717.3 127.4L717.3 134.1L715.1 134.9L712.9 134.8L714.4 135.6L715.4 137.0L716.3 137.5L715.9 138.6L712.9 138.3L708.1 139.5L706.6 139.6L704.1 140.8L701.6 142.0L700.9 142.7L698.5 141.5L694.1 142.8L693.3 142.2L691.7 143.0L689.4 142.7L688.9 143.8L686.8 145.5L686.8 146.2L688.9 146.5L688.7 148.9L687.0 149.1L686.3 150.4L687.0 151.1L684.1 152.1L683.5 153.9L680.9 154.3L680.4 156.1L678.1 157.6L677.4 156.4L676.7 153.9L675.7 150.2L676.5 147.9L678.1 146.9L678.1 146.2L680.8 145.7L683.8 143.7L686.7 142.0L689.7 140.7L691.1 138.1L689.0 138.3L688.0 139.8L683.6 141.7L682.3 139.5L677.9 140.1L673.7 142.8L675.0 144.0L671.3 144.3L668.8 144.5L668.8 143.3L666.2 143.0L664.0 143.8L659.0 143.7L653.4 144.2L647.9 147.4L641.4 151.4L644.1 151.6L644.9 152.6L646.6 152.9L647.6 152.1L649.5 152.2L651.9 154.1L652.0 155.6L650.7 157.3L650.5 159.3L649.8 162.0L647.3 164.3L646.6 165.5L644.4 167.5L642.0 169.4L641.0 170.4L638.7 171.4L637.7 171.4L636.6 170.6L634.3 171.7L634.1 172.4L633.4 172.2L632.2 173.4L632.2 174.4L631.4 174.9L630.4 175.8L629.3 176.1L628.5 176.4L628.5 177.3L629.9 178.5L631.4 180.5L631.9 181.5L631.9 183.5L631.2 184.3L629.7 184.7L628.4 185.3L626.8 185.5L626.7 184.7L627.0 183.3L626.2 181.6L627.5 181.3L626.3 180.0L625.5 179.6L625.3 178.8L624.6 178.3L624.5 176.8L623.1 176.3L621.8 176.6L620.8 176.8L619.4 177.4L618.2 177.1L618.4 177.9L617.5 177.9L618.6 176.3L619.6 175.4L618.6 174.6L617.2 175.1L615.2 176.3L614.2 177.3L612.5 177.4L611.6 178.3L612.6 179.3L614.0 179.6L614.0 180.5L615.3 180.8L617.2 179.6L618.7 180.3L620.1 180.5L620.1 181.3L617.7 181.6L616.9 182.7L615.3 183.5L614.5 184.7L616.2 185.5L616.9 187.2L617.9 188.7L619.1 190.0L619.1 191.4L618.0 191.7L618.4 192.7L619.4 193.2L618.7 195.9L617.7 196.1L616.5 197.8L615.2 200.1L614.2 201.3L613.7 202.1L611.3 203.7L608.9 205.0L607.1 205.2L606.0 206.0L605.4 205.5L604.4 206.2L602.0 207.0L600.3 207.3L599.6 209.2L598.8 209.2L598.3 208.0L598.8 207.3L596.4 206.8L595.6 207.0L593.4 208.5L592.0 210.0L591.7 211.2L592.9 213.1L594.5 215.2L596.1 216.3L597.1 217.6L597.8 220.8L597.6 223.6L596.2 224.8L594.2 225.8L592.9 227.3L590.8 228.9L590.2 227.8L590.7 226.7L589.3 225.7L588.0 225.5L587.3 224.5L586.4 222.8L584.9 222.1L583.4 222.1L583.7 220.8L582.2 220.8L582.0 222.6L580.7 224.9L580.7 227.8L581.9 227.8L582.5 229.4L582.9 230.9L583.7 231.7L584.7 232.0L585.6 232.9L586.1 233.2L587.1 234.1L587.8 235.1L587.8 236.2L587.6 237.1L587.8 237.6L588.0 238.6L588.6 239.1L589.1 240.6L589.1 241.1L588.0 241.3L586.4 240.0L584.4 238.6L584.2 237.8L583.2 236.7L583.1 235.2L582.4 234.4L582.5 233.2L582.2 232.4L581.5 231.9L581.2 231.0L580.3 230.0L579.5 229.2L579.2 230.2L579.0 229.2L579.2 228.2L579.7 226.7L579.5 225.3L580.0 224.1L579.3 223.1L579.5 221.3L578.8 220.5L578.3 218.4L578.0 216.3L577.3 214.9L576.1 215.7L574.3 216.9L573.2 216.8L572.2 216.4L572.7 214.2L572.4 212.7L571.1 210.7L571.4 210.2L570.4 209.9L569.2 208.5L568.7 207.7L568.5 206.8L568.2 206.0L567.5 205.0L566.0 205.0L566.2 205.7L565.6 206.7L564.8 206.3L564.6 206.5L564.1 206.4L563.4 206.2L563.3 206.8L562.1 206.8L560.0 207.2L560.1 208.5L559.2 209.4L556.9 210.5L555.0 212.6L553.6 213.6L552.0 214.7L552.0 215.4L551.1 215.9L549.6 216.5L548.7 216.6L548.2 217.9L548.6 220.1L548.7 221.5L548.1 223.0L548.1 225.8L547.0 226.0L546.4 227.3L546.9 227.8L545.4 228.3L544.7 229.4L544.0 229.9L542.5 228.3L541.6 226.0L541.0 224.3L540.5 223.5L539.6 222.0L539.1 219.8L538.8 218.8L537.2 216.4L536.6 213.2L536.1 211.0L536.1 209.0L535.7 207.3L533.4 208.4L532.2 208.2L530.0 206.2L530.7 205.5L530.1 205.0L528.3 203.5L526.9 203.1L526.4 201.8L525.2 200.6L522.0 201.0L519.3 201.0L517.0 201.1L513.7 200.6L511.9 200.3L510.0 200.1L509.3 198.0L508.5 197.8L507.2 198.0L505.5 198.8L503.4 198.3L501.7 196.9L500.1 196.4L499.0 194.9L497.7 192.7L496.8 192.9L495.7 192.4L495.2 193.1L494.1 192.9L494.5 193.7L494.3 194.1L494.8 195.3L495.5 196.8L496.3 197.1L496.7 197.8L497.9 198.4L497.7 199.8L498.4 200.8L498.7 201.3L498.9 201.6L499.4 199.5L500.2 200.0L500.2 201.0L499.9 202.0L500.2 202.6L500.9 203.0L503.3 202.6L504.3 202.8L505.5 201.6L506.6 200.6L507.8 199.5L508.3 198.9L508.5 199.1L508.3 199.8L508.2 200.1L508.3 201.5L509.0 202.6L510.0 203.1L511.2 203.5L512.2 203.7L513.6 205.2L514.1 205.5L514.1 205.8L513.2 207.3L512.6 207.9L511.9 209.0L511.0 208.9L510.7 209.4L510.5 210.2L510.7 211.2L510.5 211.5L509.7 211.5L508.7 212.1L508.5 212.9L508.2 213.2L507.2 213.2L506.5 213.7L506.5 214.4L505.6 214.8L504.6 214.7L503.6 215.2L502.8 215.2L501.6 215.7L501.2 216.6L501.2 217.1L499.5 217.8L496.8 218.6L495.3 219.8L494.5 219.9L494.0 219.8L493.1 220.5L491.9 220.8L490.6 221.0L490.1 221.0L489.7 221.5L489.2 221.5L489.1 222.0L488.2 222.0L487.7 222.1L486.5 222.1L486.0 221.1L486.2 220.1L485.9 219.6L485.5 218.4L485.0 217.8L485.3 217.6L485.2 216.9L485.3 216.6L485.3 215.9L485.0 215.1L484.5 214.6L484.5 213.9L483.7 213.4L482.6 211.9L482.1 210.5L481.0 209.4L480.3 209.2L479.1 207.5L478.9 206.3L478.8 205.0L478.1 203.5L477.2 202.8L476.4 202.5L475.9 201.5L475.9 201.1L475.4 200.3L474.9 200.0L474.2 198.6L473.2 197.3L472.3 196.1L471.5 196.1L471.8 195.3L471.8 194.4L472.0 193.7L471.5 194.4L471.1 195.8L470.8 196.6L470.3 196.9L469.8 196.3L469.0 195.6L467.8 193.1L467.6 190.7ZM604.7 280.3L605.4 282.1L605.2 284.3L606.0 287.5L604.5 287.1L605.2 288.0L605.9 289.7L606.7 291.2L607.4 292.9L607.6 294.7L608.6 296.4L608.7 298.1L608.4 299.6L607.4 299.7L607.4 300.8L608.4 301.1L610.1 302.1L612.1 302.3L613.7 301.6L615.2 300.8L616.4 300.3L618.0 300.1L620.2 300.3L621.8 300.1L622.9 298.7L624.5 298.2L626.2 297.4L627.8 297.6L629.5 296.9L631.9 296.4L633.8 296.4L634.9 296.2L636.6 297.1L638.7 297.9L640.0 298.1L640.5 299.1L641.5 300.9L642.4 301.9L643.2 300.9L644.4 299.7L645.4 298.9L646.1 298.1L645.9 299.6L645.4 300.6L645.4 301.9L646.4 301.4L647.0 301.3L647.3 302.3L647.1 303.1L648.1 303.3L649.0 303.9L649.5 305.1L649.5 306.1L650.7 307.1L652.4 307.6L654.2 308.0L655.6 308.5L657.3 307.3L657.9 307.8L659.0 308.1L660.3 308.8L661.3 308.1L662.7 307.1L663.7 306.8L665.5 306.8L666.4 305.6L666.7 304.5L667.1 303.3L667.9 302.1L668.4 300.9L669.3 299.4L669.9 298.6L670.8 298.1L671.5 296.4L671.8 294.4L671.8 292.9L672.6 291.3L672.5 290.2L671.8 288.7L672.0 287.1L671.8 286.1L671.5 285.8L670.6 285.0L669.3 283.8L668.1 282.9L667.7 280.9L666.9 280.9L665.7 279.4L664.5 277.9L663.3 277.1L661.5 276.1L660.5 275.2L660.1 273.9L659.6 272.5L659.1 271.2L658.8 270.0L658.8 268.5L658.6 268.3L657.4 267.2L656.4 267.2L655.7 265.8L655.7 264.5L655.1 264.1L654.9 263.3L654.4 262.1L653.9 261.3L653.7 262.1L653.2 263.3L652.5 264.1L652.2 266.3L652.5 267.8L652.4 269.0L652.0 270.2L651.5 271.4L650.7 272.5L649.8 273.0L648.5 272.5L647.3 271.5L646.3 270.9L644.8 270.0L643.4 269.5L641.9 268.5L642.0 267.7L642.9 266.3L643.7 265.8L644.4 264.1L643.7 263.3L642.6 263.8L641.9 263.5L640.7 263.3L639.5 263.1L637.1 262.6L637.1 263.6L636.0 262.3L634.8 263.8L633.8 264.1L633.1 265.3L633.3 266.3L632.4 267.5L631.7 267.5L632.2 268.7L630.0 268.3L628.9 267.3L627.8 266.5L626.3 267.2L625.5 267.7L624.6 268.0L623.8 269.2L623.3 270.7L621.6 271.2L621.9 272.5L620.6 271.5L619.7 272.5L619.6 273.9L618.6 274.9L617.7 276.1L616.2 276.7L614.5 276.9L612.8 277.6L611.5 278.1L610.3 277.9L608.7 278.7L607.2 279.6L606.7 280.9L605.9 279.9L604.7 280.3ZM289.6 111.4L297.2 108.6L304.8 106.9L311.6 105.5L325.1 104.9L336.9 104.5L348.8 103.0L358.9 102.9L370.7 103.4L379.2 104.5L389.3 105.9L392.7 106.7L384.3 108.7L381.7 111.4L380.0 113.9L381.7 116.5L379.5 118.5L376.7 120.5L375.3 122.0L376.1 124.2L373.3 125.0L369.9 126.7L364.8 128.6L359.2 128.9L355.0 131.4L350.1 132.9L345.6 133.8L344.5 135.3L342.7 137.5L341.0 139.8L339.8 141.7L338.1 142.7L335.9 141.5L332.7 140.8L330.5 139.6L328.6 137.8L327.0 135.9L325.4 133.9L323.1 132.3L322.2 130.2L322.9 128.6L326.1 127.9L326.5 126.5L321.7 126.0L320.9 124.4L322.2 123.5L319.5 122.2L318.7 120.2L315.8 118.0L312.4 116.1L306.5 115.3L301.4 115.6L297.2 115.5L293.8 114.3L290.8 113.1L289.6 111.4ZM277.8 119.5L283.7 121.0L289.6 122.7L293.8 124.4L298.1 125.4L299.7 127.0L303.1 128.7L306.5 130.7L308.5 131.4L305.7 133.8L303.5 136.3L302.8 137.8L300.6 139.1L297.2 138.1L293.8 137.1L291.0 136.1L287.9 134.9L284.5 135.3L281.5 134.4L282.0 133.3L287.4 133.1L288.8 131.6L290.3 130.2L288.8 128.7L286.2 127.9L283.2 126.7L280.3 126.0L276.9 126.2L273.5 126.0L269.3 125.7L265.1 125.2L262.6 124.0L261.7 122.0L265.9 120.5L269.3 120.2L274.4 119.3L277.8 119.5ZM211.8 123.0L214.4 121.2L220.3 120.5L227.1 120.8L233.0 120.3L236.4 121.3L239.7 123.0L241.9 125.0L239.7 126.7L235.0 127.4L229.6 127.5L222.8 127.7L217.8 126.7L214.4 126.5L212.2 125.2L211.8 123.0ZM200.3 121.5L202.0 119.5L205.1 118.3L211.0 118.5L216.1 119.7L214.4 120.7L211.0 122.3L207.6 123.3L204.2 123.9L200.3 121.5ZM260.9 114.6L269.3 114.9L277.8 115.1L280.3 113.6L284.5 111.8L290.4 110.9L289.6 109.7L296.4 108.4L304.8 106.7L308.2 105.7L303.1 105.2L294.7 104.9L286.2 104.9L274.4 105.0L264.2 105.5L259.2 106.9L255.8 108.1L251.6 108.6L250.7 110.1L255.8 111.3L258.3 112.6L260.9 114.6ZM262.6 109.7L265.9 108.1L259.2 106.7L252.4 107.2L248.2 108.6L252.4 110.1L257.5 111.6L262.6 109.7ZM250.7 116.6L256.6 114.6L264.2 114.6L271.0 114.8L276.9 116.1L275.2 118.0L265.9 118.1L257.5 117.8L250.7 116.6ZM215.2 115.8L220.3 114.8L227.1 114.8L233.8 115.8L233.1 117.0L227.1 117.5L222.0 118.1L216.9 117.3L215.2 115.8ZM242.3 116.8L247.3 115.3L244.0 114.4L238.0 115.3L238.9 116.6L242.3 116.8ZM240.6 120.7L244.8 119.1L248.7 119.1L249.9 121.3L248.2 122.7L244.8 123.5L241.4 121.8L240.6 120.7ZM251.6 119.3L255.8 118.8L259.7 119.5L257.1 121.2L253.8 122.2L251.6 121.0L251.6 119.3ZM264.2 134.9L266.8 133.3L268.5 132.6L271.9 133.8L275.2 134.9L276.9 136.1L273.5 136.5L271.0 137.0L268.5 137.3L265.9 136.5L264.2 134.9ZM246.5 127.4L250.7 126.4L249.4 128.6L246.5 127.4ZM312.8 163.3L315.0 163.3L317.5 163.3L319.2 164.5L321.4 163.5L322.4 164.8L323.9 163.5L322.9 162.3L322.4 161.1L323.2 159.8L320.4 160.1L319.0 159.1L319.2 156.6L317.5 156.9L316.1 158.1L314.6 160.0L312.8 161.8L312.8 163.3ZM196.0 158.0L198.0 159.3L200.0 160.5L202.0 161.7L204.6 162.0L203.7 160.8L201.7 159.5L199.7 158.6L197.5 157.8L196.0 158.0ZM269.5 206.5L270.5 205.3L272.4 204.8L274.4 204.3L276.8 204.5L279.0 205.7L281.1 206.0L282.7 207.0L285.2 208.0L287.6 209.2L287.1 209.7L285.2 209.9L282.0 209.9L282.5 208.9L281.0 208.4L279.6 207.0L277.1 206.3L274.9 206.0L274.0 205.5L272.4 206.2L270.5 206.7L269.5 206.5ZM287.2 212.4L289.3 210.2L291.6 209.9L294.2 210.2L295.7 211.0L297.4 212.1L295.5 212.6L293.7 212.7L292.3 213.7L290.6 212.9L288.1 212.9L287.2 212.4ZM280.5 212.4L283.0 212.2L284.2 213.1L283.0 213.2L281.8 213.4L280.5 212.6ZM299.2 212.2L302.1 212.4L301.9 213.1L299.4 213.2ZM371.9 133.1L375.3 131.7L379.2 132.3L382.6 132.1L386.0 131.6L388.5 132.3L390.0 133.9L387.8 135.3L384.4 136.1L381.4 136.8L377.8 136.1L374.6 135.9L375.8 134.8L372.6 134.3L375.1 133.8L371.9 133.1ZM403.4 159.1L405.9 158.6L407.3 158.3L409.6 158.3L411.3 158.0L413.5 158.0L415.4 157.3L414.9 156.3L415.9 154.9L415.5 154.4L413.5 154.3L413.2 153.3L412.3 151.7L411.0 151.6L410.3 150.1L409.5 149.4L407.9 149.2L408.8 148.4L410.0 146.7L409.5 146.4L407.1 146.4L407.8 144.9L405.2 144.9L404.4 145.4L403.5 146.5L403.2 147.9L403.5 148.7L402.9 149.7L403.5 150.4L404.7 150.7L404.4 151.2L405.6 151.4L407.1 151.1L407.3 152.1L408.1 152.7L407.8 153.6L405.2 153.8L405.7 154.4L406.1 155.4L404.2 156.3L405.7 156.4L407.6 156.9L405.9 157.3L404.2 157.8L403.4 159.1ZM402.5 155.6L402.9 154.3L402.5 152.7L403.5 151.7L402.9 150.9L400.7 150.4L399.0 150.7L398.6 151.7L396.1 152.2L396.3 153.6L396.9 154.4L395.6 155.8L396.4 156.6L399.0 156.4L401.2 155.8L402.5 155.6ZM431.3 109.6L434.1 110.9L435.8 111.9L440.0 114.6L442.6 113.9L445.1 112.3L448.5 111.3L444.3 109.7L446.8 108.4L451.9 108.2L458.6 108.9L453.6 110.1L450.2 111.3L448.5 113.1L443.4 113.8L438.4 113.6L433.3 111.4L431.3 109.6ZM501.4 123.3L505.1 120.8L507.7 119.0L510.5 117.0L515.3 115.6L520.3 114.9L525.4 114.1L529.1 113.9L527.1 115.3L522.0 116.3L516.1 118.3L511.0 120.0L508.5 121.8L509.0 123.0L510.4 124.5L506.8 124.7L503.4 124.4L501.4 123.3ZM572.7 109.7L577.8 108.4L582.0 107.2L588.8 109.6L589.3 111.3L583.7 111.9L578.7 110.9L572.7 109.7ZM644.6 116.8L649.7 115.5L654.7 116.3L660.6 116.6L658.1 117.6L651.3 118.0L644.6 116.8ZM108.7 127.4L112.1 128.2L117.2 129.7L122.3 130.7L126.1 132.3L123.9 133.3L121.6 133.4L120.6 135.3L116.3 134.4L112.1 133.6L108.7 134.1ZM717.3 127.4L720.7 128.2L725.7 129.7L730.8 130.7L734.7 132.3L732.5 133.3L730.1 133.4L729.1 135.3L724.9 134.4L720.7 133.6L717.3 134.1ZM653.0 166.0L654.1 164.8L655.6 165.9L655.4 163.8L654.7 161.0L657.4 161.1L656.4 159.6L655.1 156.6L655.1 154.6L655.2 153.3L654.2 151.9L653.4 152.9L652.7 153.8L652.5 155.6L653.0 157.8L653.2 160.8L652.9 163.0L653.2 165.0L653.0 166.0ZM649.7 173.7L651.7 173.1L655.1 172.9L657.4 171.2L659.1 170.6L658.6 168.9L656.9 169.2L654.1 167.2L652.4 167.0L652.0 169.0L652.0 170.6L650.3 170.6L649.7 172.4L649.7 173.7ZM634.3 186.3L635.1 185.5L637.1 183.8L639.5 183.7L642.2 183.5L643.1 182.8L644.1 180.6L645.1 180.5L644.6 181.5L647.1 179.8L648.6 179.0L649.5 177.3L649.7 175.3L649.5 174.6L650.2 174.1L652.0 173.7L652.2 175.3L653.0 176.9L652.2 178.8L651.3 179.5L651.2 181.3L650.8 183.0L650.2 184.3L649.3 184.7L649.3 183.7L648.0 184.5L647.6 185.2L644.9 185.2L644.2 185.7L644.2 187.0L642.6 187.2L641.5 186.5L641.7 185.2L639.3 185.5L636.8 185.7L635.3 186.2L634.3 186.3ZM632.2 187.5L633.4 186.9L634.4 186.2L635.8 186.9L636.1 188.0L635.1 190.5L633.9 191.2L633.1 190.5L633.3 189.4L632.4 188.4L632.2 187.5ZM636.8 187.0L637.5 186.3L639.9 185.8L640.7 186.5L639.9 187.5L637.8 188.4L636.8 187.0ZM616.0 204.5L617.0 202.1L618.4 200.8L619.1 201.5L618.6 203.5L617.2 206.5L616.2 205.2L616.0 204.5ZM596.6 210.9L598.1 209.7L600.0 209.5L600.6 210.4L600.0 211.9L598.3 212.7L596.7 212.2L596.6 210.9ZM616.9 212.2L618.6 212.4L619.7 212.4L619.6 214.7L619.9 215.7L618.6 216.6L618.4 217.9L618.7 219.4L620.4 219.3L622.4 220.1L622.8 222.1L621.4 221.5L620.2 221.1L618.6 220.1L617.0 219.9L616.9 218.9L615.8 218.3L615.7 215.9L616.4 215.2L616.5 213.7L616.9 212.2ZM619.2 231.5L620.8 230.5L621.9 230.2L622.4 229.5L623.1 229.0L624.3 228.2L625.0 226.8L626.3 227.7L626.7 229.5L626.8 231.2L626.3 232.7L625.3 231.5L625.0 233.2L624.6 233.9L622.9 232.9L622.4 231.7L621.9 230.9L620.6 231.0L619.2 231.5ZM619.2 225.8L620.8 223.8L622.6 223.8L623.1 222.1L625.1 222.3L625.5 224.7L624.3 226.5L624.0 225.2L622.6 226.2L621.4 228.0L619.9 227.3L619.2 225.8ZM611.1 229.2L612.8 227.8L614.7 225.8L615.2 224.3L614.3 225.8L612.5 227.7L611.1 229.2ZM597.3 240.8L598.3 239.9L599.6 240.4L601.0 240.1L602.0 238.4L604.0 238.1L605.4 236.7L606.7 235.6L608.2 234.2L609.4 233.1L610.3 231.7L612.0 232.5L613.5 233.6L614.5 234.2L613.1 235.1L613.5 235.7L612.3 236.4L611.3 237.9L612.5 239.4L612.3 240.3L614.2 241.8L612.1 242.0L611.6 243.3L611.6 244.6L610.1 245.8L609.9 247.5L609.3 250.0L607.2 250.2L606.6 249.2L604.5 248.5L602.5 249.2L601.8 248.3L600.6 248.3L599.3 248.2L599.1 246.0L598.3 245.0L597.4 244.1L597.3 242.6L597.3 240.8ZM574.1 234.1L576.0 234.4L577.8 234.6L579.3 236.1L580.5 237.3L583.1 239.8L584.9 239.8L586.4 241.1L587.3 242.3L588.5 243.1L587.8 244.5L588.8 245.1L589.5 246.5L590.3 247.2L591.5 247.3L592.4 248.5L592.0 250.5L591.8 253.2L590.0 253.2L588.6 251.7L586.4 250.4L585.8 249.3L584.4 248.0L583.6 246.8L582.2 244.5L580.9 243.0L580.2 241.6L579.7 240.3L578.2 239.1L577.3 237.8L576.0 236.7L574.3 234.9L574.1 234.1ZM590.8 254.7L592.2 253.2L594.4 253.4L596.4 254.1L596.6 254.7L599.8 254.9L600.3 254.2L603.3 254.9L603.7 256.1L606.6 256.4L606.7 258.1L604.9 257.2L602.3 257.2L600.0 257.1L597.9 256.2L596.1 256.4L593.0 255.7L591.2 254.9L590.8 254.7ZM607.4 257.4L609.1 257.4L610.8 257.1L613.0 257.2L614.2 257.6L616.5 257.2L618.7 257.6L620.9 257.2L620.6 257.9L617.5 258.3L615.0 258.1L612.5 258.3L610.8 258.4L608.2 258.3L607.4 257.4ZM622.6 258.8L624.5 257.7L627.0 257.4L627.7 257.9L624.5 259.1L622.6 260.6L621.8 260.4L622.6 258.8ZM613.8 248.0L614.8 249.2L615.0 252.5L616.5 252.5L616.5 250.0L617.4 247.7L618.6 250.4L618.4 251.0L620.2 252.4L619.7 250.4L620.8 250.7L619.7 249.0L618.0 246.5L620.1 245.0L621.4 245.0L621.4 244.3L618.0 244.8L616.5 243.5L616.0 242.3L617.4 241.1L620.2 241.6L622.6 241.8L624.6 240.9L623.3 242.6L621.3 242.6L618.6 242.5L616.2 243.0L615.5 243.5L615.0 245.5L613.8 248.0ZM629.2 239.6L630.6 240.6L629.5 242.0L630.6 243.5L629.5 244.8L628.9 242.8L628.4 241.5L629.2 239.6ZM629.4 248.7L632.6 248.0L634.4 248.7L633.6 249.5L630.4 249.3L629.4 248.7ZM634.4 245.7L635.8 244.5L637.7 244.1L639.7 244.6L640.2 247.5L642.0 249.0L643.4 247.2L645.3 246.0L646.8 246.2L648.3 246.8L650.8 247.5L654.2 248.8L657.4 249.9L659.5 251.7L660.6 253.2L662.5 253.5L663.0 254.4L661.3 254.6L661.8 255.7L663.3 256.9L664.4 258.6L666.1 259.4L667.9 260.6L666.6 261.3L664.7 260.6L663.0 260.3L661.7 259.3L660.8 258.3L659.8 256.9L657.6 256.1L656.2 256.6L655.2 257.1L655.4 258.4L654.1 258.9L652.2 258.8L649.8 257.2L648.1 256.9L647.8 257.4L645.6 257.4L646.3 256.1L647.5 255.6L647.0 253.7L646.1 252.4L641.5 250.9L639.0 249.2L637.5 250.2L636.1 248.0L638.0 247.5L639.7 248.2L639.2 247.2L636.5 247.0L635.5 245.8L634.4 245.7ZM663.7 252.5L666.6 252.5L669.3 251.4L670.1 252.4L667.9 253.5L665.7 253.9L663.7 252.5ZM657.6 311.7L659.8 312.3L662.0 312.0L663.7 312.0L663.7 313.9L663.2 315.5L661.7 316.2L659.8 316.5L658.8 314.9L657.6 312.5L657.6 311.7ZM96.4 301.1L97.4 302.1L99.1 302.6L99.9 304.5L101.0 304.6L101.8 306.1L104.0 307.1L105.9 306.5L106.2 307.0L105.3 309.2L103.7 309.3L103.3 310.7L102.0 312.2L100.8 313.2L99.8 312.7L100.4 311.2L99.6 310.3L98.2 309.7L99.6 308.5L99.8 306.1L99.1 304.6L98.4 303.6L97.1 302.6L96.4 301.1ZM704.9 301.1L705.9 302.1L707.6 302.6L708.5 304.5L709.5 304.6L710.3 306.1L712.5 307.1L714.4 306.5L714.7 307.0L713.9 309.2L712.2 309.3L711.9 310.7L710.5 312.2L709.3 313.2L708.3 312.7L709.0 311.2L708.1 310.3L706.8 309.7L708.1 308.5L708.3 306.1L707.6 304.6L707.0 303.6L705.6 302.6L704.9 301.1ZM96.4 311.3L98.2 312.0L98.9 313.0L97.9 314.9L96.6 316.2L95.7 317.1L94.2 317.7L93.2 318.9L92.8 320.4L90.6 321.6L89.0 321.6L86.8 320.9L86.1 320.2L86.6 319.1L88.3 317.6L90.0 317.1L92.0 315.9L93.3 315.0L94.4 313.5L95.0 312.9L95.4 312.0L96.4 311.3ZM704.9 311.3L706.8 312.0L707.5 313.0L706.5 314.9L705.1 316.2L704.3 317.1L702.7 317.7L701.7 318.9L701.4 320.4L699.2 321.6L697.5 321.6L695.3 320.9L694.6 320.2L695.1 319.1L696.8 317.6L698.5 317.1L700.5 315.9L701.9 315.0L702.9 313.5L703.6 312.9L703.9 312.0L704.9 311.3ZM690.2 277.4L692.8 279.3L695.3 280.8L694.3 280.9L691.7 279.3L690.2 277.4ZM496.3 263.5L497.4 265.6L497.9 267.8L498.4 269.3L497.4 269.2L497.0 271.0L496.5 273.2L495.2 276.7L494.0 280.9L492.6 285.1L490.9 285.6L489.2 286.3L487.7 285.1L486.9 282.9L486.2 281.1L486.5 278.9L487.7 277.4L488.1 275.1L487.4 272.5L488.1 270.7L489.9 270.0L491.3 269.8L493.6 267.8L494.1 266.1L495.7 264.3L496.3 263.5ZM547.9 229.9L548.1 227.5L548.7 226.8L550.3 228.9L551.3 230.7L550.9 232.4L549.2 233.3L548.4 232.5L547.9 229.9ZM434.0 179.6L436.0 179.3L439.4 179.0L438.5 180.6L438.5 181.6L437.2 181.1L434.0 180.1L434.0 179.6ZM427.2 174.6L428.6 174.1L429.6 175.3L429.2 177.4L428.2 177.8L427.2 177.4L427.2 176.1L426.9 174.6L427.2 174.6ZM428.9 171.1L429.2 172.4L428.6 173.7L427.5 172.9L427.7 171.7L428.9 171.1ZM452.9 184.0L454.6 183.8L457.5 184.0L457.0 184.5L454.8 184.7L452.7 184.2L452.9 184.0ZM467.6 184.3L468.6 183.8L471.5 183.3L470.3 184.3L468.8 185.2L467.6 184.3ZM-499.8 374.7L-482.9 375.0L-471.1 375.3L-462.6 373.3L-459.2 372.2L-449.1 372.0L-444.0 371.5L-440.7 370.3L-432.2 369.6L-425.4 368.6L-415.3 368.3L-406.8 368.3L-398.4 368.0L-391.6 367.8L-384.9 368.6L-374.7 369.0L-369.7 368.5L-364.6 367.1L-357.8 366.4L-351.1 366.3L-344.3 366.3L-335.8 367.1L-330.8 366.9L-325.7 365.1L-322.3 363.1L-318.1 363.6L-312.2 361.6L-310.5 359.2L-309.6 356.7L-308.0 355.0L-303.7 353.3L-300.3 351.5L-295.3 350.3L-291.9 349.6L-292.7 350.8L-296.1 352.2L-299.5 354.7L-301.2 357.5L-299.2 361.7L-298.7 365.1L-299.5 368.5L-302.0 370.1L-298.7 371.8L-293.6 372.7L-283.4 373.5L-273.3 374.7L-266.5 375.3L-259.8 374.8L-253.0 373.5L-246.3 371.8L-239.5 370.1L-232.7 368.5L-226.0 366.6L-219.2 365.3L-214.1 363.6L-207.4 362.6L-200.6 362.9L-195.5 362.2L-187.1 361.6L-178.6 361.2L-170.2 361.4L-161.7 361.2L-153.3 361.2L-144.8 360.2L-139.8 360.1L-133.0 359.7L-127.9 358.5L-119.5 357.2L-114.4 356.4L-107.6 354.9L-102.6 355.2L-97.5 356.2L-90.7 356.7L-84.0 357.2L-78.9 357.9L-75.5 360.1L-72.1 361.4L-68.8 360.6L-65.4 359.7L-62.0 357.9L-55.2 355.9L-46.8 355.4L-38.3 354.9L-29.9 354.5L-24.8 354.2L-18.1 354.5L-9.6 354.5L-4.5 355.2L0.5 355.9L7.3 355.5L15.8 355.0L24.2 354.7L32.7 354.7L41.1 355.5L46.2 355.9L51.3 356.9L58.0 358.4L63.1 358.9L69.8 359.7L74.9 360.9L81.7 362.1L86.8 362.4L92.2 363.3L92.7 364.8L91.0 366.4L85.9 368.0L82.5 369.6L79.5 371.8L80.8 373.2L85.1 374.2L91.8 374.3L100.3 374.7L108.7 374.7L108.7 399.5L-499.8 399.5ZM108.7 374.7L125.6 375.0L137.5 375.3L145.9 373.3L149.3 372.2L159.4 372.0L164.5 371.5L167.9 370.3L176.3 369.6L183.1 368.6L193.2 368.3L201.7 368.3L210.2 368.0L216.9 367.8L223.7 368.6L233.8 369.0L238.9 368.5L244.0 367.1L250.7 366.4L257.5 366.3L264.2 366.3L272.7 367.1L277.8 366.9L282.8 365.1L286.2 363.1L290.4 363.6L296.4 361.6L298.1 359.2L298.9 356.7L300.6 355.0L304.8 353.3L308.2 351.5L313.3 350.3L316.6 349.6L315.8 350.8L312.4 352.2L309.0 354.7L307.4 357.5L309.4 361.7L309.9 365.1L309.0 368.5L306.5 370.1L309.9 371.8L315.0 372.7L325.1 373.5L335.2 374.7L342.0 375.3L348.8 374.8L355.5 373.5L362.3 371.8L369.0 370.1L375.8 368.5L382.6 366.6L389.3 365.3L394.4 363.6L401.2 362.6L407.9 362.9L413.0 362.2L421.5 361.6L429.9 361.2L438.4 361.4L446.8 361.2L455.3 361.2L463.7 360.2L468.8 360.1L475.5 359.7L480.6 358.5L489.1 357.2L494.1 356.4L500.9 354.9L506.0 355.2L511.0 356.2L517.8 356.7L524.6 357.2L529.6 357.9L533.0 360.1L536.4 361.4L539.8 360.6L543.2 359.7L546.5 357.9L553.3 355.9L561.8 355.4L570.2 354.9L578.7 354.5L583.7 354.2L590.5 354.5L598.9 354.5L604.0 355.2L609.1 355.9L615.8 355.5L624.3 355.0L632.8 354.7L641.2 354.7L649.7 355.5L654.7 355.9L659.8 356.9L666.6 358.4L671.6 358.9L678.4 359.7L683.5 360.9L690.2 362.1L695.3 362.4L700.7 363.3L701.2 364.8L699.5 366.4L694.5 368.0L691.1 369.6L688.0 371.8L689.4 373.2L693.6 374.2L700.4 374.3L708.8 374.7L717.3 374.7L717.3 399.5L108.7 399.5ZM717.3 374.7L734.2 375.0L746.0 375.3L754.5 373.3L757.8 372.2L768.0 372.0L773.1 371.5L776.4 370.3L784.9 369.6L791.6 368.6L801.8 368.3L810.2 368.3L818.7 368.0L825.5 367.8L832.2 368.6L842.4 369.0L847.4 368.5L852.5 367.1L859.3 366.4L866.0 366.3L872.8 366.3L881.2 367.1L886.3 366.9L891.4 365.1L894.8 363.1L899.0 363.6L904.9 361.6L906.6 359.2L907.4 356.7L909.1 355.0L913.4 353.3L916.7 351.5L921.8 350.3L925.2 349.6L924.3 350.8L921.0 352.2L917.6 354.7L915.9 357.5L917.9 361.7L918.4 365.1L917.6 368.5L915.0 370.1L918.4 371.8L923.5 372.7L933.6 373.5L943.8 374.7L950.5 375.3L957.3 374.8L964.1 373.5L970.8 371.8L977.6 370.1L984.4 368.5L991.1 366.6L997.9 365.3L1002.9 363.6L1009.7 362.6L1016.5 362.9L1021.5 362.2L1030.0 361.6L1038.4 361.2L1046.9 361.4L1055.4 361.2L1063.8 361.2L1072.3 360.2L1077.3 360.1L1084.1 359.7L1089.2 358.5L1097.6 357.2L1102.7 356.4L1109.4 354.9L1114.5 355.2L1119.6 356.2L1126.3 356.7L1133.1 357.2L1138.2 357.9L1141.6 360.1L1144.9 361.4L1148.3 360.6L1151.7 359.7L1155.1 357.9L1161.8 355.9L1170.3 355.4L1178.8 354.9L1187.2 354.5L1192.3 354.2L1199.0 354.5L1207.5 354.5L1212.6 355.2L1217.6 355.9L1224.4 355.5L1232.8 355.0L1241.3 354.7L1249.7 354.7L1258.2 355.5L1263.3 355.9L1268.3 356.9L1275.1 358.4L1280.2 358.9L1286.9 359.7L1292.0 360.9L1298.8 362.1L1303.8 362.4L1309.3 363.3L1309.8 364.8L1308.1 366.4L1303.0 368.0L1299.6 369.6L1296.6 371.8L1297.9 373.2L1302.2 374.2L1308.9 374.3L1317.4 374.7L1325.8 374.7L1325.8 399.5L717.3 399.5Z" fill="#cccccc" fill-opacity="0.2" fill-rule="nonzero"/>
<path d="M491.9 168.5L493.3 166.7L496.2 165.2L499.5 164.3L502.8 164.7L502.6 167.2L499.7 167.4L499.2 168.7L502.1 173.1L502.4 174.3L504.6 174.8L503.9 177.1L504.1 180.6L500.2 181.5L497.9 180.5L495.8 178.8L496.7 175.8L498.0 175.4L496.8 174.8L495.2 173.1L493.3 171.1L493.3 169.5L491.9 168.5ZM511.4 166.9L513.6 165.5L516.3 165.5L517.1 166.7L516.1 168.7L514.9 170.1L513.1 169.9L511.7 168.9L511.4 166.9ZM588.3 156.6L590.3 156.4L593.0 154.9L596.2 153.4L598.3 150.1L597.6 149.6L596.2 152.2L593.0 153.9L590.5 155.4L588.3 156.6ZM538.1 165.2L540.6 165.0L543.2 165.3L547.0 165.2L545.7 166.4L541.5 166.4L538.1 165.2ZM257.3 164.8L260.4 165.0L263.9 164.3L267.6 165.0L270.0 165.2L270.0 164.3L269.3 162.8L266.8 161.5L263.7 161.3L261.5 162.7L257.3 164.8ZM264.6 173.2L265.6 173.4L267.1 172.2L267.3 170.1L268.6 167.4L269.7 166.4L266.8 166.2L265.1 167.5L264.6 169.4L264.6 173.2ZM270.0 166.2L271.9 165.9L275.6 165.9L277.3 166.7L277.9 168.2L275.6 167.4L274.9 168.4L273.5 170.9L271.9 169.4L272.2 168.7L271.9 167.2L270.0 166.2ZM272.0 173.2L275.2 173.4L277.8 172.4L279.6 171.4L277.1 171.7L274.7 172.2L272.5 172.6L272.0 173.2ZM278.1 170.6L280.3 170.4L283.7 170.2L284.0 169.0L281.8 169.4L278.8 169.9L278.1 170.6ZM248.7 158.5L250.2 156.8L248.2 153.3L246.2 153.4L247.7 155.6L248.7 158.5ZM215.2 140.8L220.3 141.0L224.5 139.8L222.8 138.6L219.4 138.5L216.9 139.6L215.2 140.8ZM201.7 134.1L205.1 134.4L209.3 133.1L212.7 131.6L208.5 130.7L204.2 131.9L201.7 134.1ZM466.8 245.0L467.8 242.8L470.3 243.1L470.6 245.1L469.3 247.3L467.4 247.8L466.6 246.5L466.8 245.0ZM462.4 249.0L462.9 251.7L463.0 254.4L464.6 256.9L465.6 257.7L464.7 255.1L463.5 252.5L462.5 249.0ZM471.0 259.3L471.5 262.6L471.1 265.1L472.3 267.3L472.7 266.0L472.0 263.0L471.7 260.3L471.0 259.3ZM463.5 142.5L464.7 140.0L468.4 140.3L468.3 141.7L466.2 142.5L463.5 142.5ZM470.8 140.8L473.0 140.5L474.4 139.1L472.5 137.6L471.3 138.3L470.8 140.8ZM294.8 269.0L295.9 270.0L296.7 270.7L295.5 269.5L294.8 269.0ZM435.8 221.1L437.0 220.1L437.7 221.1L437.0 221.8L435.8 221.1Z" fill="#ffffff" fill-opacity="0.2"/>
<path d="M128.8 133.1L131.5 132.1L136.1 132.3L139.5 131.9L136.5 130.6L134.4 129.6L131.0 128.6L133.2 127.5L137.1 126.5L140.0 125.2L144.2 124.4L147.9 123.3L151.8 124.2L156.1 124.4L159.4 124.9L162.3 125.2L167.9 125.5L173.0 126.0L178.0 126.5L182.3 127.4L185.6 126.5L189.9 126.4L194.1 125.7L196.6 124.9L199.2 126.4L202.5 126.7L205.9 126.0L210.2 126.9L214.4 127.4L218.6 128.6L223.7 128.7L228.7 129.1L233.0 128.6L237.2 129.1L241.4 129.6L246.5 129.4L249.0 128.4L251.6 128.7L253.6 127.0L253.1 123.3L256.6 122.3L258.3 124.9L261.7 126.9L264.2 128.6L266.8 129.4L269.3 127.0L271.9 126.2L274.0 127.0L275.2 129.9L271.9 132.1L268.0 131.6L265.1 134.4L260.0 136.1L256.6 138.3L253.8 141.2L252.8 144.2L255.8 145.2L257.0 147.4L261.7 147.9L265.1 149.4L268.5 150.4L273.9 150.6L273.9 153.4L275.2 155.6L278.6 156.9L279.6 155.1L279.5 151.9L282.0 150.1L283.3 147.9L282.0 145.4L280.5 144.3L281.8 141.8L281.1 139.3L282.3 138.3L286.2 138.6L288.8 138.8L291.8 140.3L295.0 141.2L295.3 144.0L297.4 145.0L299.6 145.0L301.8 143.2L303.8 142.0L305.7 144.2L307.7 146.2L309.2 148.9L310.7 150.1L314.1 151.6L316.0 152.6L318.0 153.9L318.8 155.4L317.0 156.8L314.1 157.5L311.6 159.0L307.4 159.0L304.0 159.0L300.6 159.6L298.1 160.5L296.0 162.2L293.7 164.2L295.3 163.2L298.1 161.8L300.6 160.8L304.0 161.0L304.5 162.0L302.6 162.7L303.5 164.0L303.8 165.5L305.7 166.4L308.9 166.5L310.6 165.7L311.6 166.4L309.5 167.2L305.7 168.4L302.3 170.1L301.3 168.7L304.0 167.2L302.3 167.2L299.7 167.9L297.2 168.9L295.0 169.5L294.2 170.1L293.3 171.4L293.7 172.4L294.7 173.1L294.0 173.4L292.3 173.6L289.9 174.1L288.2 174.9L287.9 175.8L287.4 177.1L286.4 177.9L286.1 178.8L285.2 180.1L284.4 181.1L284.9 182.5L285.4 184.0L284.0 184.7L282.5 185.2L281.1 186.3L279.3 187.4L277.9 188.5L276.2 189.5L275.4 190.9L275.4 192.2L276.2 194.2L277.3 196.3L277.8 198.4L277.6 200.0L277.1 201.0L275.9 201.0L274.9 199.8L274.2 198.4L273.2 196.8L273.2 195.3L272.2 194.2L271.0 192.7L269.1 193.4L267.6 192.2L265.1 192.2L263.4 192.2L261.9 192.6L262.2 194.2L260.9 194.2L259.2 194.1L257.0 193.6L254.4 193.4L252.8 193.9L250.2 195.4L248.5 196.9L248.7 199.3L248.2 201.3L247.8 203.0L247.7 205.5L248.7 207.7L249.9 210.0L250.7 211.4L252.8 212.2L253.6 212.7L256.6 212.1L258.7 212.2L259.7 210.7L260.2 208.4L261.7 207.5L264.2 207.2L265.8 207.2L266.3 208.4L265.1 210.2L264.6 212.2L263.9 212.7L263.7 214.4L263.6 215.7L262.7 216.6L264.6 216.8L266.9 216.8L269.3 216.6L271.0 217.4L272.2 218.1L271.9 219.8L271.9 222.3L271.5 224.8L273.0 226.5L274.4 227.8L275.7 228.3L277.3 227.7L278.6 227.2L280.3 227.5L282.2 228.7L281.3 231.0L280.8 229.2L278.6 228.3L277.1 229.5L277.8 230.9L276.4 231.0L275.1 229.9L272.9 229.7L271.7 228.7L269.7 227.0L268.1 226.7L268.0 224.8L266.3 222.8L264.9 221.3L263.4 221.1L261.7 220.6L259.5 219.9L257.7 219.1L255.8 217.3L253.3 216.1L250.7 216.9L248.2 216.4L246.0 215.6L243.1 214.6L240.9 213.4L238.0 212.6L235.8 210.9L234.5 209.0L235.0 207.0L234.2 205.0L232.3 203.1L230.4 201.1L228.4 200.0L227.9 198.3L226.0 196.8L224.9 195.9L223.3 194.6L222.2 192.2L221.6 190.9L218.9 189.9L219.3 191.6L220.1 193.2L221.6 194.9L222.7 196.9L224.4 198.4L225.0 199.8L226.0 201.6L226.7 202.6L227.9 204.3L227.2 204.8L226.4 203.7L224.2 202.3L223.3 201.3L223.5 199.6L222.0 198.4L220.5 197.8L220.0 196.8L220.0 195.8L218.6 194.6L217.4 193.2L216.7 191.7L215.7 190.2L215.1 188.7L214.5 187.4L212.9 186.5L211.8 186.0L210.3 185.5L209.1 185.2L208.5 183.7L206.9 181.8L206.1 180.8L205.9 179.8L205.1 179.3L203.9 177.9L203.7 176.4L202.7 175.4L203.2 173.6L202.9 171.9L203.2 169.7L203.4 167.7L203.6 165.7L203.2 164.3L202.2 162.0L204.7 162.3L205.4 161.1L204.7 160.3L202.0 159.5L200.3 158.6L198.0 157.8L197.0 156.1L195.8 154.4L193.6 152.6L192.4 151.2L190.9 150.1L189.0 148.2L187.0 146.5L185.0 144.9L182.6 145.2L180.2 144.3L178.0 143.3L175.5 142.8L173.0 142.5L169.8 142.5L167.0 141.8L164.7 141.0L162.3 141.7L160.5 142.7L157.9 143.7L156.2 143.3L156.9 141.5L159.3 140.5L157.9 140.7L155.6 141.8L154.0 143.7L152.2 144.9L151.2 146.0L148.5 147.7L145.6 148.9L143.2 149.9L141.0 150.4L138.3 151.1L134.9 151.7L137.1 150.7L139.7 149.6L142.2 148.5L144.6 147.4L146.3 146.2L147.1 144.9L145.4 144.7L143.2 144.3L140.8 144.5L139.5 143.2L138.0 142.5L136.1 142.7L134.3 141.8L133.6 140.7L132.4 139.6L133.2 138.5L134.4 137.3L136.6 137.3L138.6 136.5L140.8 136.5L141.2 135.3L140.0 134.9L138.0 135.1L136.6 134.8L134.3 134.9L132.1 134.8L131.0 133.8L128.8 133.1L128.8 133.1M282.2 228.7L283.2 228.9L284.2 227.7L285.2 226.5L285.9 225.0L287.4 224.7L289.1 224.3L290.6 223.5L291.5 222.5L292.6 223.0L292.3 224.3L291.5 223.8L292.0 225.0L293.0 224.7L294.3 224.1L294.5 223.0L295.3 224.0L297.0 224.1L297.7 225.2L300.1 225.5L302.3 226.3L304.3 225.5L306.2 225.3L308.4 225.3L307.4 226.0L309.0 226.7L310.2 228.9L311.9 229.4L313.3 230.2L314.1 231.2L315.8 232.7L317.5 233.4L320.0 233.2L321.7 233.7L323.6 234.2L325.4 235.7L326.3 236.7L327.1 239.1L328.1 240.3L328.6 241.6L327.5 243.0L329.3 243.6L331.0 244.8L332.0 244.3L334.2 245.0L336.4 246.0L337.8 247.3L339.6 247.3L342.3 248.0L345.0 248.0L347.2 249.5L349.3 251.0L351.3 251.9L353.3 252.2L354.0 254.6L354.2 256.4L353.5 258.4L352.5 259.8L351.1 261.1L349.8 263.0L348.4 265.0L347.2 266.3L347.1 268.5L346.7 272.5L345.9 275.1L345.2 276.7L343.9 279.1L342.3 280.9L340.3 281.9L337.6 282.4L335.6 283.3L333.7 284.1L332.0 285.6L330.8 287.5L330.7 289.5L330.3 291.3L328.8 292.9L327.6 294.7L326.3 296.4L324.8 297.7L323.2 299.9L322.1 301.1L320.2 301.9L318.0 301.9L316.3 301.1L314.3 300.8L314.8 301.9L316.3 302.8L316.6 304.3L317.2 305.1L315.8 307.0L314.3 308.0L311.9 308.5L309.2 308.7L307.7 308.7L307.9 310.7L307.2 311.8L304.6 312.2L303.0 312.2L303.3 314.2L305.2 314.5L304.3 315.4L303.0 316.5L302.4 318.6L300.1 319.1L298.7 321.1L299.6 321.9L300.9 323.1L301.6 324.1L299.6 325.3L298.2 327.1L296.4 328.3L296.2 330.0L297.4 331.2L295.5 331.2L297.0 332.3L298.6 333.9L300.6 334.9L302.8 335.4L300.4 335.9L297.9 336.2L295.5 336.0L293.0 335.5L290.8 334.5L289.1 333.3L287.4 332.0L286.7 329.8L285.7 327.6L285.4 325.3L285.5 322.8L286.7 321.1L287.4 319.2L288.6 317.6L289.1 315.2L288.2 313.5L288.4 311.3L288.8 308.8L288.6 306.5L289.8 305.0L290.3 303.1L291.3 300.9L291.8 298.9L292.3 296.7L292.0 294.2L292.3 292.0L292.8 289.7L293.5 287.0L293.8 284.6L294.0 282.3L294.5 279.3L294.3 276.7L294.0 274.2L292.3 272.9L290.4 271.5L288.1 269.8L285.9 268.5L284.2 266.7L283.7 264.8L282.5 263.5L281.7 261.8L280.5 259.6L279.3 257.4L278.4 255.6L277.1 254.4L275.7 253.2L276.2 252.0L275.6 250.5L277.1 249.2L277.9 247.7L277.1 247.7L276.2 247.0L276.4 245.5L277.6 244.0L277.8 242.0L279.3 241.1L279.8 240.1L280.6 238.9L281.8 237.6L282.5 236.4L282.2 234.2L282.2 232.2L281.3 231.0L282.2 228.7M403.0 183.2L404.0 183.0L405.9 184.2L408.1 184.0L409.6 184.3L411.0 183.3L413.0 183.0L415.2 182.0L417.9 181.5L421.1 181.3L423.6 181.0L426.0 181.3L428.2 181.0L429.6 180.6L430.4 181.3L431.6 181.0L430.9 182.1L431.1 183.5L431.8 184.2L430.6 185.8L431.1 186.7L432.1 187.7L434.3 188.2L436.5 188.4L438.7 189.0L439.5 190.5L442.4 191.1L444.9 192.4L446.3 192.1L447.0 190.9L446.6 189.9L447.5 188.9L449.3 188.0L451.7 188.5L452.2 189.2L455.1 189.7L455.6 190.2L459.5 190.9L461.9 191.4L463.5 190.7L465.2 190.2L466.9 190.4L467.6 190.7L468.1 192.1L467.6 193.2L468.4 195.3L469.8 197.1L470.6 198.8L471.8 201.1L473.0 203.0L473.2 204.5L475.4 206.5L475.9 208.4L476.2 210.7L477.7 212.7L478.8 214.2L479.4 216.4L480.3 217.4L482.6 218.9L484.3 220.6L485.5 222.0L486.2 222.8L485.9 224.0L487.0 225.0L488.4 225.8L490.1 225.3L491.8 225.2L493.8 224.7L495.7 224.3L498.0 223.6L499.7 223.5L499.4 225.5L499.0 226.2L498.5 228.0L497.7 229.7L496.7 231.9L495.2 234.4L493.6 236.2L491.8 238.4L490.1 239.8L487.5 241.5L485.9 242.8L483.8 244.8L482.8 246.5L481.1 247.7L479.9 250.5L479.3 251.2L478.6 254.2L479.6 255.2L479.4 256.7L480.1 258.6L481.3 260.6L481.5 263.1L481.6 265.0L481.6 267.2L482.0 268.0L480.8 270.3L479.1 271.7L476.2 272.9L474.4 274.7L471.8 276.6L471.8 278.6L472.8 279.9L473.0 282.3L472.8 283.8L471.5 284.8L468.8 286.0L468.1 287.1L468.6 287.3L468.1 289.5L467.8 291.3L465.9 292.7L463.9 295.4L461.9 297.4L459.5 299.1L457.6 299.7L456.4 300.4L454.8 300.4L452.9 300.1L451.2 300.3L449.3 300.9L448.0 301.1L446.8 301.8L446.1 301.8L445.5 301.3L444.9 301.1L444.1 300.6L444.1 299.2L443.8 297.7L443.3 296.2L442.2 294.4L441.4 292.4L440.6 291.3L439.4 290.0L438.7 288.8L437.8 286.0L437.3 283.5L437.3 281.4L436.5 279.8L435.5 278.2L434.6 276.4L433.3 274.2L432.6 272.4L432.6 270.3L433.5 268.3L434.1 266.0L435.5 264.3L436.2 262.3L435.7 260.8L435.1 259.8L434.8 258.3L434.1 256.1L433.8 254.7L433.3 253.5L433.8 252.4L433.1 251.7L431.8 250.0L430.1 248.3L428.9 246.8L427.9 245.1L428.2 244.1L428.7 242.8L429.1 241.5L429.2 239.4L429.6 238.1L428.9 237.1L427.9 235.9L427.4 235.2L425.7 235.9L424.3 236.2L423.0 236.1L422.1 235.1L421.3 233.2L420.3 232.7L419.1 232.7L417.6 232.7L416.2 233.1L414.9 233.4L412.2 234.4L411.1 234.9L409.8 235.4L408.1 234.9L406.2 234.6L405.2 234.6L403.2 234.9L400.3 236.1L400.0 235.9L397.8 235.2L396.3 233.9L394.7 233.1L393.7 231.9L392.0 231.0L391.0 230.2L390.7 228.3L389.8 227.3L389.2 226.5L388.3 226.2L388.0 225.3L387.5 224.8L386.5 224.0L385.8 224.0L384.8 222.5L384.6 221.1L384.8 220.5L384.1 219.1L383.2 218.6L383.9 218.3L384.8 217.1L385.1 216.3L385.8 215.6L385.8 212.9L385.4 211.2L385.3 210.4L385.4 209.5L385.1 208.7L384.1 208.0L384.6 207.5L384.9 206.0L385.4 205.2L386.0 203.5L387.0 202.3L387.5 202.1L388.0 201.1L388.7 199.1L389.7 198.6L390.9 196.9L391.7 196.3L393.2 196.1L394.6 194.9L395.4 194.4L396.8 193.1L396.4 190.9L397.1 189.5L397.3 188.5L398.3 187.5L400.0 186.7L401.3 186.0L402.5 184.3L403.0 183.2L403.0 183.2M-140.9 190.7L-138.4 191.1L-137.6 190.9L-137.1 190.2L-136.4 188.2L-135.5 186.3L-134.9 185.2L-134.9 183.8L-135.0 182.3L-134.4 181.6L-135.4 181.8L-136.9 181.5L-138.1 182.5L-140.6 182.7L-142.0 181.8L-143.8 181.6L-144.2 182.3L-145.3 182.7L-147.0 181.6L-148.9 181.6L-149.4 180.5L-151.1 179.1L-150.2 177.8L-151.3 176.9L-151.3 175.9L-150.6 175.6L-149.4 175.4L-146.9 175.3L-146.2 174.1L-143.0 174.3L-140.9 173.2L-138.9 172.7L-136.0 172.7L-133.2 173.9L-130.8 174.6L-128.8 174.3L-127.3 174.4L-125.2 173.6L-125.1 171.7L-127.9 170.4L-130.1 168.9L-132.2 168.2L-131.0 165.7L-129.4 163.8L-132.3 164.3L-135.4 165.2L-136.5 166.2L-136.0 167.2L-133.8 166.9L-134.9 167.9L-136.5 168.0L-138.7 168.5L-140.6 167.2L-138.7 166.2L-140.6 165.9L-142.0 165.0L-143.6 165.2L-144.8 166.4L-145.5 167.2L-147.0 168.7L-147.2 169.9L-148.4 171.6L-148.2 172.7L-146.7 173.9L-147.5 174.4L-148.9 174.4L-150.9 174.8L-152.6 174.6L-154.3 174.6L-155.5 174.9L-156.7 175.6L-157.3 175.1L-157.0 176.6L-156.2 177.4L-156.7 178.8L-155.0 179.1L-156.7 180.1L-157.0 181.5L-157.5 182.1L-158.9 181.5L-159.5 180.1L-159.9 179.0L-160.6 178.1L-161.4 176.8L-162.2 175.3L-162.8 173.7L-162.6 172.9L-163.4 172.6L-164.3 171.9L-166.0 170.9L-167.8 170.2L-169.0 169.7L-169.8 168.9L-170.4 167.9L-171.4 167.4L-172.4 167.5L-172.6 166.5L-174.2 167.0L-174.8 167.4L-174.6 167.9L-174.8 169.0L-173.4 170.2L-172.4 170.7L-171.7 171.7L-170.0 172.7L-168.5 172.9L-168.5 173.7L-166.5 174.6L-165.1 175.1L-164.3 175.8L-164.8 176.4L-166.1 175.6L-167.0 175.4L-167.7 176.4L-166.5 177.1L-166.6 177.9L-167.5 178.1L-168.3 179.5L-169.2 179.1L-168.7 178.1L-168.3 176.8L-169.5 176.1L-170.4 175.6L-170.9 174.9L-171.7 174.8L-172.6 174.1L-173.7 173.9L-175.1 173.2L-176.6 172.1L-177.8 171.2L-178.3 169.5L-179.1 169.2L-180.5 168.7L-181.3 169.0L-182.2 169.7L-183.0 169.9L-184.6 170.9L-185.9 170.7L-187.8 170.4L-189.3 170.4L-190.3 170.9L-190.5 171.9L-190.1 172.9L-192.0 174.1L-194.2 174.4L-194.2 174.9L-195.4 175.9L-196.1 177.3L-195.4 178.3L-196.4 179.0L-196.7 180.1L-197.9 180.5L-199.1 181.6L-201.3 181.6L-203.0 181.6L-204.0 182.3L-204.7 183.0L-205.5 182.3L-206.0 182.1L-206.5 181.3L-208.2 181.0L-208.9 181.5L-209.7 181.0L-210.6 181.3L-210.3 180.0L-210.4 179.0L-211.3 178.8L-211.6 178.3L-211.4 177.1L-210.8 176.4L-210.4 174.8L-210.4 174.1L-210.6 172.9L-210.6 172.2L-211.3 171.2L-210.9 170.7L-209.1 169.9L-207.0 170.1L-204.7 170.1L-202.8 170.4L-201.5 170.2L-198.8 170.4L-197.9 169.4L-197.6 167.7L-197.6 165.7L-198.6 165.2L-199.3 164.2L-200.4 163.3L-203.2 162.8L-203.3 161.5L-201.1 161.1L-200.1 161.8L-198.2 161.7L-198.2 160.6L-198.8 159.6L-197.2 160.5L-195.4 160.3L-193.3 159.1L-192.8 157.8L-191.3 157.5L-190.0 157.1L-189.1 156.6L-188.3 156.1L-187.6 154.8L-187.3 153.9L-185.6 153.6L-183.5 153.1L-181.9 153.4L-180.7 152.6L-181.0 151.9L-181.2 150.6L-181.9 150.1L-181.9 148.4L-181.5 147.9L-181.2 147.4L-179.7 147.2L-178.6 146.5L-177.6 146.4L-177.8 147.2L-178.3 147.7L-178.0 148.9L-177.1 148.4L-177.5 149.1L-177.6 150.7L-178.8 150.9L-178.8 151.7L-177.1 151.9L-176.9 152.6L-175.4 152.2L-174.4 151.7L-172.6 152.4L-171.4 152.7L-168.8 152.2L-167.8 151.7L-165.8 151.2L-164.1 151.4L-163.9 151.9L-162.2 151.9L-160.9 151.1L-159.5 150.6L-159.9 149.6L-159.9 147.9L-159.0 146.9L-157.5 146.2L-156.2 147.5L-154.8 147.5L-154.3 146.0L-154.3 145.2L-156.0 144.9L-156.2 143.8L-154.0 143.3L-151.8 143.2L-149.9 143.3L-148.0 143.3L-146.4 142.5L-144.5 142.7L-148.0 141.7L-151.1 141.8L-154.1 142.3L-156.8 142.8L-157.8 141.8L-159.5 141.3L-159.2 139.6L-159.9 138.1L-159.2 137.1L-157.7 136.1L-153.8 134.3L-152.6 133.9L-152.8 133.3L-153.8 132.9L-158.0 132.9L-159.7 134.1L-159.4 135.1L-162.1 136.5L-165.5 138.0L-166.6 140.3L-165.5 141.5L-163.8 142.3L-165.3 144.3L-167.1 144.7L-167.8 147.5L-168.7 149.1L-170.7 148.9L-171.7 150.2L-173.7 150.2L-174.2 148.7L-175.6 146.9L-176.9 144.3L-178.0 143.3L-181.3 145.4L-183.7 145.7L-185.9 144.9L-186.6 143.0L-187.1 140.8L-185.6 138.1L-181.0 136.6L-177.8 134.9L-174.6 132.6L-170.5 129.4L-167.8 128.1L-163.1 126.0L-159.4 125.2L-156.7 125.4L-154.1 124.0L-150.9 124.0L-147.9 123.9L-142.6 124.9L-144.8 125.4L-143.0 126.4L-141.3 125.9L-138.4 126.9L-133.8 127.2L-127.4 129.2L-126.1 129.9L-126.1 131.1L-127.9 131.9L-130.6 132.4L-138.2 131.1L-139.4 131.4L-136.7 132.6L-136.5 135.1L-134.4 135.6L-133.0 136.1L-132.8 135.3L-133.8 134.4L-132.7 133.9L-128.6 134.9L-127.3 134.4L-128.3 133.3L-124.4 131.6L-121.3 132.3L-120.3 131.1L-121.7 130.1L-120.8 129.1L-122.0 128.1L-117.3 128.6L-116.4 129.6L-118.5 129.7L-118.5 130.7L-114.6 130.9L-114.2 129.9L-110.7 129.1L-104.8 127.5L-103.4 127.7L-105.1 128.7L-103.1 128.9L-101.9 128.4L-98.7 128.2L-96.1 127.5L-94.3 128.6L-92.3 127.5L-94.1 126.5L-93.1 125.9L-88.2 126.5L-85.8 127.0L-79.8 128.9L-78.6 128.1L-80.3 127.2L-80.4 126.7L-82.5 126.5L-81.8 125.7L-82.8 124.5L-82.8 124.0L-79.8 122.5L-78.6 121.0L-77.4 120.7L-72.8 121.0L-72.5 122.0L-74.2 123.3L-73.0 123.9L-72.5 125.0L-72.8 127.4L-71.0 128.4L-71.8 129.6L-75.0 131.9L-73.2 132.1L-72.5 131.6L-70.6 131.1L-70.1 130.2L-68.6 129.4L-69.6 128.6L-68.9 127.4L-70.8 127.2L-71.1 126.4L-69.8 124.7L-72.0 123.3L-68.9 122.2L-69.3 121.0L-68.4 120.8L-67.6 121.8L-68.3 123.5L-66.4 123.7L-67.2 122.5L-64.4 121.8L-60.8 121.8L-57.8 122.7L-59.3 121.3L-59.5 119.7L-56.4 119.1L-52.4 119.3L-48.8 119.1L-50.2 118.1L-48.1 117.1L-46.3 117.1L-42.9 116.3L-38.5 116.0L-38.0 115.6L-33.4 115.5L-32.1 115.8L-28.4 114.9L-25.2 114.9L-24.8 114.1L-23.1 113.4L-19.1 112.8L-16.2 113.3L-18.6 113.8L-16.2 113.9L-14.3 114.8L-12.6 114.4L-7.7 114.4L-4.0 115.3L-2.7 116.0L-3.0 116.8L-4.9 117.3L-9.3 118.1L-10.6 118.6L-8.6 119.0L-6.1 119.3L-4.5 119.0L-3.7 120.2L-2.8 119.7L-0.1 119.3L5.3 119.7L5.6 120.5L12.7 120.7L12.9 119.5L16.4 119.7L19.1 119.7L21.8 120.5L22.7 121.7L21.7 122.5L23.7 123.7L26.4 124.4L28.1 122.7L30.8 123.3L33.7 122.8L36.9 123.5L38.1 123.0L40.9 123.2L39.6 121.7L42.0 121.0L57.2 122.0L58.7 123.0L62.9 124.4L69.8 124.0L73.2 124.2L74.6 124.9L74.4 126.2L76.4 126.7L78.8 126.4L81.9 126.2L84.9 126.5L88.1 126.4L91.1 127.9L93.2 127.4L91.8 126.2L92.7 125.5L97.9 126.0L101.5 125.9L106.4 126.7L108.7 127.4M108.7 134.1L106.5 134.9L104.3 134.8L105.9 135.6L106.9 137.0L107.7 137.5L107.4 138.6L104.3 138.3L99.6 139.5L98.1 139.6L95.5 140.8L93.0 142.0L92.3 142.7L90.0 141.5L85.6 142.8L84.7 142.2L83.2 143.0L80.8 142.7L80.3 143.8L78.3 145.5L78.3 146.2L80.3 146.5L80.2 148.9L78.5 149.1L77.8 150.4L78.5 151.1L75.6 152.1L74.9 153.9L72.4 154.3L71.9 156.1L69.5 157.6L68.8 156.4L68.1 153.9L67.1 150.2L68.0 147.9L69.5 146.9L69.5 146.2L72.2 145.7L75.3 143.7L78.1 142.0L81.2 140.7L82.5 138.1L80.5 138.3L79.5 139.8L75.1 141.7L73.7 139.5L69.3 140.1L65.1 142.8L66.5 144.0L62.7 144.3L60.2 144.5L60.2 143.3L57.7 143.0L55.5 143.8L50.4 143.7L44.8 144.2L39.4 147.4L32.8 151.4L35.5 151.6L36.4 152.6L38.1 152.9L39.1 152.1L40.9 152.2L43.3 154.1L43.5 155.6L42.1 157.3L42.0 159.3L41.3 162.0L38.7 164.3L38.1 165.5L35.9 167.5L33.5 169.4L32.5 170.4L30.1 171.4L29.1 171.4L28.1 170.6L25.7 171.7L25.6 172.4L24.9 172.2L23.7 173.4L23.7 174.4L22.9 174.9L21.8 175.8L20.8 176.1L20.0 176.4L20.0 177.3L21.3 178.5L22.9 180.5L23.4 181.5L23.4 183.5L22.7 184.3L21.2 184.7L19.8 185.3L18.3 185.5L18.1 184.7L18.5 183.3L17.6 181.6L19.0 181.3L17.8 180.0L16.9 179.6L16.8 178.8L16.1 178.3L15.9 176.8L14.6 176.3L13.2 176.6L12.2 176.8L10.9 177.4L9.7 177.1L9.8 177.9L9.0 177.9L10.0 176.3L11.0 175.4L10.0 174.6L8.7 175.1L6.6 176.3L5.6 177.3L3.9 177.4L3.1 178.3L4.1 179.3L5.4 179.6L5.4 180.5L6.8 180.8L8.7 179.6L10.2 180.3L11.5 180.5L11.5 181.3L9.2 181.6L8.3 182.7L6.8 183.5L6.0 184.7L7.6 185.5L8.3 187.2L9.3 188.7L10.5 190.0L10.5 191.4L9.5 191.7L9.8 192.7L10.9 193.2L10.2 195.9L9.2 196.1L8.0 197.8L6.6 200.1L5.6 201.3L5.1 202.1L2.7 203.7L0.4 205.0L-1.5 205.2L-2.5 206.0L-3.2 205.5L-4.2 206.2L-6.6 207.0L-8.2 207.3L-8.9 209.2L-9.8 209.2L-10.3 208.0L-9.8 207.3L-12.1 206.8L-13.0 207.0L-15.2 208.5L-16.5 210.0L-16.9 211.2L-15.7 213.1L-14.0 215.2L-12.5 216.3L-11.5 217.6L-10.8 220.8L-11.0 223.6L-12.3 224.8L-14.3 225.8L-15.7 227.3L-17.7 228.9L-18.4 227.8L-17.9 226.7L-19.2 225.7L-20.6 225.5L-21.3 224.5L-22.1 222.8L-23.6 222.1L-25.2 222.1L-24.8 220.8L-26.3 220.8L-26.5 222.6L-27.9 224.9L-27.9 227.8L-26.7 227.8L-26.0 229.4L-25.7 230.9L-24.8 231.7L-23.8 232.0L-23.0 232.9L-22.4 233.2L-21.4 234.1L-20.8 235.1L-20.8 236.2L-20.9 237.1L-20.8 237.6L-20.6 238.6L-19.9 239.1L-19.4 240.6L-19.4 241.1L-20.6 241.3L-22.1 240.0L-24.1 238.6L-24.3 237.8L-25.3 236.7L-25.5 235.2L-26.2 234.4L-26.0 233.2L-26.3 232.4L-27.0 231.9L-27.3 231.0L-28.2 230.0L-29.0 229.2L-29.4 230.2L-29.5 229.2L-29.4 228.2L-28.9 226.7L-29.0 225.3L-28.5 224.1L-29.2 223.1L-29.0 221.3L-29.7 220.5L-30.2 218.4L-30.6 216.3L-31.2 214.9L-32.4 215.7L-34.3 216.9L-35.3 216.8L-36.3 216.4L-35.8 214.2L-36.1 212.7L-37.5 210.7L-37.2 210.2L-38.2 209.9L-39.4 208.5L-39.9 207.7L-40.0 206.8L-40.4 206.0L-41.0 205.0L-42.6 205.0L-42.4 205.7L-42.9 206.7L-43.7 206.3L-43.9 206.5L-44.4 206.4L-45.1 206.2L-45.3 206.8L-46.5 206.8L-48.5 207.2L-48.5 208.5L-49.3 209.4L-51.7 210.5L-53.6 212.6L-54.9 213.6L-56.6 214.7L-56.6 215.4L-57.4 215.9L-59.0 216.5L-59.8 216.6L-60.3 217.9L-60.0 220.1L-59.8 221.5L-60.5 223.0L-60.5 225.8L-61.5 226.0L-62.2 227.3L-61.7 227.8L-63.2 228.3L-63.9 229.4L-64.5 229.9L-66.1 228.3L-66.9 226.0L-67.6 224.3L-68.1 223.5L-68.9 222.0L-69.4 219.8L-69.8 218.8L-71.3 216.4L-72.0 213.2L-72.5 211.0L-72.5 209.0L-72.8 207.3L-75.2 208.4L-76.4 208.2L-78.6 206.2L-77.9 205.5L-78.4 205.0L-80.3 203.5L-81.6 203.1L-82.1 201.8L-83.3 200.6L-86.5 201.0L-89.2 201.0L-91.6 201.1L-94.8 200.6L-96.7 200.3L-98.5 200.1L-99.2 198.0L-100.0 197.8L-101.4 198.0L-103.1 198.8L-105.1 198.3L-106.8 196.9L-108.5 196.4L-109.5 194.9L-110.9 192.7L-111.7 192.9L-112.9 192.4L-113.4 193.1L-114.5 192.9L-114.1 193.7L-114.2 194.1L-113.7 195.3L-113.1 196.8L-112.2 197.1L-111.9 197.8L-110.7 198.4L-110.9 199.8L-110.2 200.8L-109.8 201.3L-109.7 201.6L-109.2 199.5L-108.3 200.0L-108.3 201.0L-108.7 202.0L-108.3 202.6L-107.6 203.0L-105.3 202.6L-104.3 202.8L-103.1 201.6L-101.9 200.6L-100.7 199.5L-100.2 198.9L-100.0 199.1L-100.2 199.8L-100.4 200.1L-100.2 201.5L-99.5 202.6L-98.5 203.1L-97.3 203.5L-96.3 203.7L-95.0 205.2L-94.5 205.5L-94.5 205.8L-95.3 207.3L-96.0 207.9L-96.7 209.0L-97.5 208.9L-97.8 209.4L-98.0 210.2L-97.8 211.2L-98.0 211.5L-98.9 211.5L-99.9 212.1L-100.0 212.9L-100.4 213.2L-101.4 213.2L-102.1 213.7L-102.1 214.4L-102.9 214.8L-103.9 214.7L-104.9 215.2L-105.8 215.2L-107.0 215.7L-107.3 216.6L-107.3 217.1L-109.0 217.8L-111.7 218.6L-113.2 219.8L-114.1 219.9L-114.6 219.8L-115.4 220.5L-116.6 220.8L-118.0 221.0L-118.5 221.0L-118.8 221.5L-119.3 221.5L-119.5 222.0L-120.3 222.0L-120.8 222.1L-122.0 222.1L-122.5 221.1L-122.3 220.1L-122.7 219.6L-123.0 218.4L-123.5 217.8L-123.2 217.6L-123.4 216.9L-123.2 216.6L-123.2 215.9L-123.5 215.1L-124.0 214.6L-124.0 213.9L-124.9 213.4L-125.9 211.9L-126.4 210.5L-127.6 209.4L-128.3 209.2L-129.4 207.5L-129.6 206.3L-129.8 205.0L-130.5 203.5L-131.3 202.8L-132.2 202.5L-132.7 201.5L-132.7 201.1L-133.2 200.3L-133.7 200.0L-134.4 198.6L-135.4 197.3L-136.2 196.1L-137.1 196.1L-136.7 195.3L-136.7 194.4L-136.5 193.7L-137.1 194.4L-137.4 195.8L-137.7 196.6L-138.2 196.9L-138.7 196.3L-139.6 195.6L-140.8 193.1L-140.9 190.7L-140.9 190.7M467.6 190.7L470.1 191.1L471.0 190.9L471.5 190.2L472.2 188.2L473.0 186.3L473.7 185.2L473.7 183.8L473.5 182.3L474.2 181.6L473.2 181.8L471.7 181.5L470.5 182.5L467.9 182.7L466.6 181.8L464.7 181.6L464.4 182.3L463.2 182.7L461.5 181.6L459.7 181.6L459.1 180.5L457.5 179.1L458.3 177.8L457.3 176.9L457.3 175.9L458.0 175.6L459.1 175.4L461.7 175.3L462.4 174.1L465.6 174.3L467.6 173.2L469.6 172.7L472.5 172.7L475.4 173.9L477.7 174.6L479.8 174.3L481.3 174.4L483.3 173.6L483.5 171.7L480.6 170.4L478.4 168.9L476.4 168.2L477.6 165.7L479.1 163.8L476.2 164.3L473.2 165.2L472.0 166.2L472.5 167.2L474.7 166.9L473.7 167.9L472.0 168.0L469.8 168.5L467.9 167.2L469.8 166.2L467.9 165.9L466.6 165.0L464.9 165.2L463.7 166.4L463.0 167.2L461.5 168.7L461.3 169.9L460.2 171.6L460.3 172.7L461.9 173.9L461.0 174.4L459.7 174.4L457.6 174.8L455.9 174.6L454.2 174.6L453.1 174.9L451.9 175.6L451.2 175.1L451.5 176.6L452.4 177.4L451.9 178.8L453.6 179.1L451.9 180.1L451.5 181.5L451.0 182.1L449.7 181.5L449.0 180.1L448.7 179.0L448.0 178.1L447.1 176.8L446.3 175.3L445.8 173.7L446.0 172.9L445.1 172.6L444.3 171.9L442.6 170.9L440.7 170.2L439.5 169.7L438.7 168.9L438.2 167.9L437.2 167.4L436.2 167.5L436.0 166.5L434.3 167.0L433.8 167.4L434.0 167.9L433.8 169.0L435.1 170.2L436.2 170.7L436.8 171.7L438.5 172.7L440.0 172.9L440.0 173.7L442.1 174.6L443.4 175.1L444.3 175.8L443.8 176.4L442.4 175.6L441.6 175.4L440.9 176.4L442.1 177.1L441.9 177.9L441.1 178.1L440.2 179.5L439.4 179.1L439.9 178.1L440.2 176.8L439.0 176.1L438.2 175.6L437.7 174.9L436.8 174.8L436.0 174.1L434.8 173.9L433.5 173.2L431.9 172.1L430.7 171.2L430.2 169.5L429.4 169.2L428.0 168.7L427.2 169.0L426.4 169.7L425.5 169.9L424.0 170.9L422.6 170.7L420.8 170.4L419.3 170.4L418.2 170.9L418.1 171.9L418.4 172.9L416.5 174.1L414.4 174.4L414.4 174.9L413.2 175.9L412.5 177.3L413.2 178.3L412.2 179.0L411.8 180.1L410.6 180.5L409.5 181.6L407.3 181.6L405.6 181.6L404.5 182.3L403.9 183.0L403.0 182.3L402.5 182.1L402.0 181.3L400.3 181.0L399.6 181.5L398.8 181.0L398.0 181.3L398.3 180.0L398.1 179.0L397.3 178.8L396.9 178.3L397.1 177.1L397.8 176.4L398.1 174.8L398.1 174.1L398.0 172.9L398.0 172.2L397.3 171.2L397.6 170.7L399.5 169.9L401.5 170.1L403.9 170.1L405.7 170.4L407.1 170.2L409.8 170.4L410.6 169.4L411.0 167.7L411.0 165.7L410.0 165.2L409.3 164.2L408.1 163.3L405.4 162.8L405.2 161.5L407.4 161.1L408.4 161.8L410.3 161.7L410.3 160.6L409.8 159.6L411.3 160.5L413.2 160.3L415.2 159.1L415.7 157.8L417.2 157.5L418.6 157.1L419.4 156.6L420.3 156.1L420.9 154.8L421.3 153.9L423.0 153.6L425.0 153.1L426.7 153.4L427.9 152.6L427.5 151.9L427.4 150.6L426.7 150.1L426.7 148.4L427.0 147.9L427.4 147.4L428.9 147.2L429.9 146.5L430.9 146.4L430.7 147.2L430.2 147.7L430.6 148.9L431.4 148.4L431.1 149.1L430.9 150.7L429.7 150.9L429.7 151.7L431.4 151.9L431.6 152.6L433.1 152.2L434.1 151.7L436.0 152.4L437.2 152.7L439.7 152.2L440.7 151.7L442.8 151.2L444.4 151.4L444.6 151.9L446.3 151.9L447.7 151.1L449.0 150.6L448.7 149.6L448.7 147.9L449.5 146.9L451.0 146.2L452.4 147.5L453.7 147.5L454.2 146.0L454.2 145.2L452.6 144.9L452.4 143.8L454.6 143.3L456.8 143.2L458.6 143.3L460.5 143.3L462.2 142.5L464.1 142.7L460.5 141.7L457.5 141.8L454.4 142.3L451.7 142.8L450.7 141.8L449.0 141.3L449.3 139.6L448.7 138.1L449.3 137.1L450.9 136.1L454.8 134.3L455.9 133.9L455.8 133.3L454.8 132.9L450.5 132.9L448.8 134.1L449.2 135.1L446.5 136.5L443.1 138.0L441.9 140.3L443.1 141.5L444.8 142.3L443.3 144.3L441.4 144.7L440.7 147.5L439.9 149.1L437.8 148.9L436.8 150.2L434.8 150.2L434.3 148.7L432.9 146.9L431.6 144.3L430.6 143.3L427.2 145.4L424.8 145.7L422.6 144.9L422.0 143.0L421.5 140.8L423.0 138.1L427.5 136.6L430.7 134.9L434.0 132.6L438.0 129.4L440.7 128.1L445.5 126.0L449.2 125.2L451.9 125.4L454.4 124.0L457.6 124.0L460.7 123.9L465.9 124.9L463.7 125.4L465.6 126.4L467.3 125.9L470.1 126.9L474.7 127.2L481.1 129.2L482.5 129.9L482.5 131.1L480.6 131.9L477.9 132.4L470.3 131.1L469.1 131.4L471.8 132.6L472.0 135.1L474.2 135.6L475.5 136.1L475.7 135.3L474.7 134.4L475.9 133.9L479.9 134.9L481.3 134.4L480.3 133.3L484.2 131.6L487.2 132.3L488.2 131.1L486.9 130.1L487.7 129.1L486.5 128.1L491.3 128.6L492.1 129.6L490.1 129.7L490.1 130.7L494.0 130.9L494.3 129.9L497.9 129.1L503.8 127.5L505.1 127.7L503.4 128.7L505.5 128.9L506.6 128.4L509.9 128.2L512.4 127.5L514.3 128.6L516.3 127.5L514.4 126.5L515.4 125.9L520.3 126.5L522.7 127.0L528.8 128.9L530.0 128.1L528.3 127.2L528.1 126.7L526.1 126.5L526.8 125.7L525.7 124.5L525.7 124.0L528.8 122.5L530.0 121.0L531.2 120.7L535.7 121.0L536.1 122.0L534.4 123.3L535.6 123.9L536.1 125.0L535.7 127.4L537.6 128.4L536.7 129.6L533.5 131.9L535.4 132.1L536.1 131.6L537.9 131.1L538.4 130.2L539.9 129.4L538.9 128.6L539.6 127.4L537.8 127.2L537.4 126.4L538.8 124.7L536.6 123.3L539.6 122.2L539.3 121.0L540.1 120.8L541.0 121.8L540.3 123.5L542.1 123.7L541.3 122.5L544.2 121.8L547.7 121.8L550.8 122.7L549.2 121.3L549.1 119.7L552.1 119.1L556.2 119.3L559.7 119.1L558.4 118.1L560.4 117.1L562.3 117.1L565.6 116.3L570.0 116.0L570.5 115.6L575.1 115.5L576.5 115.8L580.2 114.9L583.4 114.9L583.7 114.1L585.4 113.4L589.5 112.8L592.4 113.3L590.0 113.8L592.4 113.9L594.2 114.8L595.9 114.4L600.8 114.4L604.5 115.3L605.9 116.0L605.5 116.8L603.7 117.3L599.3 118.1L597.9 118.6L600.0 119.0L602.5 119.3L604.0 119.0L604.9 120.2L605.7 119.7L608.4 119.3L613.8 119.7L614.2 120.5L621.3 120.7L621.4 119.5L625.0 119.7L627.7 119.7L630.4 120.5L631.2 121.7L630.2 122.5L632.2 123.7L634.9 124.4L636.6 122.7L639.3 123.3L642.2 122.8L645.4 123.5L646.6 123.0L649.5 123.2L648.1 121.7L650.5 121.0L665.7 122.0L667.2 123.0L671.5 124.4L678.4 124.0L681.8 124.2L683.1 124.9L683.0 126.2L685.0 126.7L687.4 126.4L690.4 126.2L693.4 126.5L696.6 126.4L699.7 127.9L701.7 127.4L700.4 126.2L701.2 125.5L706.5 126.0L710.0 125.9L714.9 126.7L717.3 127.4M717.3 134.1L715.1 134.9L712.9 134.8L714.4 135.6L715.4 137.0L716.3 137.5L715.9 138.6L712.9 138.3L708.1 139.5L706.6 139.6L704.1 140.8L701.6 142.0L700.9 142.7L698.5 141.5L694.1 142.8L693.3 142.2L691.7 143.0L689.4 142.7L688.9 143.8L686.8 145.5L686.8 146.2L688.9 146.5L688.7 148.9L687.0 149.1L686.3 150.4L687.0 151.1L684.1 152.1L683.5 153.9L680.9 154.3L680.4 156.1L678.1 157.6L677.4 156.4L676.7 153.9L675.7 150.2L676.5 147.9L678.1 146.9L678.1 146.2L680.8 145.7L683.8 143.7L686.7 142.0L689.7 140.7L691.1 138.1L689.0 138.3L688.0 139.8L683.6 141.7L682.3 139.5L677.9 140.1L673.7 142.8L675.0 144.0L671.3 144.3L668.8 144.5L668.8 143.3L666.2 143.0L664.0 143.8L659.0 143.7L653.4 144.2L647.9 147.4L641.4 151.4L644.1 151.6L644.9 152.6L646.6 152.9L647.6 152.1L649.5 152.2L651.9 154.1L652.0 155.6L650.7 157.3L650.5 159.3L649.8 162.0L647.3 164.3L646.6 165.5L644.4 167.5L642.0 169.4L641.0 170.4L638.7 171.4L637.7 171.4L636.6 170.6L634.3 171.7L634.1 172.4L633.4 172.2L632.2 173.4L632.2 174.4L631.4 174.9L630.4 175.8L629.3 176.1L628.5 176.4L628.5 177.3L629.9 178.5L631.4 180.5L631.9 181.5L631.9 183.5L631.2 184.3L629.7 184.7L628.4 185.3L626.8 185.5L626.7 184.7L627.0 183.3L626.2 181.6L627.5 181.3L626.3 180.0L625.5 179.6L625.3 178.8L624.6 178.3L624.5 176.8L623.1 176.3L621.8 176.6L620.8 176.8L619.4 177.4L618.2 177.1L618.4 177.9L617.5 177.9L618.6 176.3L619.6 175.4L618.6 174.6L617.2 175.1L615.2 176.3L614.2 177.3L612.5 177.4L611.6 178.3L612.6 179.3L614.0 179.6L614.0 180.5L615.3 180.8L617.2 179.6L618.7 180.3L620.1 180.5L620.1 181.3L617.7 181.6L616.9 182.7L615.3 183.5L614.5 184.7L616.2 185.5L616.9 187.2L617.9 188.7L619.1 190.0L619.1 191.4L618.0 191.7L618.4 192.7L619.4 193.2L618.7 195.9L617.7 196.1L616.5 197.8L615.2 200.1L614.2 201.3L613.7 202.1L611.3 203.7L608.9 205.0L607.1 205.2L606.0 206.0L605.4 205.5L604.4 206.2L602.0 207.0L600.3 207.3L599.6 209.2L598.8 209.2L598.3 208.0L598.8 207.3L596.4 206.8L595.6 207.0L593.4 208.5L592.0 210.0L591.7 211.2L592.9 213.1L594.5 215.2L596.1 216.3L597.1 217.6L597.8 220.8L597.6 223.6L596.2 224.8L594.2 225.8L592.9 227.3L590.8 228.9L590.2 227.8L590.7 226.7L589.3 225.7L588.0 225.5L587.3 224.5L586.4 222.8L584.9 222.1L583.4 222.1L583.7 220.8L582.2 220.8L582.0 222.6L580.7 224.9L580.7 227.8L581.9 227.8L582.5 229.4L582.9 230.9L583.7 231.7L584.7 232.0L585.6 232.9L586.1 233.2L587.1 234.1L587.8 235.1L587.8 236.2L587.6 237.1L587.8 237.6L588.0 238.6L588.6 239.1L589.1 240.6L589.1 241.1L588.0 241.3L586.4 240.0L584.4 238.6L584.2 237.8L583.2 236.7L583.1 235.2L582.4 234.4L582.5 233.2L582.2 232.4L581.5 231.9L581.2 231.0L580.3 230.0L579.5 229.2L579.2 230.2L579.0 229.2L579.2 228.2L579.7 226.7L579.5 225.3L580.0 224.1L579.3 223.1L579.5 221.3L578.8 220.5L578.3 218.4L578.0 216.3L577.3 214.9L576.1 215.7L574.3 216.9L573.2 216.8L572.2 216.4L572.7 214.2L572.4 212.7L571.1 210.7L571.4 210.2L570.4 209.9L569.2 208.5L568.7 207.7L568.5 206.8L568.2 206.0L567.5 205.0L566.0 205.0L566.2 205.7L565.6 206.7L564.8 206.3L564.6 206.5L564.1 206.4L563.4 206.2L563.3 206.8L562.1 206.8L560.0 207.2L560.1 208.5L559.2 209.4L556.9 210.5L555.0 212.6L553.6 213.6L552.0 214.7L552.0 215.4L551.1 215.9L549.6 216.5L548.7 216.6L548.2 217.9L548.6 220.1L548.7 221.5L548.1 223.0L548.1 225.8L547.0 226.0L546.4 227.3L546.9 227.8L545.4 228.3L544.7 229.4L544.0 229.9L542.5 228.3L541.6 226.0L541.0 224.3L540.5 223.5L539.6 222.0L539.1 219.8L538.8 218.8L537.2 216.4L536.6 213.2L536.1 211.0L536.1 209.0L535.7 207.3L533.4 208.4L532.2 208.2L530.0 206.2L530.7 205.5L530.1 205.0L528.3 203.5L526.9 203.1L526.4 201.8L525.2 200.6L522.0 201.0L519.3 201.0L517.0 201.1L513.7 200.6L511.9 200.3L510.0 200.1L509.3 198.0L508.5 197.8L507.2 198.0L505.5 198.8L503.4 198.3L501.7 196.9L500.1 196.4L499.0 194.9L497.7 192.7L496.8 192.9L495.7 192.4L495.2 193.1L494.1 192.9L494.5 193.7L494.3 194.1L494.8 195.3L495.5 196.8L496.3 197.1L496.7 197.8L497.9 198.4L497.7 199.8L498.4 200.8L498.7 201.3L498.9 201.6L499.4 199.5L500.2 200.0L500.2 201.0L499.9 202.0L500.2 202.6L500.9 203.0L503.3 202.6L504.3 202.8L505.5 201.6L506.6 200.6L507.8 199.5L508.3 198.9L508.5 199.1L508.3 199.8L508.2 200.1L508.3 201.5L509.0 202.6L510.0 203.1L511.2 203.5L512.2 203.7L513.6 205.2L514.1 205.5L514.1 205.8L513.2 207.3L512.6 207.9L511.9 209.0L511.0 208.9L510.7 209.4L510.5 210.2L510.7 211.2L510.5 211.5L509.7 211.5L508.7 212.1L508.5 212.9L508.2 213.2L507.2 213.2L506.5 213.7L506.5 214.4L505.6 214.8L504.6 214.7L503.6 215.2L502.8 215.2L501.6 215.7L501.2 216.6L501.2 217.1L499.5 217.8L496.8 218.6L495.3 219.8L494.5 219.9L494.0 219.8L493.1 220.5L491.9 220.8L490.6 221.0L490.1 221.0L489.7 221.5L489.2 221.5L489.1 222.0L488.2 222.0L487.7 222.1L486.5 222.1L486.0 221.1L486.2 220.1L485.9 219.6L485.5 218.4L485.0 217.8L485.3 217.6L485.2 216.9L485.3 216.6L485.3 215.9L485.0 215.1L484.5 214.6L484.5 213.9L483.7 213.4L482.6 211.9L482.1 210.5L481.0 209.4L480.3 209.2L479.1 207.5L478.9 206.3L478.8 205.0L478.1 203.5L477.2 202.8L476.4 202.5L475.9 201.5L475.9 201.1L475.4 200.3L474.9 200.0L474.2 198.6L473.2 197.3L472.3 196.1L471.5 196.1L471.8 195.3L471.8 194.4L472.0 193.7L471.5 194.4L471.1 195.8L470.8 196.6L470.3 196.9L469.8 196.3L469.0 195.6L467.8 193.1L467.6 190.7L467.6 190.7M604.7 280.3L605.4 282.1L605.2 284.3L606.0 287.5L604.5 287.1L605.2 288.0L605.9 289.7L606.7 291.2L607.4 292.9L607.6 294.7L608.6 296.4L608.7 298.1L608.4 299.6L607.4 299.7L607.4 300.8L608.4 301.1L610.1 302.1L612.1 302.3L613.7 301.6L615.2 300.8L616.4 300.3L618.0 300.1L620.2 300.3L621.8 300.1L622.9 298.7L624.5 298.2L626.2 297.4L627.8 297.6L629.5 296.9L631.9 296.4L633.8 296.4L634.9 296.2L636.6 297.1L638.7 297.9L640.0 298.1L640.5 299.1L641.5 300.9L642.4 301.9L643.2 300.9L644.4 299.7L645.4 298.9L646.1 298.1L645.9 299.6L645.4 300.6L645.4 301.9L646.4 301.4L647.0 301.3L647.3 302.3L647.1 303.1L648.1 303.3L649.0 303.9L649.5 305.1L649.5 306.1L650.7 307.1L652.4 307.6L654.2 308.0L655.6 308.5L657.3 307.3L657.9 307.8L659.0 308.1L660.3 308.8L661.3 308.1L662.7 307.1L663.7 306.8L665.5 306.8L666.4 305.6L666.7 304.5L667.1 303.3L667.9 302.1L668.4 300.9L669.3 299.4L669.9 298.6L670.8 298.1L671.5 296.4L671.8 294.4L671.8 292.9L672.6 291.3L672.5 290.2L671.8 288.7L672.0 287.1L671.8 286.1L671.5 285.8L670.6 285.0L669.3 283.8L668.1 282.9L667.7 280.9L666.9 280.9L665.7 279.4L664.5 277.9L663.3 277.1L661.5 276.1L660.5 275.2L660.1 273.9L659.6 272.5L659.1 271.2L658.8 270.0L658.8 268.5L658.6 268.3L657.4 267.2L656.4 267.2L655.7 265.8L655.7 264.5L655.1 264.1L654.9 263.3L654.4 262.1L653.9 261.3L653.7 262.1L653.2 263.3L652.5 264.1L652.2 266.3L652.5 267.8L652.4 269.0L652.0 270.2L651.5 271.4L650.7 272.5L649.8 273.0L648.5 272.5L647.3 271.5L646.3 270.9L644.8 270.0L643.4 269.5L641.9 268.5L642.0 267.7L642.9 266.3L643.7 265.8L644.4 264.1L643.7 263.3L642.6 263.8L641.9 263.5L640.7 263.3L639.5 263.1L637.1 262.6L637.1 263.6L636.0 262.3L634.8 263.8L633.8 264.1L633.1 265.3L633.3 266.3L632.4 267.5L631.7 267.5L632.2 268.7L630.0 268.3L628.9 267.3L627.8 266.5L626.3 267.2L625.5 267.7L624.6 268.0L623.8 269.2L623.3 270.7L621.6 271.2L621.9 272.5L620.6 271.5L619.7 272.5L619.6 273.9L618.6 274.9L617.7 276.1L616.2 276.7L614.5 276.9L612.8 277.6L611.5 278.1L610.3 277.9L608.7 278.7L607.2 279.6L606.7 280.9L605.9 279.9L604.7 280.3L604.7 280.3M289.6 111.4L297.2 108.6L304.8 106.9L311.6 105.5L325.1 104.9L336.9 104.5L348.8 103.0L358.9 102.9L370.7 103.4L379.2 104.5L389.3 105.9L392.7 106.7L384.3 108.7L381.7 111.4L380.0 113.9L381.7 116.5L379.5 118.5L376.7 120.5L375.3 122.0L376.1 124.2L373.3 125.0L369.9 126.7L364.8 128.6L359.2 128.9L355.0 131.4L350.1 132.9L345.6 133.8L344.5 135.3L342.7 137.5L341.0 139.8L339.8 141.7L338.1 142.7L335.9 141.5L332.7 140.8L330.5 139.6L328.6 137.8L327.0 135.9L325.4 133.9L323.1 132.3L322.2 130.2L322.9 128.6L326.1 127.9L326.5 126.5L321.7 126.0L320.9 124.4L322.2 123.5L319.5 122.2L318.7 120.2L315.8 118.0L312.4 116.1L306.5 115.3L301.4 115.6L297.2 115.5L293.8 114.3L290.8 113.1L289.6 111.4L289.6 111.4M277.8 119.5L283.7 121.0L289.6 122.7L293.8 124.4L298.1 125.4L299.7 127.0L303.1 128.7L306.5 130.7L308.5 131.4L305.7 133.8L303.5 136.3L302.8 137.8L300.6 139.1L297.2 138.1L293.8 137.1L291.0 136.1L287.9 134.9L284.5 135.3L281.5 134.4L282.0 133.3L287.4 133.1L288.8 131.6L290.3 130.2L288.8 128.7L286.2 127.9L283.2 126.7L280.3 126.0L276.9 126.2L273.5 126.0L269.3 125.7L265.1 125.2L262.6 124.0L261.7 122.0L265.9 120.5L269.3 120.2L274.4 119.3L277.8 119.5L277.8 119.5M211.8 123.0L214.4 121.2L220.3 120.5L227.1 120.8L233.0 120.3L236.4 121.3L239.7 123.0L241.9 125.0L239.7 126.7L235.0 127.4L229.6 127.5L222.8 127.7L217.8 126.7L214.4 126.5L212.2 125.2L211.8 123.0L211.8 123.0M200.3 121.5L202.0 119.5L205.1 118.3L211.0 118.5L216.1 119.7L214.4 120.7L211.0 122.3L207.6 123.3L204.2 123.9L200.3 121.5L200.3 121.5M260.9 114.6L269.3 114.9L277.8 115.1L280.3 113.6L284.5 111.8L290.4 110.9L289.6 109.7L296.4 108.4L304.8 106.7L308.2 105.7L303.1 105.2L294.7 104.9L286.2 104.9L274.4 105.0L264.2 105.5L259.2 106.9L255.8 108.1L251.6 108.6L250.7 110.1L255.8 111.3L258.3 112.6L260.9 114.6L260.9 114.6M262.6 109.7L265.9 108.1L259.2 106.7L252.4 107.2L248.2 108.6L252.4 110.1L257.5 111.6L262.6 109.7L262.6 109.7M250.7 116.6L256.6 114.6L264.2 114.6L271.0 114.8L276.9 116.1L275.2 118.0L265.9 118.1L257.5 117.8L250.7 116.6L250.7 116.6M215.2 115.8L220.3 114.8L227.1 114.8L233.8 115.8L233.1 117.0L227.1 117.5L222.0 118.1L216.9 117.3L215.2 115.8L215.2 115.8M242.3 116.8L247.3 115.3L244.0 114.4L238.0 115.3L238.9 116.6L242.3 116.8L242.3 116.8M240.6 120.7L244.8 119.1L248.7 119.1L249.9 121.3L248.2 122.7L244.8 123.5L241.4 121.8L240.6 120.7L240.6 120.7M251.6 119.3L255.8 118.8L259.7 119.5L257.1 121.2L253.8 122.2L251.6 121.0L251.6 119.3L251.6 119.3M264.2 134.9L266.8 133.3L268.5 132.6L271.9 133.8L275.2 134.9L276.9 136.1L273.5 136.5L271.0 137.0L268.5 137.3L265.9 136.5L264.2 134.9L264.2 134.9M246.5 127.4L250.7 126.4L249.4 128.6L246.5 127.4L246.5 127.4M312.8 163.3L315.0 163.3L317.5 163.3L319.2 164.5L321.4 163.5L322.4 164.8L323.9 163.5L322.9 162.3L322.4 161.1L323.2 159.8L320.4 160.1L319.0 159.1L319.2 156.6L317.5 156.9L316.1 158.1L314.6 160.0L312.8 161.8L312.8 163.3L312.8 163.3M196.0 158.0L198.0 159.3L200.0 160.5L202.0 161.7L204.6 162.0L203.7 160.8L201.7 159.5L199.7 158.6L197.5 157.8L196.0 158.0L196.0 158.0M269.5 206.5L270.5 205.3L272.4 204.8L274.4 204.3L276.8 204.5L279.0 205.7L281.1 206.0L282.7 207.0L285.2 208.0L287.6 209.2L287.1 209.7L285.2 209.9L282.0 209.9L282.5 208.9L281.0 208.4L279.6 207.0L277.1 206.3L274.9 206.0L274.0 205.5L272.4 206.2L270.5 206.7L269.5 206.5L269.5 206.5M287.2 212.4L289.3 210.2L291.6 209.9L294.2 210.2L295.7 211.0L297.4 212.1L295.5 212.6L293.7 212.7L292.3 213.7L290.6 212.9L288.1 212.9L287.2 212.4L287.2 212.4M280.5 212.4L283.0 212.2L284.2 213.1L283.0 213.2L281.8 213.4L280.5 212.6L280.5 212.4M299.2 212.2L302.1 212.4L301.9 213.1L299.4 213.2L299.2 212.2M371.9 133.1L375.3 131.7L379.2 132.3L382.6 132.1L386.0 131.6L388.5 132.3L390.0 133.9L387.8 135.3L384.4 136.1L381.4 136.8L377.8 136.1L374.6 135.9L375.8 134.8L372.6 134.3L375.1 133.8L371.9 133.1L371.9 133.1M403.4 159.1L405.9 158.6L407.3 158.3L409.6 158.3L411.3 158.0L413.5 158.0L415.4 157.3L414.9 156.3L415.9 154.9L415.5 154.4L413.5 154.3L413.2 153.3L412.3 151.7L411.0 151.6L410.3 150.1L409.5 149.4L407.9 149.2L408.8 148.4L410.0 146.7L409.5 146.4L407.1 146.4L407.8 144.9L405.2 144.9L404.4 145.4L403.5 146.5L403.2 147.9L403.5 148.7L402.9 149.7L403.5 150.4L404.7 150.7L404.4 151.2L405.6 151.4L407.1 151.1L407.3 152.1L408.1 152.7L407.8 153.6L405.2 153.8L405.7 154.4L406.1 155.4L404.2 156.3L405.7 156.4L407.6 156.9L405.9 157.3L404.2 157.8L403.4 159.1L403.4 159.1M402.5 155.6L402.9 154.3L402.5 152.7L403.5 151.7L402.9 150.9L400.7 150.4L399.0 150.7L398.6 151.7L396.1 152.2L396.3 153.6L396.9 154.4L395.6 155.8L396.4 156.6L399.0 156.4L401.2 155.8L402.5 155.6L402.5 155.6M431.3 109.6L434.1 110.9L435.8 111.9L440.0 114.6L442.6 113.9L445.1 112.3L448.5 111.3L444.3 109.7L446.8 108.4L451.9 108.2L458.6 108.9L453.6 110.1L450.2 111.3L448.5 113.1L443.4 113.8L438.4 113.6L433.3 111.4L431.3 109.6L431.3 109.6M501.4 123.3L505.1 120.8L507.7 119.0L510.5 117.0L515.3 115.6L520.3 114.9L525.4 114.1L529.1 113.9L527.1 115.3L522.0 116.3L516.1 118.3L511.0 120.0L508.5 121.8L509.0 123.0L510.4 124.5L506.8 124.7L503.4 124.4L501.4 123.3L501.4 123.3M572.7 109.7L577.8 108.4L582.0 107.2L588.8 109.6L589.3 111.3L583.7 111.9L578.7 110.9L572.7 109.7L572.7 109.7M644.6 116.8L649.7 115.5L654.7 116.3L660.6 116.6L658.1 117.6L651.3 118.0L644.6 116.8L644.6 116.8M108.7 127.4L112.1 128.2L117.2 129.7L122.3 130.7L126.1 132.3L123.9 133.3L121.6 133.4L120.6 135.3L116.3 134.4L112.1 133.6L108.7 134.1M717.3 127.4L720.7 128.2L725.7 129.7L730.8 130.7L734.7 132.3L732.5 133.3L730.1 133.4L729.1 135.3L724.9 134.4L720.7 133.6L717.3 134.1M653.0 166.0L654.1 164.8L655.6 165.9L655.4 163.8L654.7 161.0L657.4 161.1L656.4 159.6L655.1 156.6L655.1 154.6L655.2 153.3L654.2 151.9L653.4 152.9L652.7 153.8L652.5 155.6L653.0 157.8L653.2 160.8L652.9 163.0L653.2 165.0L653.0 166.0L653.0 166.0M649.7 173.7L651.7 173.1L655.1 172.9L657.4 171.2L659.1 170.6L658.6 168.9L656.9 169.2L654.1 167.2L652.4 167.0L652.0 169.0L652.0 170.6L650.3 170.6L649.7 172.4L649.7 173.7L649.7 173.7M634.3 186.3L635.1 185.5L637.1 183.8L639.5 183.7L642.2 183.5L643.1 182.8L644.1 180.6L645.1 180.5L644.6 181.5L647.1 179.8L648.6 179.0L649.5 177.3L649.7 175.3L649.5 174.6L650.2 174.1L652.0 173.7L652.2 175.3L653.0 176.9L652.2 178.8L651.3 179.5L651.2 181.3L650.8 183.0L650.2 184.3L649.3 184.7L649.3 183.7L648.0 184.5L647.6 185.2L644.9 185.2L644.2 185.7L644.2 187.0L642.6 187.2L641.5 186.5L641.7 185.2L639.3 185.5L636.8 185.7L635.3 186.2L634.3 186.3L634.3 186.3M632.2 187.5L633.4 186.9L634.4 186.2L635.8 186.9L636.1 188.0L635.1 190.5L633.9 191.2L633.1 190.5L633.3 189.4L632.4 188.4L632.2 187.5L632.2 187.5M636.8 187.0L637.5 186.3L639.9 185.8L640.7 186.5L639.9 187.5L637.8 188.4L636.8 187.0L636.8 187.0M616.0 204.5L617.0 202.1L618.4 200.8L619.1 201.5L618.6 203.5L617.2 206.5L616.2 205.2L616.0 204.5L616.0 204.5M596.6 210.9L598.1 209.7L600.0 209.5L600.6 210.4L600.0 211.9L598.3 212.7L596.7 212.2L596.6 210.9L596.6 210.9M616.9 212.2L618.6 212.4L619.7 212.4L619.6 214.7L619.9 215.7L618.6 216.6L618.4 217.9L618.7 219.4L620.4 219.3L622.4 220.1L622.8 222.1L621.4 221.5L620.2 221.1L618.6 220.1L617.0 219.9L616.9 218.9L615.8 218.3L615.7 215.9L616.4 215.2L616.5 213.7L616.9 212.2L616.9 212.2M619.2 231.5L620.8 230.5L621.9 230.2L622.4 229.5L623.1 229.0L624.3 228.2L625.0 226.8L626.3 227.7L626.7 229.5L626.8 231.2L626.3 232.7L625.3 231.5L625.0 233.2L624.6 233.9L622.9 232.9L622.4 231.7L621.9 230.9L620.6 231.0L619.2 231.5L619.2 231.5M619.2 225.8L620.8 223.8L622.6 223.8L623.1 222.1L625.1 222.3L625.5 224.7L624.3 226.5L624.0 225.2L622.6 226.2L621.4 228.0L619.9 227.3L619.2 225.8L619.2 225.8M611.1 229.2L612.8 227.8L614.7 225.8L615.2 224.3L614.3 225.8L612.5 227.7L611.1 229.2L611.1 229.2M597.3 240.8L598.3 239.9L599.6 240.4L601.0 240.1L602.0 238.4L604.0 238.1L605.4 236.7L606.7 235.6L608.2 234.2L609.4 233.1L610.3 231.7L612.0 232.5L613.5 233.6L614.5 234.2L613.1 235.1L613.5 235.7L612.3 236.4L611.3 237.9L612.5 239.4L612.3 240.3L614.2 241.8L612.1 242.0L611.6 243.3L611.6 244.6L610.1 245.8L609.9 247.5L609.3 250.0L607.2 250.2L606.6 249.2L604.5 248.5L602.5 249.2L601.8 248.3L600.6 248.3L599.3 248.2L599.1 246.0L598.3 245.0L597.4 244.1L597.3 242.6L597.3 240.8L597.3 240.8M574.1 234.1L576.0 234.4L577.8 234.6L579.3 236.1L580.5 237.3L583.1 239.8L584.9 239.8L586.4 241.1L587.3 242.3L588.5 243.1L587.8 244.5L588.8 245.1L589.5 246.5L590.3 247.2L591.5 247.3L592.4 248.5L592.0 250.5L591.8 253.2L590.0 253.2L588.6 251.7L586.4 250.4L585.8 249.3L584.4 248.0L583.6 246.8L582.2 244.5L580.9 243.0L580.2 241.6L579.7 240.3L578.2 239.1L577.3 237.8L576.0 236.7L574.3 234.9L574.1 234.1L574.1 234.1M590.8 254.7L592.2 253.2L594.4 253.4L596.4 254.1L596.6 254.7L599.8 254.9L600.3 254.2L603.3 254.9L603.7 256.1L606.6 256.4L606.7 258.1L604.9 257.2L602.3 257.2L600.0 257.1L597.9 256.2L596.1 256.4L593.0 255.7L591.2 254.9L590.8 254.7L590.8 254.7M607.4 257.4L609.1 257.4L610.8 257.1L613.0 257.2L614.2 257.6L616.5 257.2L618.7 257.6L620.9 257.2L620.6 257.9L617.5 258.3L615.0 258.1L612.5 258.3L610.8 258.4L608.2 258.3L607.4 257.4L607.4 257.4M622.6 258.8L624.5 257.7L627.0 257.4L627.7 257.9L624.5 259.1L622.6 260.6L621.8 260.4L622.6 258.8L622.6 258.8M613.8 248.0L614.8 249.2L615.0 252.5L616.5 252.5L616.5 250.0L617.4 247.7L618.6 250.4L618.4 251.0L620.2 252.4L619.7 250.4L620.8 250.7L619.7 249.0L618.0 246.5L620.1 245.0L621.4 245.0L621.4 244.3L618.0 244.8L616.5 243.5L616.0 242.3L617.4 241.1L620.2 241.6L622.6 241.8L624.6 240.9L623.3 242.6L621.3 242.6L618.6 242.5L616.2 243.0L615.5 243.5L615.0 245.5L613.8 248.0L613.8 248.0M629.2 239.6L630.6 240.6L629.5 242.0L630.6 243.5L629.5 244.8L628.9 242.8L628.4 241.5L629.2 239.6L629.2 239.6M629.4 248.7L632.6 248.0L634.4 248.7L633.6 249.5L630.4 249.3L629.4 248.7L629.4 248.7M634.4 245.7L635.8 244.5L637.7 244.1L639.7 244.6L640.2 247.5L642.0 249.0L643.4 247.2L645.3 246.0L646.8 246.2L648.3 246.8L650.8 247.5L654.2 248.8L657.4 249.9L659.5 251.7L660.6 253.2L662.5 253.5L663.0 254.4L661.3 254.6L661.8 255.7L663.3 256.9L664.4 258.6L666.1 259.4L667.9 260.6L666.6 261.3L664.7 260.6L663.0 260.3L661.7 259.3L660.8 258.3L659.8 256.9L657.6 256.1L656.2 256.6L655.2 257.1L655.4 258.4L654.1 258.9L652.2 258.8L649.8 257.2L648.1 256.9L647.8 257.4L645.6 257.4L646.3 256.1L647.5 255.6L647.0 253.7L646.1 252.4L641.5 250.9L639.0 249.2L637.5 250.2L636.1 248.0L638.0 247.5L639.7 248.2L639.2 247.2L636.5 247.0L635.5 245.8L634.4 245.7L634.4 245.7M663.7 252.5L666.6 252.5L669.3 251.4L670.1 252.4L667.9 253.5L665.7 253.9L663.7 252.5L663.7 252.5M657.6 311.7L659.8 312.3L662.0 312.0L663.7 312.0L663.7 313.9L663.2 315.5L661.7 316.2L659.8 316.5L658.8 314.9L657.6 312.5L657.6 311.7L657.6 311.7M96.4 301.1L97.4 302.1L99.1 302.6L99.9 304.5L101.0 304.6L101.8 306.1L104.0 307.1L105.9 306.5L106.2 307.0L105.3 309.2L103.7 309.3L103.3 310.7L102.0 312.2L100.8 313.2L99.8 312.7L100.4 311.2L99.6 310.3L98.2 309.7L99.6 308.5L99.8 306.1L99.1 304.6L98.4 303.6L97.1 302.6L96.4 301.1L96.4 301.1M704.9 301.1L705.9 302.1L707.6 302.6L708.5 304.5L709.5 304.6L710.3 306.1L712.5 307.1L714.4 306.5L714.7 307.0L713.9 309.2L712.2 309.3L711.9 310.7L710.5 312.2L709.3 313.2L708.3 312.7L709.0 311.2L708.1 310.3L706.8 309.7L708.1 308.5L708.3 306.1L707.6 304.6L707.0 303.6L705.6 302.6L704.9 301.1L704.9 301.1M96.4 311.3L98.2 312.0L98.9 313.0L97.9 314.9L96.6 316.2L95.7 317.1L94.2 317.7L93.2 318.9L92.8 320.4L90.6 321.6L89.0 321.6L86.8 320.9L86.1 320.2L86.6 319.1L88.3 317.6L90.0 317.1L92.0 315.9L93.3 315.0L94.4 313.5L95.0 312.9L95.4 312.0L96.4 311.3L96.4 311.3M704.9 311.3L706.8 312.0L707.5 313.0L706.5 314.9L705.1 316.2L704.3 317.1L702.7 317.7L701.7 318.9L701.4 320.4L699.2 321.6L697.5 321.6L695.3 320.9L694.6 320.2L695.1 319.1L696.8 317.6L698.5 317.1L700.5 315.9L701.9 315.0L702.9 313.5L703.6 312.9L703.9 312.0L704.9 311.3L704.9 311.3M690.2 277.4L692.8 279.3L695.3 280.8L694.3 280.9L691.7 279.3L690.2 277.4L690.2 277.4M496.3 263.5L497.4 265.6L497.9 267.8L498.4 269.3L497.4 269.2L497.0 271.0L496.5 273.2L495.2 276.7L494.0 280.9L492.6 285.1L490.9 285.6L489.2 286.3L487.7 285.1L486.9 282.9L486.2 281.1L486.5 278.9L487.7 277.4L488.1 275.1L487.4 272.5L488.1 270.7L489.9 270.0L491.3 269.8L493.6 267.8L494.1 266.1L495.7 264.3L496.3 263.5L496.3 263.5M547.9 229.9L548.1 227.5L548.7 226.8L550.3 228.9L551.3 230.7L550.9 232.4L549.2 233.3L548.4 232.5L547.9 229.9L547.9 229.9M434.0 179.6L436.0 179.3L439.4 179.0L438.5 180.6L438.5 181.6L437.2 181.1L434.0 180.1L434.0 179.6L434.0 179.6M427.2 174.6L428.6 174.1L429.6 175.3L429.2 177.4L428.2 177.8L427.2 177.4L427.2 176.1L426.9 174.6L427.2 174.6L427.2 174.6M428.9 171.1L429.2 172.4L428.6 173.7L427.5 172.9L427.7 171.7L428.9 171.1L428.9 171.1M452.9 184.0L454.6 183.8L457.5 184.0L457.0 184.5L454.8 184.7L452.7 184.2L452.9 184.0L452.9 184.0M467.6 184.3L468.6 183.8L471.5 183.3L470.3 184.3L468.8 185.2L467.6 184.3L467.6 184.3M-499.8 374.7L-482.9 375.0L-471.1 375.3L-462.6 373.3L-459.2 372.2L-449.1 372.0L-444.0 371.5L-440.7 370.3L-432.2 369.6L-425.4 368.6L-415.3 368.3L-406.8 368.3L-398.4 368.0L-391.6 367.8L-384.9 368.6L-374.7 369.0L-369.7 368.5L-364.6 367.1L-357.8 366.4L-351.1 366.3L-344.3 366.3L-335.8 367.1L-330.8 366.9L-325.7 365.1L-322.3 363.1L-318.1 363.6L-312.2 361.6L-310.5 359.2L-309.6 356.7L-308.0 355.0L-303.7 353.3L-300.3 351.5L-295.3 350.3L-291.9 349.6L-292.7 350.8L-296.1 352.2L-299.5 354.7L-301.2 357.5L-299.2 361.7L-298.7 365.1L-299.5 368.5L-302.0 370.1L-298.7 371.8L-293.6 372.7L-283.4 373.5L-273.3 374.7L-266.5 375.3L-259.8 374.8L-253.0 373.5L-246.3 371.8L-239.5 370.1L-232.7 368.5L-226.0 366.6L-219.2 365.3L-214.1 363.6L-207.4 362.6L-200.6 362.9L-195.5 362.2L-187.1 361.6L-178.6 361.2L-170.2 361.4L-161.7 361.2L-153.3 361.2L-144.8 360.2L-139.8 360.1L-133.0 359.7L-127.9 358.5L-119.5 357.2L-114.4 356.4L-107.6 354.9L-102.6 355.2L-97.5 356.2L-90.7 356.7L-84.0 357.2L-78.9 357.9L-75.5 360.1L-72.1 361.4L-68.8 360.6L-65.4 359.7L-62.0 357.9L-55.2 355.9L-46.8 355.4L-38.3 354.9L-29.9 354.5L-24.8 354.2L-18.1 354.5L-9.6 354.5L-4.5 355.2L0.5 355.9L7.3 355.5L15.8 355.0L24.2 354.7L32.7 354.7L41.1 355.5L46.2 355.9L51.3 356.9L58.0 358.4L63.1 358.9L69.8 359.7L74.9 360.9L81.7 362.1L86.8 362.4L92.2 363.3L92.7 364.8L91.0 366.4L85.9 368.0L82.5 369.6L79.5 371.8L80.8 373.2L85.1 374.2L91.8 374.3L100.3 374.7L108.7 374.7M108.7 374.7L125.6 375.0L137.5 375.3L145.9 373.3L149.3 372.2L159.4 372.0L164.5 371.5L167.9 370.3L176.3 369.6L183.1 368.6L193.2 368.3L201.7 368.3L210.2 368.0L216.9 367.8L223.7 368.6L233.8 369.0L238.9 368.5L244.0 367.1L250.7 366.4L257.5 366.3L264.2 366.3L272.7 367.1L277.8 366.9L282.8 365.1L286.2 363.1L290.4 363.6L296.4 361.6L298.1 359.2L298.9 356.7L300.6 355.0L304.8 353.3L308.2 351.5L313.3 350.3L316.6 349.6L315.8 350.8L312.4 352.2L309.0 354.7L307.4 357.5L309.4 361.7L309.9 365.1L309.0 368.5L306.5 370.1L309.9 371.8L315.0 372.7L325.1 373.5L335.2 374.7L342.0 375.3L348.8 374.8L355.5 373.5L362.3 371.8L369.0 370.1L375.8 368.5L382.6 366.6L389.3 365.3L394.4 363.6L401.2 362.6L407.9 362.9L413.0 362.2L421.5 361.6L429.9 361.2L438.4 361.4L446.8 361.2L455.3 361.2L463.7 360.2L468.8 360.1L475.5 359.7L480.6 358.5L489.1 357.2L494.1 356.4L500.9 354.9L506.0 355.2L511.0 356.2L517.8 356.7L524.6 357.2L529.6 357.9L533.0 360.1L536.4 361.4L539.8 360.6L543.2 359.7L546.5 357.9L553.3 355.9L561.8 355.4L570.2 354.9L578.7 354.5L583.7 354.2L590.5 354.5L598.9 354.5L604.0 355.2L609.1 355.9L615.8 355.5L624.3 355.0L632.8 354.7L641.2 354.7L649.7 355.5L654.7 355.9L659.8 356.9L666.6 358.4L671.6 358.9L678.4 359.7L683.5 360.9L690.2 362.1L695.3 362.4L700.7 363.3L701.2 364.8L699.5 366.4L694.5 368.0L691.1 369.6L688.0 371.8L689.4 373.2L693.6 374.2L700.4 374.3L708.8 374.7L717.3 374.7M717.3 374.7L734.2 375.0L746.0 375.3L754.5 373.3L757.8 372.2L768.0 372.0L773.1 371.5L776.4 370.3L784.9 369.6L791.6 368.6L801.8 368.3L810.2 368.3L818.7 368.0L825.5 367.8L832.2 368.6L842.4 369.0L847.4 368.5L852.5 367.1L859.3 366.4L866.0 366.3L872.8 366.3L881.2 367.1L886.3 366.9L891.4 365.1L894.8 363.1L899.0 363.6L904.9 361.6L906.6 359.2L907.4 356.7L909.1 355.0L913.4 353.3L916.7 351.5L921.8 350.3L925.2 349.6L924.3 350.8L921.0 352.2L917.6 354.7L915.9 357.5L917.9 361.7L918.4 365.1L917.6 368.5L915.0 370.1L918.4 371.8L923.5 372.7L933.6 373.5L943.8 374.7L950.5 375.3L957.3 374.8L964.1 373.5L970.8 371.8L977.6 370.1L984.4 368.5L991.1 366.6L997.9 365.3L1002.9 363.6L1009.7 362.6L1016.5 362.9L1021.5 362.2L1030.0 361.6L1038.4 361.2L1046.9 361.4L1055.4 361.2L1063.8 361.2L1072.3 360.2L1077.3 360.1L1084.1 359.7L1089.2 358.5L1097.6 357.2L1102.7 356.4L1109.4 354.9L1114.5 355.2L1119.6 356.2L1126.3 356.7L1133.1 357.2L1138.2 357.9L1141.6 360.1L1144.9 361.4L1148.3 360.6L1151.7 359.7L1155.1 357.9L1161.8 355.9L1170.3 355.4L1178.8 354.9L1187.2 354.5L1192.3 354.2L1199.0 354.5L1207.5 354.5L1212.6 355.2L1217.6 355.9L1224.4 355.5L1232.8 355.0L1241.3 354.7L1249.7 354.7L1258.2 355.5L1263.3 355.9L1268.3 356.9L1275.1 358.4L1280.2 358.9L1286.9 359.7L1292.0 360.9L1298.8 362.1L1303.8 362.4L1309.3 363.3L1309.8 364.8L1308.1 366.4L1303.0 368.0L1299.6 369.6L1296.6 371.8L1297.9 373.2L1302.2 374.2L1308.9 374.3L1317.4 374.7L1325.8 374.7M588.3 156.6L590.3 156.4L593.0 154.9L596.2 153.4L598.3 150.1L597.6 149.6L596.2 152.2L593.0 153.9L590.5 155.4L588.3 156.6ZM538.1 165.2L540.6 165.0L543.2 165.3L547.0 165.2L545.7 166.4L541.5 166.4L538.1 165.2ZM257.3 164.8L260.4 165.0L263.9 164.3L267.6 165.0L270.0 165.2L270.0 164.3L269.3 162.8L266.8 161.5L263.7 161.3L261.5 162.7L257.3 164.8ZM264.6 173.2L265.6 173.4L267.1 172.2L267.3 170.1L268.6 167.4L269.7 166.4L266.8 166.2L265.1 167.5L264.6 169.4L264.6 173.2ZM270.0 166.2L271.9 165.9L275.6 165.9L277.3 166.7L277.9 168.2L275.6 167.4L274.9 168.4L273.5 170.9L271.9 169.4L272.2 168.7L271.9 167.2L270.0 166.2ZM272.0 173.2L275.2 173.4L277.8 172.4L279.6 171.4L277.1 171.7L274.7 172.2L272.5 172.6L272.0 173.2ZM278.1 170.6L280.3 170.4L283.7 170.2L284.0 169.0L281.8 169.4L278.8 169.9L278.1 170.6ZM248.7 158.5L250.2 156.8L248.2 153.3L246.2 153.4L247.7 155.6L248.7 158.5ZM215.2 140.8L220.3 141.0L224.5 139.8L222.8 138.6L219.4 138.5L216.9 139.6L215.2 140.8ZM201.7 134.1L205.1 134.4L209.3 133.1L212.7 131.6L208.5 130.7L204.2 131.9L201.7 134.1ZM466.8 245.0L467.8 242.8L470.3 243.1L470.6 245.1L469.3 247.3L467.4 247.8L466.6 246.5L466.8 245.0ZM462.4 249.0L462.9 251.7L463.0 254.4L464.6 256.9L465.6 257.7L464.7 255.1L463.5 252.5L462.5 249.0ZM471.0 259.3L471.5 262.6L471.1 265.1L472.3 267.3L472.7 266.0L472.0 263.0L471.7 260.3L471.0 259.3ZM463.5 142.5L464.7 140.0L468.4 140.3L468.3 141.7L466.2 142.5L463.5 142.5ZM470.8 140.8L473.0 140.5L474.4 139.1L472.5 137.6L471.3 138.3L470.8 140.8ZM294.8 269.0L295.9 270.0L296.7 270.7L295.5 269.5L294.8 269.0ZM435.8 221.1L437.0 220.1L437.7 221.1L437.0 221.8L435.8 221.1Z" fill="none" stroke="#000" stroke-width="0.75" stroke-linejoin="round"/>
<path d="M204.6 161.0L227.1 161.0L252.1 161.0L252.1 160.3L253.1 161.5L255.8 161.7L258.3 162.5L261.5 162.7M273.7 171.1L273.5 171.7L272.5 172.6M279.5 170.7L279.3 170.2M283.9 169.0L286.7 167.7L292.1 167.7L293.3 167.0L294.3 165.5L296.0 163.7L297.5 163.8L298.4 164.2L298.4 166.5L299.6 167.5M174.7 126.4L174.7 142.0L178.0 142.3L180.6 143.8L184.0 142.8L187.3 145.0L191.6 148.9L193.2 149.4L193.2 151.4M215.1 188.7L219.1 188.4L225.4 190.7L230.1 190.7L230.1 189.9L233.0 189.9L236.4 193.6L238.7 194.6L239.9 193.2L241.6 193.2L244.8 197.1L248.7 199.8M257.1 218.9L257.3 218.1L258.0 216.3L260.2 216.3L260.2 214.2L258.5 214.3L262.2 213.4L263.7 212.2M262.2 213.4L262.2 216.6L263.9 216.9M263.9 216.9L262.2 218.8L260.7 220.3M262.0 219.1L264.6 219.9L264.8 221.0M265.4 221.5L268.1 220.1L269.8 218.6L272.4 218.1M268.1 224.5L271.5 225.0M272.9 229.7L273.4 227.2M282.2 228.7L281.3 231.0M290.8 224.7L289.8 225.8L290.6 229.4L291.0 231.0L294.7 231.5L298.9 232.9L298.4 235.7L299.2 237.6L298.4 238.6L299.4 239.6L299.9 241.3M311.6 229.0L309.9 230.7L310.7 231.9L309.5 233.2L310.4 234.6M310.4 234.6L311.9 235.9L312.3 237.4L311.9 239.3L313.6 241.3L316.6 240.1M316.5 233.4L315.0 236.6L316.6 240.1M321.7 233.7L321.0 235.7L321.7 239.6M316.6 240.1L318.5 239.9L321.7 239.6L323.6 239.6L325.8 236.2M310.4 234.6L306.8 236.6L304.5 236.4L303.5 239.3L305.8 239.6L304.8 240.8L302.4 242.0L299.9 241.3M299.9 241.3L295.5 241.5L295.0 240.4L295.5 242.0L294.7 242.3L294.7 243.6L295.7 245.1L294.8 250.4M279.8 240.9L282.0 242.1L285.7 243.5M285.7 243.5L288.4 245.5L290.6 247.3L293.8 249.7L294.8 250.4M285.7 243.5L285.2 246.0L282.8 248.0L280.5 249.3L278.6 250.9L277.3 249.0M294.8 250.4L289.8 252.2L288.1 255.6L289.3 259.1L291.0 260.1L293.7 261.8M295.3 261.6L296.9 264.3L295.7 267.7L296.2 269.3L295.5 272.7M295.3 261.6L297.4 261.8L302.4 259.6L304.1 264.3L308.5 266.0L310.7 266.5L311.4 270.7L314.3 270.7L315.8 273.9M315.8 273.9L314.6 276.6L313.1 275.7L307.7 276.9L307.2 280.6M307.2 280.6L304.3 281.6L302.1 280.4L298.2 281.6M295.5 272.7L297.4 275.9L297.7 279.1L298.2 281.6M294.0 274.2L295.5 272.7M298.2 281.6L299.2 283.6L297.4 287.0L295.2 291.2L294.7 294.5L294.7 298.7L293.8 302.1L293.0 305.5L292.6 310.5L291.6 313.9L292.0 317.2L291.0 320.6L289.8 323.9L289.1 326.5L290.4 329.0L291.5 330.7L297.4 331.2M297.0 331.8L297.0 335.5M307.2 280.6L309.9 283.3L313.3 285.3L315.6 286.0L318.5 289.3L320.7 286.3M320.7 286.3L321.2 283.6L319.4 281.1L315.3 280.4L315.0 276.9L315.8 273.9M320.7 286.3L322.2 287.3L322.1 288.8L318.7 290.3L315.6 294.0M315.6 294.0L314.8 297.1L314.3 300.4M315.6 294.0L318.3 295.2L319.7 295.9L322.6 297.9L322.7 299.9M410.0 184.5L410.1 187.7L406.7 190.2L404.4 192.9L398.3 195.1L398.3 196.8L390.7 196.8M398.3 196.8L398.3 199.6L392.7 199.6L392.7 203.8L390.9 205.0L391.0 207.5L384.3 207.5M398.3 197.4L404.9 201.3L415.0 207.9L420.3 211.0M404.9 201.3L402.0 201.5L403.7 215.7L397.1 217.4L393.6 217.3L392.4 218.8M392.4 218.8L388.8 215.4L385.1 216.3M427.5 181.3L426.9 185.2L425.7 186.5L429.1 192.6M429.1 192.6L429.7 198.8L430.4 202.3L433.1 203.8M429.1 192.6L430.4 190.0L432.4 187.5M433.1 203.8L425.5 208.2L420.3 211.0M455.3 190.2L455.3 206.3M455.3 206.3L475.4 206.3M433.1 203.8L436.7 204.7L439.2 204.0L453.6 210.5L453.6 209.7L455.3 209.7L455.3 206.3M453.6 210.5L453.2 217.1L450.9 219.8L450.2 221.6L451.5 224.3M439.2 204.0L439.9 209.0L438.9 213.2L436.0 219.8M419.1 223.6L420.1 220.6L424.8 221.5L429.9 221.1L436.0 220.3M436.0 220.6L437.7 222.8L438.5 225.7L436.5 227.3L439.2 230.7M439.2 230.7L444.3 228.5L448.5 227.2L451.5 224.3M439.2 230.7L437.5 234.9L440.4 239.6M427.4 235.4L429.2 232.4L432.8 231.7L435.5 226.5L437.7 222.8M417.6 232.5L419.1 227.2L419.1 223.6M419.1 223.6L416.9 222.3L414.7 221.5L413.3 218.3L415.2 217.6L420.1 215.1L420.3 211.0M413.3 218.3L409.6 218.4L407.1 221.0L404.0 224.7M404.0 224.7L399.6 226.2L398.8 224.1L397.1 222.6L393.7 222.5L392.4 218.8M384.8 222.5L389.8 222.0L393.7 222.5M390.5 228.0L394.1 226.5L395.6 229.0L393.6 231.7M398.6 230.4L400.3 235.9M398.6 230.4L399.1 226.3L404.0 224.7M407.6 234.7L408.3 229.5L408.4 227.3L408.1 225.0L413.0 224.7L416.7 223.6L419.1 223.6M415.0 233.1L413.8 229.4L413.0 224.7M416.0 232.9L415.7 228.2L414.5 224.8M433.6 253.4L440.0 253.4L442.8 256.7L445.8 256.7L449.9 255.6L450.2 259.9L453.4 261.6L453.6 265.1M453.6 261.8L450.2 265.1L450.2 270.5L452.4 272.9M432.9 272.4L436.0 271.9L441.6 272.5L448.2 273.5L452.4 272.9M446.8 280.3L446.8 285.0L446.8 291.0L440.9 291.3M448.5 274.0L448.5 280.3L446.8 280.3M446.8 285.0L450.9 287.0L456.3 286.3L459.5 282.8L462.7 280.6M462.7 280.6L460.3 278.6L457.3 275.4L455.8 273.2M462.7 280.6L465.9 280.9M465.9 280.9L467.1 284.3L468.6 288.5M465.9 280.9L467.9 278.6L468.6 274.4L468.6 271.4L464.4 269.5M455.8 273.2L460.3 271.0L464.4 269.5M464.4 269.5L469.1 266.8L468.8 262.6L469.3 259.4M453.6 265.1L458.3 263.1L460.7 264.5L463.4 265.8L462.2 260.6L461.3 257.6L465.1 257.1M465.1 257.1L469.3 259.4M471.5 262.6L476.4 262.8L481.3 260.9M470.3 245.0L476.6 248.3L479.3 251.2M465.1 257.1L462.7 250.9L464.6 247.3L465.1 245.0L470.3 245.0M470.3 245.0L470.3 243.1L472.2 240.1L470.5 236.2M463.0 245.7L463.5 242.0L465.4 239.4L465.1 237.4M465.1 237.4L470.3 236.7M470.5 236.2L473.7 235.6L477.2 237.3L482.3 236.7M482.3 236.7L482.3 244.8L483.3 246.2M482.3 236.7L489.1 235.1L494.0 229.9L487.4 228.2L485.3 225.0M473.7 235.6L471.5 232.4L468.8 230.2L470.8 228.9L470.6 225.5L472.7 222.5L474.5 219.3M474.5 219.3L477.2 218.8L482.1 219.6L484.7 222.3M483.7 224.5L485.3 224.8M453.1 228.7L455.3 226.2L458.1 227.3L462.0 227.2L467.3 223.1L468.8 225.3L470.6 227.3M453.1 228.7L456.6 234.6L459.5 234.7L465.1 237.4M444.4 237.4L447.7 236.1L451.4 235.6L456.6 234.6M433.6 253.0L439.7 250.4L441.1 246.2L442.9 244.1L443.6 239.4L444.4 237.4M431.8 250.0L434.1 247.3L437.5 247.0L437.2 241.6L435.5 241.1L437.7 239.6L440.4 239.6M429.6 239.4L432.1 239.4L435.5 239.6M428.7 241.6L432.1 241.6L432.1 239.4M410.0 170.4L414.2 171.4L418.4 172.1M398.0 172.9L401.8 172.9L402.5 173.4L401.3 174.4L401.5 175.6L401.2 176.6L400.3 176.9L401.2 177.9L400.7 178.8L400.3 180.8M417.2 157.5L420.1 159.5L422.8 160.1L423.8 160.6L426.9 161.0L425.8 163.3L424.7 163.8L423.1 165.7L424.8 166.2L424.5 167.5L425.7 169.7M425.2 153.8L423.3 156.1L423.1 158.0L423.8 158.8L422.8 160.1M427.5 151.1L429.7 151.2M437.0 152.7L437.7 154.9L438.4 157.5L433.5 158.8L436.3 161.3L435.0 163.5L430.7 163.5L429.2 163.5L425.8 163.3M429.1 164.2L430.7 164.5L433.6 164.2L436.2 165.2L436.0 166.5M424.8 166.2L427.2 165.3L428.2 166.2L430.4 165.2L430.7 164.5M438.4 157.5L441.1 159.1L444.8 160.1L451.2 160.8M451.2 160.8L453.6 158.0L452.7 155.1L452.7 152.7L451.5 151.9L446.1 151.9M448.5 149.1L458.0 149.7M454.2 146.0L459.3 146.7M460.3 143.3L459.3 146.7L460.7 148.9L458.0 149.7L452.7 152.7M460.7 148.9L466.8 155.8L464.6 157.1L452.9 156.6M466.8 155.8L471.1 156.3L472.8 158.3L477.6 159.5L480.6 160.0L477.6 164.2M451.2 160.8L455.1 163.2L458.0 162.2L460.3 162.3L463.7 165.2L461.9 167.0M458.0 162.2L460.7 166.9M451.7 162.7L449.0 165.5L447.3 165.9M447.3 165.9L451.4 168.9L461.3 169.9M450.9 173.9L457.0 173.9L457.1 173.1L460.3 172.7M441.7 162.7L451.2 162.0M441.7 162.7L440.9 165.2L444.8 166.2L447.3 165.9M436.0 166.5L439.2 166.9L440.9 165.2M445.8 172.7L447.8 174.3L448.5 175.1L447.3 176.6M433.3 144.3L434.3 140.8L433.6 137.5L436.7 134.9L439.2 131.9L443.4 128.2L447.8 127.2M447.8 127.2L453.1 129.2L453.9 132.8M447.8 127.2L453.6 128.1L457.8 125.9L461.2 127.0L462.0 126.4M461.9 127.4L462.9 130.7L463.9 135.1L465.1 137.5L460.3 141.7M496.2 165.3L492.4 160.6L495.2 158.5L499.7 158.3L507.2 158.5L511.7 157.6L516.6 158.0L516.1 155.9L515.8 154.9L517.3 152.6L523.7 151.6L529.6 150.2L537.2 152.6L541.3 152.9L544.7 153.8L548.2 157.6L554.0 157.6L557.0 160.0L560.6 160.8M560.6 160.8L564.6 159.5L569.0 158.0L578.3 157.6L580.2 155.8L585.9 156.4L592.2 158.8L596.4 160.5L604.0 160.0L610.3 159.5M610.3 159.5L612.3 160.1L615.7 156.3L617.2 153.8L621.9 153.4L626.3 154.6L628.9 159.6L633.8 161.1L636.8 163.8L640.7 162.2L639.3 165.7L635.8 167.2L634.4 168.0L634.9 171.1L633.8 172.1M633.8 172.1L632.2 171.9L629.5 172.7L626.8 173.7L623.1 176.3M627.0 179.8L628.0 179.0L630.0 178.5M561.4 160.6L566.3 163.2L567.2 167.5L574.1 169.0L576.0 171.6L582.0 171.7L590.3 173.4L594.5 172.1L600.6 170.6L602.2 167.5L606.6 167.2L611.5 165.0L615.3 164.8L612.6 162.7L610.3 159.5M560.6 160.8L558.0 163.5L552.6 164.3L552.1 167.0L548.2 167.9L548.7 172.4M548.7 172.4L542.3 175.4L539.6 180.5M539.6 180.5L544.5 183.7L546.7 186.2L546.2 188.7L548.6 191.6L550.1 192.6M550.1 192.6L553.8 193.7L558.4 196.4L562.1 196.4M563.1 197.4L567.8 196.4L572.7 194.4L575.4 193.9L577.6 196.3M577.6 196.3L579.8 198.3L579.0 202.1L581.2 206.2L584.1 207.3M584.1 207.3L586.1 205.7L588.6 205.5L591.8 204.8L595.6 207.2M548.4 194.9L551.6 196.4L555.0 197.4L562.1 198.9M544.5 183.7L539.3 184.7L538.9 188.2L539.1 191.1L537.2 193.1L533.2 196.4L531.7 199.6L532.8 202.3L529.3 203.1M562.1 198.9L562.4 201.6L563.3 206.3M564.8 199.5L569.2 201.3L568.7 204.0L569.2 208.5M577.6 196.3L573.9 198.6L572.2 203.1L570.5 206.0L569.2 208.5M582.2 209.0L578.7 209.0L578.2 212.2L580.2 215.9L579.5 221.1L580.7 225.8M582.2 209.0L584.2 210.5L583.9 213.9L586.8 213.2L590.2 215.7L591.3 219.1M591.3 219.1L587.1 219.3L585.9 220.6L586.9 223.8M594.9 219.1L592.2 224.7L589.5 225.8M588.6 205.5L589.1 208.2L590.7 211.7L593.0 215.4L594.9 219.1M582.2 232.4L585.6 232.9M517.1 201.0L520.0 197.6L517.5 195.3L515.9 193.1M515.9 193.1L525.1 193.2L527.9 189.9L531.8 186.9L533.2 184.5L534.0 181.8L539.6 180.5M515.9 193.1L517.1 190.5L515.3 186.7L516.5 183.5M516.5 183.5L513.4 180.3L509.9 179.3L504.3 180.5M516.5 183.5L518.6 184.0L522.9 180.3L527.6 180.8L533.9 179.6L539.6 180.5M502.6 172.7L507.7 173.9L507.7 167.7L512.7 166.9L516.1 168.7L517.8 170.2L522.7 169.9L524.7 172.7L528.8 174.9L533.0 172.2L538.1 170.7L548.7 172.4M507.7 173.9L509.5 173.9L514.4 172.4L517.6 174.4L523.7 180.6M495.2 193.1L493.6 191.2L493.8 188.2L490.8 187.2L490.1 183.5L488.7 181.0M488.7 181.0L487.7 177.9L488.7 176.6M488.7 181.0L484.7 180.6L482.6 181.0L477.6 181.3L474.9 181.5L473.9 183.0M484.7 180.6L482.6 185.5L478.6 187.2M478.6 187.2L479.3 189.2L475.5 190.4L477.2 192.1L474.0 194.2L472.2 193.9M478.6 187.2L482.3 189.5L488.6 194.2L491.6 194.4L493.6 195.4M473.7 187.7L473.2 188.4L473.0 190.4L472.2 193.7M474.9 185.0L473.9 187.0L472.3 187.7M485.3 215.7L488.2 214.1L492.4 214.9L500.9 211.4L507.2 206.3L506.3 205.2L500.2 202.6M501.2 217.1L502.8 215.2L500.9 211.4M483.3 173.6L486.5 174.3L488.7 176.6M480.6 170.4L484.0 170.7L487.4 171.6L491.4 172.9L494.8 173.1M460.3 172.7L457.6 173.2L457.1 173.9L457.5 174.6M651.3 247.7L651.3 258.6M598.3 240.1L601.5 241.3L606.6 240.8L608.2 238.3L609.1 236.1L612.0 236.2M288.8 250.9L294.7 250.0L298.9 249.2L303.1 248.3L308.2 248.8L311.6 248.7L315.0 248.5L320.0 247.0L325.1 245.8L327.6 244.6M423.8 235.9L424.2 233.2L424.3 230.2L422.8 227.3L420.3 225.7M442.2 244.6L443.9 243.1L446.3 240.6L449.7 239.4L453.9 241.8L455.6 242.5M494.5 153.6L496.0 149.6L493.1 149.1L487.4 148.7L480.6 146.5L475.9 147.7L471.3 147.5M536.4 130.7L529.6 131.4L525.4 131.9L523.7 136.6L529.8 140.8L536.4 140.8L543.2 141.2L550.8 143.3L553.3 147.5M552.5 123.2L559.2 129.1L560.6 132.8L562.3 137.5L563.4 140.0M627.7 121.5L628.5 124.9L625.1 131.6L623.5 136.6L632.2 139.1L626.8 140.8L615.8 141.5L611.6 142.8L606.6 142.0L598.9 145.9L595.9 149.2L593.0 152.6M618.9 190.5L614.2 189.5L610.8 192.1L609.1 193.4L606.2 191.9" fill="none" stroke="#000" stroke-width="0.75" stroke-linejoin="round"/>
</g>
<rect x="100.5" y="97.5" width="620" height="299" fill="none" stroke="#000" stroke-width="1.2" shape-rendering="crispEdges"/>
<g shape-rendering="crispEdges"><rect x="100.00" y="468" width="3.02" height="31" fill="#000080"/><rect x="102.42" y="468" width="3.02" height="31" fill="#000084"/><rect x="104.84" y="468" width="3.02" height="31" fill="#000089"/><rect x="107.27" y="468" width="3.02" height="31" fill="#00008d"/><rect x="109.69" y="468" width="3.02" height="31" fill="#000092"/><rect x="112.11" y="468" width="3.02" height="31" fill="#000096"/><rect x="114.53" y="468" width="3.02" height="31" fill="#00009b"/><rect x="116.95" y="468" width="3.02" height="31" fill="#00009f"/><rect x="119.38" y="468" width="3.02" height="31" fill="#0000a4"/><rect x="121.80" y="468" width="3.02" height="31" fill="#0000a8"/><rect x="124.22" y="468" width="3.02" height="31" fill="#0000ad"/><rect x="126.64" y="468" width="3.02" height="31" fill="#0000b2"/><rect x="129.06" y="468" width="3.02" height="31" fill="#0000b6"/><rect x="131.48" y="468" width="3.02" height="31" fill="#0000bb"/><rect x="133.91" y="468" width="3.02" height="31" fill="#0000bf"/><rect x="136.33" y="468" width="3.02" height="31" fill="#0000c4"/><rect x="138.75" y="468" width="3.02" height="31" fill="#0000c8"/><rect x="141.17" y="468" width="3.02" height="31" fill="#0000cd"/><rect x="143.59" y="468" width="3.02" height="31" fill="#0000d1"/><rect x="146.02" y="468" width="3.02" height="31" fill="#0000d6"/><rect x="148.44" y="468" width="3.02" height="31" fill="#0000da"/><rect x="150.86" y="468" width="3.02" height="31" fill="#0000df"/><rect x="153.28" y="468" width="3.02" height="31" fill="#0000e3"/><rect x="155.70" y="468" width="3.02" height="31" fill="#0000e8"/><rect x="158.12" y="468" width="3.02" height="31" fill="#0000ed"/><rect x="160.55" y="468" width="3.02" height="31" fill="#0000f1"/><rect x="162.97" y="468" width="3.02" height="31" fill="#0000f6"/><rect x="165.39" y="468" width="3.02" height="31" fill="#0000fa"/><rect x="167.81" y="468" width="3.02" height="31" fill="#0000ff"/><rect x="170.23" y="468" width="3.02" height="31" fill="#0000ff"/><rect x="172.66" y="468" width="3.02" height="31" fill="#0000ff"/><rect x="175.08" y="468" width="3.02" height="31" fill="#0000ff"/><rect x="177.50" y="468" width="3.02" height="31" fill="#0000ff"/><rect x="179.92" y="468" width="3.02" height="31" fill="#0004ff"/><rect x="182.34" y="468" width="3.02" height="31" fill="#0008ff"/><rect x="184.77" y="468" width="3.02" height="31" fill="#000cff"/><rect x="187.19" y="468" width="3.02" height="31" fill="#0010ff"/><rect x="189.61" y="468" width="3.02" height="31" fill="#0014ff"/><rect x="192.03" y="468" width="3.02" height="31" fill="#0018ff"/><rect x="194.45" y="468" width="3.02" height="31" fill="#001cff"/><rect x="196.88" y="468" width="3.02" height="31" fill="#0020ff"/><rect x="199.30" y="468" width="3.02" height="31" fill="#0024ff"/><rect x="201.72" y="468" width="3.02" height="31" fill="#0028ff"/><rect x="204.14" y="468" width="3.02" height="31" fill="#002cff"/><rect x="206.56" y="468" width="3.02" height="31" fill="#0030ff"/><rect x="208.98" y="468" width="3.02" height="31" fill="#0034ff"/><rect x="211.41" y="468" width="3.02" height="31" fill="#0038ff"/><rect x="213.83" y="468" width="3.02" height="31" fill="#003cff"/><rect x="216.25" y="468" width="3.02" height="31" fill="#0040ff"/><rect x="218.67" y="468" width="3.02" height="31" fill="#0044ff"/><rect x="221.09" y="468" width="3.02" height="31" fill="#0048ff"/><rect x="223.52" y="468" width="3.02" height="31" fill="#004cff"/><rect x="225.94" y="468" width="3.02" height="31" fill="#0050ff"/><rect x="228.36" y="468" width="3.02" height="31" fill="#0054ff"/><rect x="230.78" y="468" width="3.02" height="31" fill="#0058ff"/><rect x="233.20" y="468" width="3.02" height="31" fill="#005cff"/><rect x="235.62" y="468" width="3.02" height="31" fill="#0060ff"/><rect x="238.05" y="468" width="3.02" height="31" fill="#0064ff"/><rect x="240.47" y="468" width="3.02" height="31" fill="#0068ff"/><rect x="242.89" y="468" width="3.02" height="31" fill="#006cff"/><rect x="245.31" y="468" width="3.02" height="31" fill="#0070ff"/><rect x="247.73" y="468" width="3.02" height="31" fill="#0074ff"/><rect x="250.16" y="468" width="3.02" height="31" fill="#0078ff"/><rect x="252.58" y="468" width="3.02" height="31" fill="#007cff"/><rect x="255.00" y="468" width="3.02" height="31" fill="#0080ff"/><rect x="257.42" y="468" width="3.02" height="31" fill="#0084ff"/><rect x="259.84" y="468" width="3.02" height="31" fill="#0088ff"/><rect x="262.27" y="468" width="3.02" height="31" fill="#008cff"/><rect x="264.69" y="468" width="3.02" height="31" fill="#0090ff"/><rect x="267.11" y="468" width="3.02" height="31" fill="#0094ff"/><rect x="269.53" y="468" width="3.02" height="31" fill="#0098ff"/><rect x="271.95" y="468" width="3.02" height="31" fill="#009cff"/><rect x="274.38" y="468" width="3.02" height="31" fill="#00a0ff"/><rect x="276.80" y="468" width="3.02" height="31" fill="#00a4ff"/><rect x="279.22" y="468" width="3.02" height="31" fill="#00a8ff"/><rect x="281.64" y="468" width="3.02" height="31" fill="#00acff"/><rect x="284.06" y="468" width="3.02" height="31" fill="#00b0ff"/><rect x="286.48" y="468" width="3.02" height="31" fill="#00b4ff"/><rect x="288.91" y="468" width="3.02" height="31" fill="#00b8ff"/><rect x="291.33" y="468" width="3.02" height="31" fill="#00bcff"/><rect x="293.75" y="468" width="3.02" height="31" fill="#00c0ff"/><rect x="296.17" y="468" width="3.02" height="31" fill="#00c4ff"/><rect x="298.59" y="468" width="3.02" height="31" fill="#00c8ff"/><rect x="301.02" y="468" width="3.02" height="31" fill="#00ccff"/><rect x="303.44" y="468" width="3.02" height="31" fill="#00d0ff"/><rect x="305.86" y="468" width="3.02" height="31" fill="#00d4ff"/><rect x="308.28" y="468" width="3.02" height="31" fill="#00d8ff"/><rect x="310.70" y="468" width="3.02" height="31" fill="#00dcfe"/><rect x="313.12" y="468" width="3.02" height="31" fill="#00e0fb"/><rect x="315.55" y="468" width="3.02" height="31" fill="#00e4f8"/><rect x="317.97" y="468" width="3.02" height="31" fill="#02e8f4"/><rect x="320.39" y="468" width="3.02" height="31" fill="#06ecf1"/><rect x="322.81" y="468" width="3.02" height="31" fill="#09f0ee"/><rect x="325.23" y="468" width="3.02" height="31" fill="#0cf4eb"/><rect x="327.66" y="468" width="3.02" height="31" fill="#0ff8e7"/><rect x="330.08" y="468" width="3.02" height="31" fill="#13fce4"/><rect x="332.50" y="468" width="3.02" height="31" fill="#16ffe1"/><rect x="334.92" y="468" width="3.02" height="31" fill="#19ffde"/><rect x="337.34" y="468" width="3.02" height="31" fill="#1cffdb"/><rect x="339.77" y="468" width="3.02" height="31" fill="#1fffd7"/><rect x="342.19" y="468" width="3.02" height="31" fill="#23ffd4"/><rect x="344.61" y="468" width="3.02" height="31" fill="#26ffd1"/><rect x="347.03" y="468" width="3.02" height="31" fill="#29ffce"/><rect x="349.45" y="468" width="3.02" height="31" fill="#2cffca"/><rect x="351.88" y="468" width="3.02" height="31" fill="#30ffc7"/><rect x="354.30" y="468" width="3.02" height="31" fill="#33ffc4"/><rect x="356.72" y="468" width="3.02" height="31" fill="#36ffc1"/><rect x="359.14" y="468" width="3.02" height="31" fill="#39ffbe"/><rect x="361.56" y="468" width="3.02" height="31" fill="#3cffba"/><rect x="363.98" y="468" width="3.02" height="31" fill="#40ffb7"/><rect x="366.41" y="468" width="3.02" height="31" fill="#43ffb4"/><rect x="368.83" y="468" width="3.02" height="31" fill="#46ffb1"/><rect x="371.25" y="468" width="3.02" height="31" fill="#49ffad"/><rect x="373.67" y="468" width="3.02" height="31" fill="#4dffaa"/><rect x="376.09" y="468" width="3.02" height="31" fill="#50ffa7"/><rect x="378.52" y="468" width="3.02" height="31" fill="#53ffa4"/><rect x="380.94" y="468" width="3.02" height="31" fill="#56ffa0"/><rect x="383.36" y="468" width="3.02" height="31" fill="#5aff9d"/><rect x="385.78" y="468" width="3.02" height="31" fill="#5dff9a"/><rect x="388.20" y="468" width="3.02" height="31" fill="#60ff97"/><rect x="390.62" y="468" width="3.02" height="31" fill="#63ff94"/><rect x="393.05" y="468" width="3.02" height="31" fill="#66ff90"/><rect x="395.47" y="468" width="3.02" height="31" fill="#6aff8d"/><rect x="397.89" y="468" width="3.02" height="31" fill="#6dff8a"/><rect x="400.31" y="468" width="3.02" height="31" fill="#70ff87"/><rect x="402.73" y="468" width="3.02" height="31" fill="#73ff83"/><rect x="405.16" y="468" width="3.02" height="31" fill="#77ff80"/><rect x="407.58" y="468" width="3.02" height="31" fill="#7aff7d"/><rect x="410.00" y="468" width="3.02" height="31" fill="#7dff7a"/><rect x="412.42" y="468" width="3.02" height="31" fill="#80ff77"/><rect x="414.84" y="468" width="3.02" height="31" fill="#83ff73"/><rect x="417.27" y="468" width="3.02" height="31" fill="#87ff70"/><rect x="419.69" y="468" width="3.02" height="31" fill="#8aff6d"/><rect x="422.11" y="468" width="3.02" height="31" fill="#8dff6a"/><rect x="424.53" y="468" width="3.02" height="31" fill="#90ff66"/><rect x="426.95" y="468" width="3.02" height="31" fill="#94ff63"/><rect x="429.38" y="468" width="3.02" height="31" fill="#97ff60"/><rect x="431.80" y="468" width="3.02" height="31" fill="#9aff5d"/><rect x="434.22" y="468" width="3.02" height="31" fill="#9dff5a"/><rect x="436.64" y="468" width="3.02" height="31" fill="#a0ff56"/><rect x="439.06" y="468" width="3.02" height="31" fill="#a4ff53"/><rect x="441.48" y="468" width="3.02" height="31" fill="#a7ff50"/><rect x="443.91" y="468" width="3.02" height="31" fill="#aaff4d"/><rect x="446.33" y="468" width="3.02" height="31" fill="#adff49"/><rect x="448.75" y="468" width="3.02" height="31" fill="#b1ff46"/><rect x="451.17" y="468" width="3.02" height="31" fill="#b4ff43"/><rect x="453.59" y="468" width="3.02" height="31" fill="#b7ff40"/><rect x="456.02" y="468" width="3.02" height="31" fill="#baff3c"/><rect x="458.44" y="468" width="3.02" height="31" fill="#beff39"/><rect x="460.86" y="468" width="3.02" height="31" fill="#c1ff36"/><rect x="463.28" y="468" width="3.02" height="31" fill="#c4ff33"/><rect x="465.70" y="468" width="3.02" height="31" fill="#c7ff30"/><rect x="468.12" y="468" width="3.02" height="31" fill="#caff2c"/><rect x="470.55" y="468" width="3.02" height="31" fill="#ceff29"/><rect x="472.97" y="468" width="3.02" height="31" fill="#d1ff26"/><rect x="475.39" y="468" width="3.02" height="31" fill="#d4ff23"/><rect x="477.81" y="468" width="3.02" height="31" fill="#d7ff1f"/><rect x="480.23" y="468" width="3.02" height="31" fill="#dbff1c"/><rect x="482.66" y="468" width="3.02" height="31" fill="#deff19"/><rect x="485.08" y="468" width="3.02" height="31" fill="#e1ff16"/><rect x="487.50" y="468" width="3.02" height="31" fill="#e4ff13"/><rect x="489.92" y="468" width="3.02" height="31" fill="#e7ff0f"/><rect x="492.34" y="468" width="3.02" height="31" fill="#ebff0c"/><rect x="494.77" y="468" width="3.02" height="31" fill="#eeff09"/><rect x="497.19" y="468" width="3.02" height="31" fill="#f1fc06"/><rect x="499.61" y="468" width="3.02" height="31" fill="#f4f802"/><rect x="502.03" y="468" width="3.02" height="31" fill="#f8f500"/><rect x="504.45" y="468" width="3.02" height="31" fill="#fbf100"/><rect x="506.88" y="468" width="3.02" height="31" fill="#feed00"/><rect x="509.30" y="468" width="3.02" height="31" fill="#ffea00"/><rect x="511.72" y="468" width="3.02" height="31" fill="#ffe600"/><rect x="514.14" y="468" width="3.02" height="31" fill="#ffe200"/><rect x="516.56" y="468" width="3.02" height="31" fill="#ffde00"/><rect x="518.98" y="468" width="3.02" height="31" fill="#ffdb00"/><rect x="521.41" y="468" width="3.02" height="31" fill="#ffd700"/><rect x="523.83" y="468" width="3.02" height="31" fill="#ffd300"/><rect x="526.25" y="468" width="3.02" height="31" fill="#ffd000"/><rect x="528.67" y="468" width="3.02" height="31" fill="#ffcc00"/><rect x="531.09" y="468" width="3.02" height="31" fill="#ffc800"/><rect x="533.52" y="468" width="3.02" height="31" fill="#ffc400"/><rect x="535.94" y="468" width="3.02" height="31" fill="#ffc100"/><rect x="538.36" y="468" width="3.02" height="31" fill="#ffbd00"/><rect x="540.78" y="468" width="3.02" height="31" fill="#ffb900"/><rect x="543.20" y="468" width="3.02" height="31" fill="#ffb600"/><rect x="545.62" y="468" width="3.02" height="31" fill="#ffb200"/><rect x="548.05" y="468" width="3.02" height="31" fill="#ffae00"/><rect x="550.47" y="468" width="3.02" height="31" fill="#ffab00"/><rect x="552.89" y="468" width="3.02" height="31" fill="#ffa700"/><rect x="555.31" y="468" width="3.02" height="31" fill="#ffa300"/><rect x="557.73" y="468" width="3.02" height="31" fill="#ff9f00"/><rect x="560.16" y="468" width="3.02" height="31" fill="#ff9c00"/><rect x="562.58" y="468" width="3.02" height="31" fill="#ff9800"/><rect x="565.00" y="468" width="3.02" height="31" fill="#ff9400"/><rect x="567.42" y="468" width="3.02" height="31" fill="#ff9100"/><rect x="569.84" y="468" width="3.02" height="31" fill="#ff8d00"/><rect x="572.27" y="468" width="3.02" height="31" fill="#ff8900"/><rect x="574.69" y="468" width="3.02" height="31" fill="#ff8600"/><rect x="577.11" y="468" width="3.02" height="31" fill="#ff8200"/><rect x="579.53" y="468" width="3.02" height="31" fill="#ff7e00"/><rect x="581.95" y="468" width="3.02" height="31" fill="#ff7a00"/><rect x="584.38" y="468" width="3.02" height="31" fill="#ff7700"/><rect x="586.80" y="468" width="3.02" height="31" fill="#ff7300"/><rect x="589.22" y="468" width="3.02" height="31" fill="#ff6f00"/><rect x="591.64" y="468" width="3.02" height="31" fill="#ff6c00"/><rect x="594.06" y="468" width="3.02" height="31" fill="#ff6800"/><rect x="596.48" y="468" width="3.02" height="31" fill="#ff6400"/><rect x="598.91" y="468" width="3.02" height="31" fill="#ff6000"/><rect x="601.33" y="468" width="3.02" height="31" fill="#ff5d00"/><rect x="603.75" y="468" width="3.02" height="31" fill="#ff5900"/><rect x="606.17" y="468" width="3.02" height="31" fill="#ff5500"/><rect x="608.59" y="468" width="3.02" height="31" fill="#ff5200"/><rect x="611.02" y="468" width="3.02" height="31" fill="#ff4e00"/><rect x="613.44" y="468" width="3.02" height="31" fill="#ff4a00"/><rect x="615.86" y="468" width="3.02" height="31" fill="#ff4700"/><rect x="618.28" y="468" width="3.02" height="31" fill="#ff4300"/><rect x="620.70" y="468" width="3.02" height="31" fill="#ff3f00"/><rect x="623.12" y="468" width="3.02" height="31" fill="#ff3b00"/><rect x="625.55" y="468" width="3.02" height="31" fill="#ff3800"/><rect x="627.97" y="468" width="3.02" height="31" fill="#ff3400"/><rect x="630.39" y="468" width="3.02" height="31" fill="#ff3000"/><rect x="632.81" y="468" width="3.02" height="31" fill="#ff2d00"/><rect x="635.23" y="468" width="3.02" height="31" fill="#ff2900"/><rect x="637.66" y="468" width="3.02" height="31" fill="#ff2500"/><rect x="640.08" y="468" width="3.02" height="31" fill="#ff2200"/><rect x="642.50" y="468" width="3.02" height="31" fill="#ff1e00"/><rect x="644.92" y="468" width="3.02" height="31" fill="#ff1a00"/><rect x="647.34" y="468" width="3.02" height="31" fill="#ff1600"/><rect x="649.77" y="468" width="3.02" height="31" fill="#ff1300"/><rect x="652.19" y="468" width="3.02" height="31" fill="#fa0f00"/><rect x="654.61" y="468" width="3.02" height="31" fill="#f60b00"/><rect x="657.03" y="468" width="3.02" height="31" fill="#f10800"/><rect x="659.45" y="468" width="3.02" height="31" fill="#ed0400"/><rect x="661.88" y="468" width="3.02" height="31" fill="#e80000"/><rect x="664.30" y="468" width="3.02" height="31" fill="#e40000"/><rect x="666.72" y="468" width="3.02" height="31" fill="#df0000"/><rect x="669.14" y="468" width="3.02" height="31" fill="#da0000"/><rect x="671.56" y="468" width="3.02" height="31" fill="#d60000"/><rect x="673.98" y="468" width="3.02" height="31" fill="#d10000"/><rect x="676.41" y="468" width="3.02" height="31" fill="#cd0000"/><rect x="678.83" y="468" width="3.02" height="31" fill="#c80000"/><rect x="681.25" y="468" width="3.02" height="31" fill="#c40000"/><rect x="683.67" y="468" width="3.02" height="31" fill="#bf0000"/><rect x="686.09" y="468" width="3.02" height="31" fill="#bb0000"/><rect x="688.52" y="468" width="3.02" height="31" fill="#b60000"/><rect x="690.94" y="468" width="3.02" height="31" fill="#b20000"/><rect x="693.36" y="468" width="3.02" height="31" fill="#ad0000"/><rect x="695.78" y="468" width="3.02" height="31" fill="#a80000"/><rect x="698.20" y="468" width="3.02" height="31" fill="#a40000"/><rect x="700.62" y="468" width="3.02" height="31" fill="#9f0000"/><rect x="703.05" y="468" width="3.02" height="31" fill="#9b0000"/><rect x="705.47" y="468" width="3.02" height="31" fill="#960000"/><rect x="707.89" y="468" width="3.02" height="31" fill="#920000"/><rect x="710.31" y="468" width="3.02" height="31" fill="#8d0000"/><rect x="712.73" y="468" width="3.02" height="31" fill="#890000"/><rect x="715.16" y="468" width="3.02" height="31" fill="#840000"/><rect x="717.58" y="468" width="3.02" height="31" fill="#800000"/></g>
<rect x="100.5" y="468.5" width="620" height="31" fill="none" stroke="#000" stroke-width="1.2" shape-rendering="crispEdges"/>
<g font-family="DejaVu Sans, Liberation Sans, sans-serif" font-size="16.67px" fill="#000"><line x1="174.9" y1="494" x2="174.9" y2="499" stroke="#000" stroke-width="1"/><text x="174.9" y="518.5" text-anchor="middle">0.4</text><line x1="249.8" y1="494" x2="249.8" y2="499" stroke="#000" stroke-width="1"/><text x="249.8" y="518.5" text-anchor="middle">0.8</text><line x1="324.8" y1="494" x2="324.8" y2="499" stroke="#000" stroke-width="1"/><text x="324.8" y="518.5" text-anchor="middle">1.2</text><line x1="399.7" y1="494" x2="399.7" y2="499" stroke="#000" stroke-width="1"/><text x="399.7" y="518.5" text-anchor="middle">1.6</text><line x1="474.6" y1="494" x2="474.6" y2="499" stroke="#000" stroke-width="1"/><text x="474.6" y="518.5" text-anchor="middle">2.0</text><line x1="549.5" y1="494" x2="549.5" y2="499" stroke="#000" stroke-width="1"/><text x="549.5" y="518.5" text-anchor="middle">2.4</text><line x1="624.5" y1="494" x2="624.5" y2="499" stroke="#000" stroke-width="1"/><text x="624.5" y="518.5" text-anchor="middle">2.8</text><line x1="699.4" y1="494" x2="699.4" y2="499" stroke="#000" stroke-width="1"/><text x="699.4" y="518.5" text-anchor="middle">3.2</text></g>
<text x="410" y="544" text-anchor="middle" font-family="DejaVu Sans, Liberation Sans, sans-serif" font-size="16.67px">VTEC</text>
<text x="720" y="540.5" text-anchor="end" font-family="DejaVu Sans, Liberation Sans, sans-serif" font-size="16.67px">1e17</text>
<text x="410" y="89.5" text-anchor="middle" font-family="DejaVu Sans, Liberation Sans, sans-serif" font-size="20px">Nequick-Galileo VTEC : 20 Hour of 216 DOY [2019/08/04]</text>
</svg>
</body></html>
